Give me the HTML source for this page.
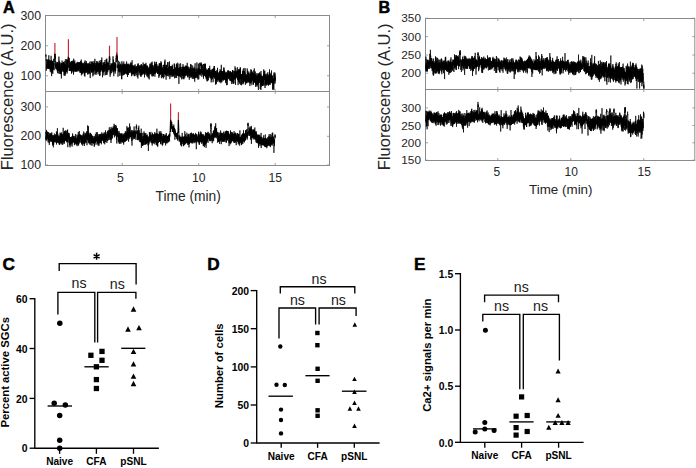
<!DOCTYPE html>
<html><head><meta charset="utf-8"><style>
html,body{margin:0;padding:0;background:#fff;}
body{width:696px;height:468px;overflow:hidden;}
svg{display:block;font-family:"Liberation Sans", sans-serif;}
</style></head><body>
<svg width="696" height="468" viewBox="0 0 696 468">
<rect width="696" height="468" fill="#fff"/>
<rect x="45.5" y="15.5" width="284.0" height="150.0" fill="none" stroke="#8a8a8a" stroke-width="1"/>
<line x1="45.5" y1="91.5" x2="329.5" y2="91.5" stroke="#8a8a8a" stroke-width="1"/>
<line x1="122.2" y1="15.5" x2="122.2" y2="18.0" stroke="#8a8a8a" stroke-width="0.8"/>
<line x1="122.2" y1="91.5" x2="122.2" y2="94.0" stroke="#8a8a8a" stroke-width="0.8"/>
<line x1="122.2" y1="91.5" x2="122.2" y2="89.0" stroke="#8a8a8a" stroke-width="0.8"/>
<line x1="122.2" y1="165.5" x2="122.2" y2="163.0" stroke="#8a8a8a" stroke-width="0.8"/>
<line x1="198.7" y1="15.5" x2="198.7" y2="18.0" stroke="#8a8a8a" stroke-width="0.8"/>
<line x1="198.7" y1="91.5" x2="198.7" y2="94.0" stroke="#8a8a8a" stroke-width="0.8"/>
<line x1="198.7" y1="91.5" x2="198.7" y2="89.0" stroke="#8a8a8a" stroke-width="0.8"/>
<line x1="198.7" y1="165.5" x2="198.7" y2="163.0" stroke="#8a8a8a" stroke-width="0.8"/>
<line x1="275.2" y1="15.5" x2="275.2" y2="18.0" stroke="#8a8a8a" stroke-width="0.8"/>
<line x1="275.2" y1="91.5" x2="275.2" y2="94.0" stroke="#8a8a8a" stroke-width="0.8"/>
<line x1="275.2" y1="91.5" x2="275.2" y2="89.0" stroke="#8a8a8a" stroke-width="0.8"/>
<line x1="275.2" y1="165.5" x2="275.2" y2="163.0" stroke="#8a8a8a" stroke-width="0.8"/>
<line x1="45.5" y1="15.5" x2="48.0" y2="15.5" stroke="#8a8a8a" stroke-width="0.8"/>
<line x1="329.5" y1="15.5" x2="327.0" y2="15.5" stroke="#8a8a8a" stroke-width="0.8"/>
<text x="41.0" y="19.6" font-size="12.3" text-anchor="end" font-weight="normal" fill="#262626" >300</text>
<line x1="45.5" y1="45.8" x2="48.0" y2="45.8" stroke="#8a8a8a" stroke-width="0.8"/>
<line x1="329.5" y1="45.8" x2="327.0" y2="45.8" stroke="#8a8a8a" stroke-width="0.8"/>
<text x="41.0" y="49.9" font-size="12.3" text-anchor="end" font-weight="normal" fill="#262626" >200</text>
<line x1="45.5" y1="75.8" x2="48.0" y2="75.8" stroke="#8a8a8a" stroke-width="0.8"/>
<line x1="329.5" y1="75.8" x2="327.0" y2="75.8" stroke="#8a8a8a" stroke-width="0.8"/>
<text x="41.0" y="79.89999999999999" font-size="12.3" text-anchor="end" font-weight="normal" fill="#262626" >100</text>
<line x1="45.5" y1="106.9" x2="48.0" y2="106.9" stroke="#8a8a8a" stroke-width="0.8"/>
<line x1="329.5" y1="106.9" x2="327.0" y2="106.9" stroke="#8a8a8a" stroke-width="0.8"/>
<text x="41.0" y="111.0" font-size="12.3" text-anchor="end" font-weight="normal" fill="#262626" >300</text>
<line x1="45.5" y1="136.3" x2="48.0" y2="136.3" stroke="#8a8a8a" stroke-width="0.8"/>
<line x1="329.5" y1="136.3" x2="327.0" y2="136.3" stroke="#8a8a8a" stroke-width="0.8"/>
<text x="41.0" y="140.4" font-size="12.3" text-anchor="end" font-weight="normal" fill="#262626" >200</text>
<line x1="45.5" y1="165.0" x2="48.0" y2="165.0" stroke="#8a8a8a" stroke-width="0.8"/>
<line x1="329.5" y1="165.0" x2="327.0" y2="165.0" stroke="#8a8a8a" stroke-width="0.8"/>
<text x="41.0" y="169.1" font-size="12.3" text-anchor="end" font-weight="normal" fill="#262626" >100</text>
<text x="120.3" y="182.1" font-size="12.2" text-anchor="middle" font-weight="normal" fill="#262626" >5</text>
<text x="198.7" y="182.1" font-size="12.2" text-anchor="middle" font-weight="normal" fill="#262626" >10</text>
<text x="275.2" y="182.1" font-size="12.2" text-anchor="middle" font-weight="normal" fill="#262626" >15</text>
<text x="188.2" y="200.7" font-size="13.8" text-anchor="middle" font-weight="normal" fill="#262626" >Time (min)</text>
<text x="0" y="0" font-size="16.5" text-anchor="start" font-weight="normal" fill="#262626" transform="translate(12.8,170.2) rotate(-90)">Fluorescence (A.U.)</text>
<text x="2.9" y="12.8" font-size="16.2" text-anchor="start" font-weight="bold" fill="#000" stroke="#000" stroke-width="0.5">A</text>
<rect x="425.5" y="18.5" width="269.29999999999995" height="142.0" fill="none" stroke="#8a8a8a" stroke-width="1"/>
<line x1="425.5" y1="89.5" x2="694.8" y2="89.5" stroke="#8a8a8a" stroke-width="1"/>
<line x1="497.8" y1="18.5" x2="497.8" y2="21.0" stroke="#8a8a8a" stroke-width="0.8"/>
<line x1="497.8" y1="89.5" x2="497.8" y2="92.0" stroke="#8a8a8a" stroke-width="0.8"/>
<line x1="497.8" y1="89.5" x2="497.8" y2="87.0" stroke="#8a8a8a" stroke-width="0.8"/>
<line x1="497.8" y1="160.5" x2="497.8" y2="158.0" stroke="#8a8a8a" stroke-width="0.8"/>
<line x1="570.8" y1="18.5" x2="570.8" y2="21.0" stroke="#8a8a8a" stroke-width="0.8"/>
<line x1="570.8" y1="89.5" x2="570.8" y2="92.0" stroke="#8a8a8a" stroke-width="0.8"/>
<line x1="570.8" y1="89.5" x2="570.8" y2="87.0" stroke="#8a8a8a" stroke-width="0.8"/>
<line x1="570.8" y1="160.5" x2="570.8" y2="158.0" stroke="#8a8a8a" stroke-width="0.8"/>
<line x1="643.8" y1="18.5" x2="643.8" y2="21.0" stroke="#8a8a8a" stroke-width="0.8"/>
<line x1="643.8" y1="89.5" x2="643.8" y2="92.0" stroke="#8a8a8a" stroke-width="0.8"/>
<line x1="643.8" y1="89.5" x2="643.8" y2="87.0" stroke="#8a8a8a" stroke-width="0.8"/>
<line x1="643.8" y1="160.5" x2="643.8" y2="158.0" stroke="#8a8a8a" stroke-width="0.8"/>
<line x1="425.5" y1="18.2" x2="428.0" y2="18.2" stroke="#8a8a8a" stroke-width="0.8"/>
<line x1="694.8" y1="18.2" x2="692.3" y2="18.2" stroke="#8a8a8a" stroke-width="0.8"/>
<text x="421.0" y="22.4" font-size="11.8" text-anchor="end" font-weight="normal" fill="#262626" >350</text>
<line x1="425.5" y1="36.6" x2="428.0" y2="36.6" stroke="#8a8a8a" stroke-width="0.8"/>
<line x1="694.8" y1="36.6" x2="692.3" y2="36.6" stroke="#8a8a8a" stroke-width="0.8"/>
<text x="421.0" y="40.800000000000004" font-size="11.8" text-anchor="end" font-weight="normal" fill="#262626" >300</text>
<line x1="425.5" y1="55.0" x2="428.0" y2="55.0" stroke="#8a8a8a" stroke-width="0.8"/>
<line x1="694.8" y1="55.0" x2="692.3" y2="55.0" stroke="#8a8a8a" stroke-width="0.8"/>
<text x="421.0" y="59.2" font-size="11.8" text-anchor="end" font-weight="normal" fill="#262626" >250</text>
<line x1="425.5" y1="73.2" x2="428.0" y2="73.2" stroke="#8a8a8a" stroke-width="0.8"/>
<line x1="694.8" y1="73.2" x2="692.3" y2="73.2" stroke="#8a8a8a" stroke-width="0.8"/>
<text x="421.0" y="77.4" font-size="11.8" text-anchor="end" font-weight="normal" fill="#262626" >200</text>
<line x1="425.5" y1="107.9" x2="428.0" y2="107.9" stroke="#8a8a8a" stroke-width="0.8"/>
<line x1="694.8" y1="107.9" x2="692.3" y2="107.9" stroke="#8a8a8a" stroke-width="0.8"/>
<text x="421.0" y="112.10000000000001" font-size="11.8" text-anchor="end" font-weight="normal" fill="#262626" >300</text>
<line x1="425.5" y1="125.4" x2="428.0" y2="125.4" stroke="#8a8a8a" stroke-width="0.8"/>
<line x1="694.8" y1="125.4" x2="692.3" y2="125.4" stroke="#8a8a8a" stroke-width="0.8"/>
<text x="421.0" y="129.6" font-size="11.8" text-anchor="end" font-weight="normal" fill="#262626" >250</text>
<line x1="425.5" y1="142.8" x2="428.0" y2="142.8" stroke="#8a8a8a" stroke-width="0.8"/>
<line x1="694.8" y1="142.8" x2="692.3" y2="142.8" stroke="#8a8a8a" stroke-width="0.8"/>
<text x="421.0" y="147.0" font-size="11.8" text-anchor="end" font-weight="normal" fill="#262626" >200</text>
<line x1="425.5" y1="160.2" x2="428.0" y2="160.2" stroke="#8a8a8a" stroke-width="0.8"/>
<line x1="694.8" y1="160.2" x2="692.3" y2="160.2" stroke="#8a8a8a" stroke-width="0.8"/>
<text x="421.0" y="164.39999999999998" font-size="11.8" text-anchor="end" font-weight="normal" fill="#262626" >150</text>
<text x="496.8" y="176.4" font-size="12.0" text-anchor="middle" font-weight="normal" fill="#262626" >5</text>
<text x="571.3" y="176.4" font-size="12.0" text-anchor="middle" font-weight="normal" fill="#262626" >10</text>
<text x="644.3" y="176.4" font-size="12.0" text-anchor="middle" font-weight="normal" fill="#262626" >15</text>
<text x="560.8" y="193.5" font-size="13.4" text-anchor="middle" font-weight="normal" fill="#262626" >Time (min)</text>
<text x="0" y="0" font-size="16.5" text-anchor="start" font-weight="normal" fill="#262626" transform="translate(390.3,170.2) rotate(-90)">Fluorescence (A.U.)</text>
<text x="378.4" y="12.8" font-size="16.2" text-anchor="start" font-weight="bold" fill="#000" stroke="#000" stroke-width="0.5">B</text>
<polyline points="45.8,54.6 45.9,56.5 45.9,55.7 46.0,54.6 46.0,57.2 46.1,57.3 46.2,58.3 46.2,58.9 46.3,60.7 46.3,59.3 46.4,70.6 46.5,65.1 46.5,67.7 46.6,65.0 46.6,64.2 46.7,67.0 46.8,68.2 46.8,64.8 46.9,65.0 46.9,67.8 47.0,62.7 47.1,60.5 47.1,66.8 47.2,63.3 47.2,59.2 47.3,62.9 47.4,64.0 47.4,61.6 47.5,60.6 47.5,65.7 47.6,68.5 47.7,64.7 47.7,63.1 47.8,66.8 47.8,67.9 47.9,64.5 48.0,67.3 48.0,68.9 48.1,64.8 48.1,62.7 48.2,66.6 48.3,66.2 48.3,69.0 48.4,61.2 48.4,63.2 48.5,62.6 48.6,59.7 48.6,65.8 48.7,67.1 48.7,62.9 48.8,55.3 48.9,68.1 48.9,67.5 49.0,66.7 49.0,68.6 49.1,61.0 49.2,67.5 49.2,67.5 49.3,59.7 49.3,66.7 49.4,64.7 49.5,68.1 49.5,64.1 49.6,65.5 49.6,66.8 49.7,62.8 49.8,67.7 49.8,65.4 49.9,67.4 49.9,64.1 50.0,69.4 50.1,67.9 50.1,65.3 50.2,68.0 50.2,70.1 50.3,71.8 50.4,60.7 50.4,68.9 50.5,67.5 50.5,65.7 50.6,62.7 50.7,70.1 50.7,61.8 50.8,67.9 50.8,70.3 50.9,60.7 51.0,65.0 51.0,61.7 51.1,55.8 51.1,71.0 51.2,72.7 51.3,60.1 51.3,64.1 51.4,68.3 51.4,71.1 51.5,67.3 51.6,63.4 51.6,76.1 51.7,65.8 51.7,65.2 51.8,63.4 51.9,67.1 51.9,66.8 52.0,65.4 52.0,65.0 52.1,61.5 52.2,64.1 52.2,69.7 52.3,65.1 52.3,60.9 52.4,70.1 52.5,67.4 52.5,72.6 52.6,65.9 52.6,64.1 52.7,60.9 52.8,70.0 52.8,73.9 52.9,63.0 52.9,63.6 53.0,67.7 53.1,63.0 53.1,64.8 53.2,64.6 53.2,66.4 53.3,69.4 53.4,65.8 53.4,68.8 53.5,64.4 53.5,66.9 53.6,58.8 53.7,61.0 53.7,68.5 53.8,63.9 53.8,67.8 53.9,67.7 54.0,70.3 54.0,68.6 54.1,69.3 54.1,65.6 54.2,63.6 54.3,63.5 54.3,64.4 54.4,62.2 54.4,59.2 54.5,59.8 54.6,59.6 54.6,58.6 54.7,57.9 54.7,55.6 54.8,53.6 54.9,55.4 54.9,56.9 55.0,57.4 55.0,53.9 55.1,56.5 55.2,59.0 55.2,56.5 55.3,57.0 55.3,57.9 55.4,67.7 55.5,67.9 55.5,68.3 55.6,68.2 55.6,67.1 55.7,67.0 55.8,61.5 55.8,66.0 55.9,64.1 55.9,66.9 56.0,65.0 56.1,68.6 56.1,69.3 56.2,67.6 56.2,67.7 56.3,66.9 56.4,65.2 56.4,66.1 56.5,65.0 56.5,68.0 56.6,66.8 56.7,68.7 56.7,62.4 56.8,69.7 56.8,64.3 56.9,64.4 57.0,66.2 57.0,65.0 57.1,67.9 57.1,65.1 57.2,63.5 57.3,64.3 57.3,71.4 57.4,67.3 57.4,63.3 57.5,67.2 57.6,62.1 57.6,73.2 57.7,62.3 57.7,69.0 57.8,69.2 57.9,62.7 57.9,68.5 58.0,70.8 58.0,69.1 58.1,68.5 58.2,70.8 58.2,68.2 58.3,68.9 58.3,67.4 58.4,69.9 58.5,64.8 58.5,70.5 58.6,66.3 58.6,64.4 58.7,69.2 58.8,73.6 58.8,71.3 58.9,66.4 58.9,56.6 59.0,66.7 59.1,67.8 59.1,68.5 59.2,60.6 59.2,68.9 59.3,64.9 59.4,66.0 59.4,63.5 59.5,63.4 59.5,65.3 59.6,71.1 59.7,73.9 59.7,68.3 59.8,72.0 59.8,67.6 59.9,62.1 60.0,68.9 60.0,69.9 60.1,67.0 60.1,69.4 60.2,70.3 60.3,65.5 60.3,63.4 60.4,67.6 60.4,67.6 60.5,67.0 60.6,71.4 60.6,73.8 60.7,66.7 60.7,70.3 60.8,71.1 60.9,70.3 60.9,71.3 61.0,66.5 61.0,70.2 61.1,74.3 61.2,70.2 61.2,65.5 61.3,69.5 61.3,71.6 61.4,78.4 61.5,65.4 61.5,72.3 61.6,63.0 61.6,68.8 61.7,67.0 61.8,63.1 61.8,71.0 61.9,68.1 61.9,63.0 62.0,68.9 62.1,65.4 62.1,60.6 62.2,64.5 62.2,67.7 62.3,68.9 62.4,67.3 62.4,67.0 62.5,68.4 62.5,66.1 62.6,70.7 62.7,67.4 62.7,67.9 62.8,68.7 62.8,63.4 62.9,64.6 63.0,72.0 63.0,68.1 63.1,66.1 63.1,68.2 63.2,65.5 63.3,68.1 63.3,65.0 63.4,68.1 63.4,62.0 63.5,71.6 63.6,65.6 63.6,62.0 63.7,66.5 63.7,66.1 63.8,67.8 63.9,63.5 63.9,68.6 64.0,75.5 64.0,63.1 64.1,68.4 64.2,66.3 64.2,67.9 64.3,61.3 64.3,63.5 64.4,68.8 64.5,67.1 64.5,72.6 64.6,64.9 64.6,67.8 64.7,75.5 64.8,64.7 64.8,64.3 64.9,67.1 64.9,67.1 65.0,70.1 65.1,67.7 65.1,64.8 65.2,68.0 65.2,75.6 65.3,71.6 65.4,59.2 65.4,67.0 65.5,64.6 65.5,69.6 65.6,67.0 65.7,74.0 65.7,70.7 65.8,70.6 65.8,68.3 65.9,67.6 66.0,68.9 66.0,72.1 66.1,69.6 66.1,66.7 66.2,72.1 66.3,68.5 66.3,67.6 66.4,65.3 66.4,66.0 66.5,65.8 66.6,59.6 66.6,71.2 66.7,69.7 66.7,67.1 66.8,71.2 66.9,69.1 66.9,68.9 67.0,59.4 67.0,66.8 67.1,69.2 67.2,72.7 67.2,73.4 67.3,72.0 67.3,63.4 67.4,59.9 67.5,69.0 67.5,67.1 67.6,70.1 67.6,66.5 67.7,67.6 67.8,61.8 67.8,68.2 67.9,65.2 67.9,60.5 68.0,62.1 68.1,59.0 68.1,58.6 68.2,58.9 68.2,59.7 68.3,59.3 68.4,56.1 68.4,58.3 68.5,56.9 68.5,57.4 68.6,57.2 68.7,57.9 68.7,59.9 68.8,61.4 68.8,61.2 68.9,66.6 69.0,67.8 69.0,61.6 69.1,63.8 69.1,65.4 69.2,71.0 69.3,57.9 69.3,67.1 69.4,63.9 69.4,67.1 69.5,64.1 69.6,66.9 69.6,70.9 69.7,66.9 69.7,67.2 69.8,67.1 69.9,63.4 69.9,67.7 70.0,65.3 70.0,63.3 70.1,65.9 70.2,65.3 70.2,68.6 70.3,66.0 70.3,64.5 70.4,71.1 70.5,69.6 70.5,70.5 70.6,68.4 70.6,66.1 70.7,65.1 70.8,65.6 70.8,69.7 70.9,66.9 70.9,61.7 71.0,66.5 71.1,62.0 71.1,67.2 71.2,62.7 71.2,62.5 71.3,67.0 71.4,66.4 71.4,61.1 71.5,69.1 71.5,73.7 71.6,61.7 71.7,72.6 71.7,64.3 71.8,64.9 71.8,65.9 71.9,61.7 72.0,70.8 72.0,68.1 72.1,64.0 72.1,65.5 72.2,61.4 72.3,65.3 72.3,69.5 72.4,60.8 72.4,65.0 72.5,66.9 72.6,69.9 72.6,70.9 72.7,65.0 72.7,64.1 72.8,68.0 72.9,65.4 72.9,65.6 73.0,70.2 73.0,72.3 73.1,67.6 73.2,66.1 73.2,68.6 73.3,60.6 73.3,66.7 73.4,63.3 73.5,74.7 73.5,69.2 73.6,67.3 73.6,66.3 73.7,58.7 73.8,69.3 73.8,72.3 73.9,64.5 73.9,69.2 74.0,69.3 74.1,61.8 74.1,70.1 74.2,71.5 74.2,67.8 74.3,66.8 74.4,69.6 74.4,62.0 74.5,67.4 74.5,70.6 74.6,63.0 74.7,70.4 74.7,65.8 74.8,60.4 74.8,66.9 74.9,64.1 75.0,68.4 75.0,63.5 75.1,70.9 75.1,65.1 75.2,68.7 75.3,65.6 75.3,66.6 75.4,71.6 75.4,68.4 75.5,66.4 75.6,63.6 75.6,71.6 75.7,70.2 75.7,66.7 75.8,68.6 75.9,64.4 75.9,64.5 76.0,65.1 76.0,68.9 76.1,68.7 76.2,65.3 76.2,70.1 76.3,70.3 76.3,68.2 76.4,71.0 76.5,66.6 76.5,67.1 76.6,69.0 76.6,67.3 76.7,70.0 76.8,63.2 76.8,72.0 76.9,64.6 76.9,66.6 77.0,62.6 77.1,69.0 77.1,71.2 77.2,70.5 77.2,69.7 77.3,61.8 77.4,64.3 77.4,65.3 77.5,63.7 77.5,70.5 77.6,67.4 77.7,66.6 77.7,68.3 77.8,63.6 77.8,63.7 77.9,63.8 78.0,68.3 78.0,67.8 78.1,68.6 78.1,70.3 78.2,62.3 78.3,64.9 78.3,67.3 78.4,62.4 78.4,65.1 78.5,70.2 78.6,70.5 78.6,70.5 78.7,67.1 78.7,66.3 78.8,70.6 78.9,65.8 78.9,68.2 79.0,71.5 79.0,65.9 79.1,65.2 79.2,67.2 79.2,69.2 79.3,68.8 79.3,67.8 79.4,69.1 79.5,62.0 79.5,64.5 79.6,67.9 79.6,64.3 79.7,62.9 79.8,63.4 79.8,64.3 79.9,66.8 79.9,64.0 80.0,68.2 80.1,73.0 80.1,66.9 80.2,71.6 80.2,68.4 80.3,63.8 80.4,66.6 80.4,64.2 80.5,70.0 80.5,63.7 80.6,71.9 80.7,69.5 80.7,60.9 80.8,70.2 80.8,72.8 80.9,65.0 81.0,70.9 81.0,61.8 81.1,68.6 81.1,62.3 81.2,69.4 81.3,61.9 81.3,59.6 81.4,69.1 81.4,75.4 81.5,65.9 81.6,70.6 81.6,68.2 81.7,66.8 81.7,69.9 81.8,73.3 81.9,63.8 81.9,69.7 82.0,69.0 82.0,63.2 82.1,73.2 82.2,74.3 82.2,64.7 82.3,73.6 82.3,68.0 82.4,67.3 82.5,72.8 82.5,68.6 82.6,68.9 82.6,72.8 82.7,72.1 82.8,70.8 82.8,63.2 82.9,62.6 82.9,71.6 83.0,64.8 83.1,68.4 83.1,64.3 83.2,67.3 83.2,63.7 83.3,73.3 83.4,64.6 83.4,67.6 83.5,67.4 83.5,72.0 83.6,63.3 83.7,68.0 83.7,67.4 83.8,69.9 83.8,69.7 83.9,66.6 84.0,69.0 84.0,67.0 84.1,69.8 84.1,68.0 84.2,66.2 84.3,68.3 84.3,69.6 84.4,75.9 84.4,66.8 84.5,69.5 84.6,73.3 84.6,61.7 84.7,62.8 84.7,64.6 84.8,68.2 84.9,76.6 84.9,69.9 85.0,72.6 85.0,67.8 85.1,60.4 85.2,60.9 85.2,71.9 85.3,69.1 85.3,64.2 85.4,72.1 85.5,63.3 85.5,72.0 85.6,73.0 85.6,65.6 85.7,64.4 85.8,70.8 85.8,64.3 85.9,70.7 85.9,63.9 86.0,70.4 86.1,67.9 86.1,66.1 86.2,64.5 86.2,68.2 86.3,61.1 86.4,66.3 86.4,65.8 86.5,69.3 86.5,62.9 86.6,72.6 86.7,65.8 86.7,63.0 86.8,71.3 86.8,72.2 86.9,66.0 87.0,63.7 87.0,66.6 87.1,64.3 87.1,65.5 87.2,71.6 87.3,67.8 87.3,67.0 87.4,67.6 87.4,66.3 87.5,69.3 87.6,69.4 87.6,65.3 87.7,66.9 87.7,74.6 87.8,68.0 87.9,66.1 87.9,73.5 88.0,66.8 88.0,63.2 88.1,69.1 88.2,63.9 88.2,65.3 88.3,68.1 88.3,66.6 88.4,64.6 88.5,65.3 88.5,65.3 88.6,71.1 88.6,64.9 88.7,65.5 88.8,74.1 88.8,65.6 88.9,72.4 88.9,71.8 89.0,67.0 89.1,62.9 89.1,69.1 89.2,69.8 89.2,70.8 89.3,67.8 89.4,71.6 89.4,72.2 89.5,64.1 89.5,72.3 89.6,68.2 89.7,65.7 89.7,66.5 89.8,73.8 89.8,70.8 89.9,61.6 90.0,67.8 90.0,67.1 90.1,66.9 90.1,65.8 90.2,78.1 90.3,70.3 90.3,64.4 90.4,66.2 90.4,65.5 90.5,65.0 90.6,69.9 90.6,68.7 90.7,65.2 90.7,64.3 90.8,65.9 90.9,70.6 90.9,67.8 91.0,68.2 91.0,66.3 91.1,66.6 91.2,68.1 91.2,61.3 91.3,72.8 91.3,64.8 91.4,65.6 91.5,71.9 91.5,68.2 91.6,67.6 91.6,65.6 91.7,62.4 91.8,68.2 91.8,71.5 91.9,64.7 91.9,72.2 92.0,64.0 92.1,65.3 92.1,69.4 92.2,67.8 92.2,70.1 92.3,65.4 92.4,64.5 92.4,61.8 92.5,64.0 92.5,64.5 92.6,63.4 92.7,69.1 92.7,65.9 92.8,61.6 92.8,76.4 92.9,65.4 93.0,64.1 93.0,72.3 93.1,72.1 93.1,64.5 93.2,63.4 93.3,65.0 93.3,72.0 93.4,67.2 93.4,65.6 93.5,68.1 93.6,72.2 93.6,63.6 93.7,66.9 93.7,63.5 93.8,75.2 93.9,74.0 93.9,71.1 94.0,67.5 94.0,70.1 94.1,60.9 94.2,68.7 94.2,63.3 94.3,63.3 94.3,65.3 94.4,66.4 94.5,69.4 94.5,69.8 94.6,68.3 94.6,64.2 94.7,69.5 94.8,66.8 94.8,71.1 94.9,64.1 94.9,58.8 95.0,65.5 95.1,74.1 95.1,68.5 95.2,66.3 95.2,69.8 95.3,68.5 95.4,68.3 95.4,65.1 95.5,67.0 95.5,67.4 95.6,64.6 95.7,63.0 95.7,67.2 95.8,69.9 95.8,68.8 95.9,68.3 96.0,68.3 96.0,74.9 96.1,67.6 96.1,70.1 96.2,73.2 96.3,66.9 96.3,67.6 96.4,70.2 96.4,72.3 96.5,67.8 96.6,68.0 96.6,67.1 96.7,62.9 96.7,70.5 96.8,66.0 96.9,61.2 96.9,66.4 97.0,61.2 97.0,63.6 97.1,67.0 97.2,64.0 97.2,70.5 97.3,62.2 97.3,67.9 97.4,68.9 97.5,71.9 97.5,70.1 97.6,67.9 97.6,67.4 97.7,67.0 97.8,70.9 97.8,65.0 97.9,68.9 97.9,66.9 98.0,68.0 98.1,66.4 98.1,74.3 98.2,65.1 98.2,68.2 98.3,68.3 98.4,69.4 98.4,68.9 98.5,68.8 98.5,70.7 98.6,62.5 98.7,67.5 98.7,63.4 98.8,68.3 98.8,63.6 98.9,64.4 99.0,67.4 99.0,72.2 99.1,69.5 99.1,68.6 99.2,72.2 99.3,64.5 99.3,60.7 99.4,66.2 99.4,66.7 99.5,71.7 99.6,74.7 99.6,63.2 99.7,75.8 99.7,72.8 99.8,70.4 99.9,68.8 99.9,75.6 100.0,67.8 100.0,66.0 100.1,68.0 100.2,63.0 100.2,69.0 100.3,67.1 100.3,68.5 100.4,68.6 100.5,63.9 100.5,71.7 100.6,64.0 100.6,70.2 100.7,62.0 100.8,68.5 100.8,64.5 100.9,67.4 100.9,65.1 101.0,60.0 101.1,63.5 101.1,67.4 101.2,69.2 101.2,62.3 101.3,60.2 101.4,64.3 101.4,66.5 101.5,65.1 101.5,64.5 101.6,70.0 101.7,70.3 101.7,69.6 101.8,64.1 101.8,57.5 101.9,66.5 102.0,62.5 102.0,70.1 102.1,67.5 102.1,65.6 102.2,71.9 102.3,69.8 102.3,70.1 102.4,71.3 102.4,69.7 102.5,77.3 102.6,66.1 102.6,70.7 102.7,64.9 102.7,67.6 102.8,68.8 102.9,72.3 102.9,71.9 103.0,70.6 103.0,67.1 103.1,70.7 103.2,69.5 103.2,67.3 103.3,72.3 103.3,69.5 103.4,65.5 103.5,72.2 103.5,67.2 103.6,70.1 103.6,63.1 103.7,68.1 103.8,65.1 103.8,65.0 103.9,62.0 103.9,75.4 104.0,67.8 104.1,69.1 104.1,72.0 104.2,68.0 104.2,70.1 104.3,63.9 104.4,69.1 104.4,67.1 104.5,70.1 104.5,69.0 104.6,63.8 104.7,62.3 104.7,65.0 104.8,70.8 104.8,69.7 104.9,69.6 105.0,61.6 105.0,60.0 105.1,66.1 105.1,67.1 105.2,66.1 105.3,69.3 105.3,67.5 105.4,64.1 105.4,65.0 105.5,68.4 105.6,68.1 105.6,67.5 105.7,75.2 105.7,66.8 105.8,68.0 105.9,64.3 105.9,66.3 106.0,69.2 106.0,69.3 106.1,66.8 106.2,68.6 106.2,67.4 106.3,61.0 106.3,58.9 106.4,74.7 106.5,69.8 106.5,66.8 106.6,61.2 106.6,62.7 106.7,71.3 106.8,58.6 106.8,65.7 106.9,69.6 106.9,67.2 107.0,69.2 107.1,66.3 107.1,74.6 107.2,63.3 107.2,62.2 107.3,67.6 107.4,71.4 107.4,66.6 107.5,70.2 107.5,65.1 107.6,62.9 107.7,71.5 107.7,72.1 107.8,72.1 107.8,65.6 107.9,63.3 108.0,63.4 108.0,66.6 108.1,69.3 108.1,69.2 108.2,62.9 108.3,68.3 108.3,67.8 108.4,68.2 108.4,67.9 108.5,67.4 108.6,70.1 108.6,68.6 108.7,69.1 108.7,66.1 108.8,69.8 108.9,68.1 108.9,61.6 109.0,70.2 109.0,62.6 109.1,59.9 109.2,59.7 109.2,58.8 109.3,57.4 109.3,57.0 109.4,57.9 109.5,56.0 109.5,56.2 109.6,56.2 109.6,59.9 109.7,57.0 109.8,58.7 109.8,59.8 109.9,59.5 109.9,60.3 110.0,69.5 110.1,76.7 110.1,65.0 110.2,69.1 110.2,67.1 110.3,66.4 110.4,69.1 110.4,72.9 110.5,65.7 110.5,65.6 110.6,70.3 110.7,69.7 110.7,74.3 110.8,71.2 110.8,68.5 110.9,66.6 111.0,68.4 111.0,67.0 111.1,63.1 111.1,67.6 111.2,66.9 111.3,66.7 111.3,66.1 111.4,73.0 111.4,69.7 111.5,70.5 111.6,65.4 111.6,64.0 111.7,66.4 111.7,68.2 111.8,66.2 111.9,66.7 111.9,70.5 112.0,68.3 112.0,64.1 112.1,65.9 112.2,65.2 112.2,68.0 112.3,63.5 112.3,66.8 112.4,69.7 112.5,67.5 112.5,64.4 112.6,65.4 112.6,67.9 112.7,69.1 112.8,70.3 112.8,67.0 112.9,63.2 112.9,72.3 113.0,56.3 113.1,69.0 113.1,68.6 113.2,64.2 113.2,66.6 113.3,68.6 113.4,71.2 113.4,68.0 113.5,59.6 113.5,67.1 113.6,69.1 113.7,72.2 113.7,70.3 113.8,76.2 113.8,72.7 113.9,72.5 114.0,71.2 114.0,63.6 114.1,71.0 114.1,70.2 114.2,66.5 114.3,70.2 114.3,69.7 114.4,66.8 114.4,67.9 114.5,67.5 114.6,69.1 114.6,67.0 114.7,70.2 114.7,62.1 114.8,67.5 114.9,62.9 114.9,66.9 115.0,70.2 115.0,68.5 115.1,68.1 115.2,68.7 115.2,73.6 115.3,64.8 115.3,71.4 115.4,63.5 115.5,66.9 115.5,69.0 115.6,65.6 115.6,69.1 115.7,70.8 115.8,64.5 115.8,68.1 115.9,67.1 115.9,62.0 116.0,60.5 116.1,62.2 116.1,58.2 116.2,60.5 116.2,58.0 116.3,55.5 116.4,58.6 116.4,55.6 116.5,57.2 116.5,57.9 116.6,53.4 116.7,53.5 116.7,52.6 116.8,58.0 116.8,57.1 116.9,58.0 117.0,58.1 117.0,55.7 117.1,54.0 117.1,54.5 117.2,59.5 117.3,58.3 117.3,58.8 117.4,56.4 117.4,60.2 117.5,59.0 117.6,62.1 117.6,67.9 117.7,66.3 117.7,67.2 117.8,65.0 117.9,64.7 117.9,67.8 118.0,65.0 118.0,76.8 118.1,67.3 118.2,66.6 118.2,67.0 118.3,65.3 118.3,60.8 118.4,68.1 118.5,70.0 118.5,64.1 118.6,69.1 118.6,65.1 118.7,69.1 118.8,70.4 118.8,70.9 118.9,70.7 118.9,67.0 119.0,72.3 119.1,67.9 119.1,70.5 119.2,71.7 119.2,68.4 119.3,65.2 119.4,71.4 119.4,65.7 119.5,66.4 119.5,65.7 119.6,72.1 119.7,68.7 119.7,61.8 119.8,71.6 119.8,76.0 119.9,75.0 120.0,67.2 120.0,69.2 120.1,70.6 120.1,71.8 120.2,68.9 120.3,65.1 120.3,71.2 120.4,70.7 120.4,64.2 120.5,67.3 120.6,69.3 120.6,68.4 120.7,70.1 120.7,70.9 120.8,70.1 120.9,67.9 120.9,63.7 121.0,70.2 121.0,72.8 121.1,74.6 121.2,68.0 121.2,68.0 121.3,72.9 121.3,72.8 121.4,69.2 121.5,78.9 121.5,65.6 121.6,70.0 121.6,65.4 121.7,67.6 121.8,67.7 121.8,79.3 121.9,61.2 121.9,65.5 122.0,69.3 122.1,68.1 122.1,67.0 122.2,69.7 122.2,70.6 122.3,71.2 122.4,65.7 122.4,68.5 122.5,67.4 122.5,65.6 122.6,63.6 122.7,68.2 122.7,65.7 122.8,75.7 122.8,68.3 122.9,68.0 123.0,67.4 123.0,75.0 123.1,65.7 123.1,68.4 123.2,66.4 123.3,68.6 123.3,69.0 123.4,72.8 123.4,64.5 123.5,69.2 123.6,74.7 123.6,67.8 123.7,68.9 123.7,66.7 123.8,61.5 123.9,69.4 123.9,73.7 124.0,68.4 124.0,63.9 124.1,71.0 124.2,70.4 124.2,73.6 124.3,73.4 124.3,69.5 124.4,71.8 124.5,64.6 124.5,74.3 124.6,71.3 124.6,74.3 124.7,74.3 124.8,69.9 124.8,70.4 124.9,68.0 124.9,64.1 125.0,70.5 125.1,71.4 125.1,67.3 125.2,73.3 125.2,71.2 125.3,72.4 125.4,68.3 125.4,65.0 125.5,73.3 125.5,72.7 125.6,70.3 125.7,69.2 125.7,69.6 125.8,70.0 125.8,68.7 125.9,63.7 126.0,72.9 126.0,65.3 126.1,69.0 126.1,69.1 126.2,70.9 126.3,64.6 126.3,73.9 126.4,72.0 126.4,72.3 126.5,73.9 126.6,67.1 126.6,61.5 126.7,70.7 126.7,74.0 126.8,73.4 126.9,67.8 126.9,69.3 127.0,70.5 127.0,63.6 127.1,67.4 127.2,67.5 127.2,74.8 127.3,67.5 127.3,74.8 127.4,69.7 127.5,64.1 127.5,77.0 127.6,66.4 127.6,71.7 127.7,75.3 127.8,67.9 127.8,65.6 127.9,73.1 127.9,69.8 128.0,65.6 128.1,66.0 128.1,68.3 128.2,72.7 128.2,68.5 128.3,71.6 128.4,74.9 128.4,73.6 128.5,74.1 128.5,73.3 128.6,63.9 128.7,73.2 128.7,70.2 128.8,68.7 128.8,65.4 128.9,63.7 129.0,65.3 129.0,68.8 129.1,65.0 129.1,66.1 129.2,66.7 129.3,70.9 129.3,67.7 129.4,68.2 129.4,73.0 129.5,67.6 129.6,70.6 129.6,65.1 129.7,69.7 129.7,69.0 129.8,69.2 129.9,67.0 129.9,65.2 130.0,67.6 130.0,67.0 130.1,72.0 130.2,71.6 130.2,64.6 130.3,70.7 130.3,67.0 130.4,70.1 130.5,67.0 130.5,63.7 130.6,71.9 130.6,70.1 130.7,64.5 130.8,62.3 130.8,66.8 130.9,64.7 130.9,67.3 131.0,70.6 131.1,73.4 131.1,67.3 131.2,73.0 131.2,72.3 131.3,67.0 131.4,63.0 131.4,71.3 131.5,70.5 131.5,76.2 131.6,73.2 131.7,71.0 131.7,74.0 131.8,65.0 131.8,69.1 131.9,67.6 132.0,74.2 132.0,70.4 132.1,60.3 132.1,73.1 132.2,65.6 132.3,71.2 132.3,67.1 132.4,69.5 132.4,70.9 132.5,69.5 132.6,65.7 132.6,73.5 132.7,70.3 132.7,69.0 132.8,71.4 132.9,67.4 132.9,75.4 133.0,70.0 133.0,70.6 133.1,70.6 133.2,66.5 133.2,65.7 133.3,70.3 133.3,70.8 133.4,74.2 133.5,71.3 133.5,66.2 133.6,71.6 133.6,72.7 133.7,73.3 133.8,71.1 133.8,66.1 133.9,74.0 133.9,67.8 134.0,72.1 134.1,65.1 134.1,72.8 134.2,67.7 134.2,73.9 134.3,76.2 134.4,74.3 134.4,66.6 134.5,67.3 134.5,67.6 134.6,72.7 134.7,71.6 134.7,71.0 134.8,71.5 134.8,72.4 134.9,72.6 135.0,76.1 135.0,70.3 135.1,71.1 135.1,64.3 135.2,66.0 135.3,68.1 135.3,66.4 135.4,71.0 135.4,73.6 135.5,68.7 135.6,68.5 135.6,68.3 135.7,70.4 135.7,68.1 135.8,71.2 135.9,70.7 135.9,70.8 136.0,72.1 136.0,69.6 136.1,69.9 136.2,75.1 136.2,69.1 136.3,71.8 136.3,69.3 136.4,67.5 136.5,67.5 136.5,66.2 136.6,68.9 136.6,66.8 136.7,67.3 136.8,72.7 136.8,68.2 136.9,72.4 136.9,69.5 137.0,71.4 137.1,66.5 137.1,69.0 137.2,76.8 137.2,71.3 137.3,71.9 137.4,69.3 137.4,71.4 137.5,64.7 137.5,65.8 137.6,70.0 137.7,71.4 137.7,67.3 137.8,68.1 137.8,67.6 137.9,78.5 138.0,64.9 138.0,64.1 138.1,68.6 138.1,63.2 138.2,65.8 138.3,66.9 138.3,65.6 138.4,69.9 138.4,67.7 138.5,69.0 138.6,66.0 138.6,66.9 138.7,71.1 138.7,70.7 138.8,68.1 138.9,70.9 138.9,70.4 139.0,70.4 139.0,75.2 139.1,68.7 139.2,71.5 139.2,71.6 139.3,69.5 139.3,66.5 139.4,72.7 139.5,71.4 139.5,70.8 139.6,70.7 139.6,70.8 139.7,67.9 139.8,71.9 139.8,65.0 139.9,70.9 139.9,66.1 140.0,69.9 140.1,73.5 140.1,70.3 140.2,69.6 140.2,72.9 140.3,70.3 140.4,69.8 140.4,69.8 140.5,76.1 140.5,73.3 140.6,72.6 140.7,67.0 140.7,73.0 140.8,66.6 140.8,72.3 140.9,67.0 141.0,77.0 141.0,64.9 141.1,74.4 141.1,73.0 141.2,64.4 141.3,69.3 141.3,74.8 141.4,73.7 141.4,64.4 141.5,68.0 141.6,65.8 141.6,66.2 141.7,67.4 141.7,75.5 141.8,69.8 141.9,68.5 141.9,68.1 142.0,71.4 142.0,71.4 142.1,66.1 142.2,73.9 142.2,65.4 142.3,68.1 142.3,70.5 142.4,74.6 142.5,67.8 142.5,69.9 142.6,73.2 142.6,71.0 142.7,72.7 142.8,72.4 142.8,69.8 142.9,71.1 142.9,72.0 143.0,68.9 143.1,74.3 143.1,62.5 143.2,66.0 143.2,73.9 143.3,70.5 143.4,67.0 143.4,70.4 143.5,72.7 143.5,67.3 143.6,71.7 143.7,68.8 143.7,68.8 143.8,68.9 143.8,72.8 143.9,65.5 144.0,67.9 144.0,71.3 144.1,65.1 144.1,63.9 144.2,71.0 144.3,69.1 144.3,68.6 144.4,69.5 144.4,65.8 144.5,77.4 144.6,65.7 144.6,67.5 144.7,64.2 144.7,67.5 144.8,73.9 144.9,69.0 144.9,70.8 145.0,67.3 145.0,74.9 145.1,69.4 145.2,64.8 145.2,71.5 145.3,67.7 145.3,71.0 145.4,69.5 145.5,69.9 145.5,69.5 145.6,66.2 145.6,64.2 145.7,72.5 145.8,68.9 145.8,70.3 145.9,67.9 145.9,62.8 146.0,65.4 146.1,74.3 146.1,67.2 146.2,68.6 146.2,65.0 146.3,68.2 146.4,68.8 146.4,69.4 146.5,69.9 146.5,68.2 146.6,68.4 146.7,70.3 146.7,71.5 146.8,70.0 146.8,76.3 146.9,71.3 147.0,71.2 147.0,68.5 147.1,74.1 147.1,67.4 147.2,65.5 147.3,67.6 147.3,72.9 147.4,67.1 147.4,75.2 147.5,70.9 147.6,66.0 147.6,70.3 147.7,76.9 147.7,68.2 147.8,66.8 147.9,72.8 147.9,75.4 148.0,74.5 148.0,70.0 148.1,71.8 148.2,72.2 148.2,75.0 148.3,78.2 148.3,70.8 148.4,75.4 148.5,70.0 148.5,73.1 148.6,68.1 148.6,68.6 148.7,72.5 148.8,68.2 148.8,74.0 148.9,69.3 148.9,71.3 149.0,70.8 149.1,69.9 149.1,71.4 149.2,74.5 149.2,79.4 149.3,67.0 149.4,71.8 149.4,70.2 149.5,67.8 149.5,71.7 149.6,67.8 149.7,70.3 149.7,74.6 149.8,63.8 149.8,71.2 149.9,71.8 150.0,67.1 150.0,71.9 150.1,71.3 150.1,68.9 150.2,74.0 150.3,65.6 150.3,71.9 150.4,68.9 150.4,66.2 150.5,69.0 150.6,68.3 150.6,72.1 150.7,64.4 150.7,68.6 150.8,67.7 150.9,74.3 150.9,65.4 151.0,72.5 151.0,63.2 151.1,70.1 151.2,68.5 151.2,70.1 151.3,66.6 151.3,62.4 151.4,63.8 151.5,73.2 151.5,69.6 151.6,66.1 151.6,71.9 151.7,66.5 151.8,66.6 151.8,65.1 151.9,73.0 151.9,75.7 152.0,66.1 152.1,70.3 152.1,72.6 152.2,76.5 152.2,61.7 152.3,70.1 152.4,71.9 152.4,65.0 152.5,71.3 152.5,70.7 152.6,72.5 152.7,68.2 152.7,71.6 152.8,68.3 152.8,72.4 152.9,71.0 153.0,69.3 153.0,65.9 153.1,76.0 153.1,74.3 153.2,73.5 153.3,68.5 153.3,69.5 153.4,76.2 153.4,73.1 153.5,67.8 153.6,70.8 153.6,71.1 153.7,69.9 153.7,67.4 153.8,74.6 153.9,72.4 153.9,69.7 154.0,65.1 154.0,68.3 154.1,70.2 154.2,73.0 154.2,68.8 154.3,73.6 154.3,70.3 154.4,67.3 154.5,61.7 154.5,65.7 154.6,64.6 154.6,68.9 154.7,70.4 154.8,73.8 154.8,69.1 154.9,65.2 154.9,76.7 155.0,69.9 155.1,68.0 155.1,67.9 155.2,64.2 155.2,70.7 155.3,69.8 155.4,73.7 155.4,72.1 155.5,71.2 155.5,72.5 155.6,67.3 155.7,66.8 155.7,68.0 155.8,64.1 155.8,67.7 155.9,67.0 156.0,70.3 156.0,68.1 156.1,61.8 156.1,68.2 156.2,72.8 156.3,62.1 156.3,65.7 156.4,68.3 156.4,63.9 156.5,66.5 156.6,68.5 156.6,64.0 156.7,69.4 156.7,69.8 156.8,64.3 156.9,68.7 156.9,72.2 157.0,68.1 157.0,70.2 157.1,71.0 157.2,68.1 157.2,72.2 157.3,70.3 157.3,65.8 157.4,70.9 157.5,72.1 157.5,71.9 157.6,67.2 157.6,70.9 157.7,73.9 157.8,70.2 157.8,73.4 157.9,73.8 157.9,69.4 158.0,71.8 158.1,68.7 158.1,73.2 158.2,69.3 158.2,67.8 158.3,69.6 158.4,69.4 158.4,70.9 158.5,71.2 158.5,65.8 158.6,67.5 158.7,70.8 158.7,71.2 158.8,69.9 158.8,77.9 158.9,73.2 159.0,69.2 159.0,71.9 159.1,73.9 159.1,70.6 159.2,63.6 159.3,69.7 159.3,69.5 159.4,76.3 159.4,63.2 159.5,74.3 159.6,68.7 159.6,72.2 159.7,68.2 159.7,69.7 159.8,72.9 159.9,69.4 159.9,72.6 160.0,68.8 160.0,67.8 160.1,68.4 160.2,67.5 160.2,68.7 160.3,73.6 160.3,65.3 160.4,63.7 160.5,69.2 160.5,74.8 160.6,72.8 160.6,73.7 160.7,73.5 160.8,67.0 160.8,69.9 160.9,61.3 160.9,67.6 161.0,71.7 161.1,64.6 161.1,63.0 161.2,65.6 161.2,70.7 161.3,73.9 161.4,78.2 161.4,74.9 161.5,65.2 161.5,62.6 161.6,70.8 161.7,73.9 161.7,65.1 161.8,68.8 161.8,69.0 161.9,70.7 162.0,70.0 162.0,72.4 162.1,74.2 162.1,71.0 162.2,73.2 162.3,77.3 162.3,67.4 162.4,67.3 162.4,72.5 162.5,76.9 162.6,71.4 162.6,74.4 162.7,69.8 162.7,73.8 162.8,68.7 162.9,73.0 162.9,72.0 163.0,72.0 163.0,75.2 163.1,74.2 163.2,68.7 163.2,73.6 163.3,65.0 163.3,73.9 163.4,78.5 163.5,72.3 163.5,72.2 163.6,70.7 163.6,73.3 163.7,69.0 163.8,72.7 163.8,69.6 163.9,69.0 163.9,70.8 164.0,70.2 164.1,64.7 164.1,77.2 164.2,70.8 164.2,64.7 164.3,73.9 164.4,70.2 164.4,71.0 164.5,72.6 164.5,67.3 164.6,61.6 164.7,69.9 164.7,71.0 164.8,73.5 164.8,67.7 164.9,69.2 165.0,71.4 165.0,59.6 165.1,69.3 165.1,70.9 165.2,66.8 165.3,75.3 165.3,67.0 165.4,70.1 165.4,68.9 165.5,67.7 165.6,71.8 165.6,73.3 165.7,74.8 165.7,71.9 165.8,68.5 165.9,72.9 165.9,65.3 166.0,70.2 166.0,71.8 166.1,79.7 166.2,66.3 166.2,65.2 166.3,75.7 166.3,68.5 166.4,64.8 166.5,66.2 166.5,70.3 166.6,74.2 166.6,70.4 166.7,74.3 166.8,71.2 166.8,72.0 166.9,73.7 166.9,69.3 167.0,71.5 167.1,69.3 167.1,68.5 167.2,72.8 167.2,67.9 167.3,70.9 167.4,68.0 167.4,70.4 167.5,68.9 167.5,74.3 167.6,70.9 167.7,70.9 167.7,76.1 167.8,62.2 167.8,67.0 167.9,62.2 168.0,70.6 168.0,72.1 168.1,72.8 168.1,71.5 168.2,67.8 168.3,76.4 168.3,71.6 168.4,69.8 168.4,66.9 168.5,72.0 168.6,69.0 168.6,69.1 168.7,71.3 168.7,71.3 168.8,67.9 168.9,74.8 168.9,67.3 169.0,67.0 169.0,71.7 169.1,71.1 169.2,70.9 169.2,69.3 169.3,70.8 169.3,68.9 169.4,65.3 169.5,73.2 169.5,61.4 169.6,70.1 169.6,73.3 169.7,71.0 169.8,79.1 169.8,66.3 169.9,68.5 169.9,71.3 170.0,75.5 170.1,70.2 170.1,66.4 170.2,74.9 170.2,68.1 170.3,70.5 170.4,74.1 170.4,69.0 170.5,69.8 170.5,72.9 170.6,70.6 170.7,72.3 170.7,68.2 170.8,71.0 170.8,67.8 170.9,66.2 171.0,77.2 171.0,72.9 171.1,74.4 171.1,68.2 171.2,71.3 171.3,70.7 171.3,66.7 171.4,73.1 171.4,68.9 171.5,70.6 171.6,66.3 171.6,74.6 171.7,73.8 171.7,72.6 171.8,68.3 171.9,69.5 171.9,75.3 172.0,70.4 172.0,72.2 172.1,71.7 172.2,67.6 172.2,76.3 172.3,64.7 172.3,72.0 172.4,71.0 172.5,66.0 172.5,72.4 172.6,73.0 172.6,71.5 172.7,68.6 172.8,72.8 172.8,75.0 172.9,72.1 172.9,77.0 173.0,74.1 173.1,73.8 173.1,75.9 173.2,69.1 173.2,69.5 173.3,72.9 173.4,72.9 173.4,76.1 173.5,74.9 173.5,71.7 173.6,71.8 173.7,70.1 173.7,69.8 173.8,69.4 173.8,73.9 173.9,69.3 174.0,69.6 174.0,71.3 174.1,69.0 174.1,69.9 174.2,63.4 174.3,71.8 174.3,69.5 174.4,71.1 174.4,71.6 174.5,64.3 174.6,78.3 174.6,70.8 174.7,70.9 174.7,64.4 174.8,72.3 174.9,71.6 174.9,69.1 175.0,71.1 175.0,74.5 175.1,69.2 175.2,67.3 175.2,74.6 175.3,71.1 175.3,69.6 175.4,77.8 175.5,70.7 175.5,69.6 175.6,71.0 175.6,68.8 175.7,70.8 175.8,70.6 175.8,67.9 175.9,69.2 175.9,71.1 176.0,71.3 176.1,72.0 176.1,72.6 176.2,70.9 176.2,71.8 176.3,68.8 176.4,69.2 176.4,73.5 176.5,63.6 176.5,71.3 176.6,78.0 176.7,64.1 176.7,75.2 176.8,64.4 176.8,71.5 176.9,75.7 177.0,75.2 177.0,67.4 177.1,66.1 177.1,65.7 177.2,72.9 177.3,69.3 177.3,70.7 177.4,71.6 177.4,72.1 177.5,72.6 177.6,71.3 177.6,65.7 177.7,75.8 177.7,62.7 177.8,75.2 177.9,69.2 177.9,70.6 178.0,69.6 178.0,70.2 178.1,71.3 178.2,70.5 178.2,67.9 178.3,74.3 178.3,69.6 178.4,76.0 178.5,71.1 178.5,69.3 178.6,73.1 178.6,74.6 178.7,68.6 178.8,70.8 178.8,76.4 178.9,68.4 178.9,83.9 179.0,72.3 179.1,67.8 179.1,63.7 179.2,66.3 179.2,73.0 179.3,74.0 179.4,73.8 179.4,73.1 179.5,67.8 179.5,74.1 179.6,75.6 179.7,69.5 179.7,75.0 179.8,70.6 179.8,72.5 179.9,73.1 180.0,67.0 180.0,76.7 180.1,69.0 180.1,71.5 180.2,70.2 180.3,73.3 180.3,73.2 180.4,71.9 180.4,76.4 180.5,72.7 180.6,70.4 180.6,63.3 180.7,70.8 180.7,70.7 180.8,68.8 180.9,68.8 180.9,73.5 181.0,75.0 181.0,77.8 181.1,75.3 181.2,69.2 181.2,72.3 181.3,66.9 181.3,73.8 181.4,72.6 181.5,69.4 181.5,71.0 181.6,70.5 181.6,69.2 181.7,75.7 181.8,79.4 181.8,74.0 181.9,74.8 181.9,71.8 182.0,70.2 182.1,78.6 182.1,70.1 182.2,72.6 182.2,71.0 182.3,73.3 182.4,71.2 182.4,73.3 182.5,67.2 182.5,71.0 182.6,75.9 182.7,68.0 182.7,69.2 182.8,75.9 182.8,72.8 182.9,75.0 183.0,64.1 183.0,71.9 183.1,67.2 183.1,66.9 183.2,72.8 183.3,75.4 183.3,66.5 183.4,67.8 183.4,69.6 183.5,71.1 183.6,67.1 183.6,79.0 183.7,73.5 183.7,70.4 183.8,69.8 183.9,79.3 183.9,79.0 184.0,70.0 184.0,72.8 184.1,75.8 184.2,67.7 184.2,69.7 184.3,76.2 184.3,69.4 184.4,70.3 184.5,67.3 184.5,69.2 184.6,74.0 184.6,69.1 184.7,67.5 184.8,69.7 184.8,77.7 184.9,72.4 184.9,70.0 185.0,72.3 185.1,73.3 185.1,72.2 185.2,65.8 185.2,72.8 185.3,71.0 185.4,74.5 185.4,67.2 185.5,75.1 185.5,70.0 185.6,65.9 185.7,75.9 185.7,69.8 185.8,72.7 185.8,70.8 185.9,75.0 186.0,74.9 186.0,74.9 186.1,73.5 186.1,65.7 186.2,65.5 186.3,71.7 186.3,67.8 186.4,72.5 186.4,71.4 186.5,66.1 186.6,67.3 186.6,67.0 186.7,67.8 186.7,70.0 186.8,72.9 186.9,75.1 186.9,67.4 187.0,68.7 187.0,75.8 187.1,73.6 187.2,71.4 187.2,62.8 187.3,67.3 187.3,71.1 187.4,68.7 187.5,77.3 187.5,71.0 187.6,71.6 187.6,67.1 187.7,67.3 187.8,68.5 187.8,68.7 187.9,70.0 187.9,72.1 188.0,71.7 188.1,74.2 188.1,66.4 188.2,71.6 188.2,71.8 188.3,76.3 188.4,70.3 188.4,72.1 188.5,68.4 188.5,72.5 188.6,72.4 188.7,69.1 188.7,69.7 188.8,71.1 188.8,73.2 188.9,67.4 189.0,74.2 189.0,70.2 189.1,77.7 189.1,76.3 189.2,70.1 189.3,69.4 189.3,79.7 189.4,73.7 189.4,73.5 189.5,70.2 189.6,71.3 189.6,74.4 189.7,73.9 189.7,69.1 189.8,76.0 189.9,73.0 189.9,68.8 190.0,75.4 190.0,71.5 190.1,74.8 190.2,70.4 190.2,73.5 190.3,66.9 190.3,73.6 190.4,67.3 190.5,73.0 190.5,64.2 190.6,72.3 190.6,74.9 190.7,74.2 190.8,76.6 190.8,69.0 190.9,77.8 190.9,78.0 191.0,68.6 191.1,70.0 191.1,70.8 191.2,72.6 191.2,73.3 191.3,64.5 191.4,74.7 191.4,71.9 191.5,69.3 191.5,75.9 191.6,71.6 191.7,76.6 191.7,74.6 191.8,71.7 191.8,76.7 191.9,75.5 192.0,71.2 192.0,67.6 192.1,71.1 192.1,75.0 192.2,72.2 192.3,78.9 192.3,74.0 192.4,73.8 192.4,74.5 192.5,70.3 192.6,72.9 192.6,71.1 192.7,65.5 192.7,67.5 192.8,75.9 192.9,72.0 192.9,73.1 193.0,68.6 193.0,71.6 193.1,76.2 193.2,73.9 193.2,71.9 193.3,78.7 193.3,73.4 193.4,72.5 193.5,77.4 193.5,67.8 193.6,75.4 193.6,69.9 193.7,71.0 193.8,71.3 193.8,74.0 193.9,73.9 193.9,74.6 194.0,74.2 194.1,78.2 194.1,79.1 194.2,75.9 194.2,76.0 194.3,72.2 194.4,69.8 194.4,75.4 194.5,73.6 194.5,76.3 194.6,67.4 194.7,81.7 194.7,69.3 194.8,73.6 194.8,76.8 194.9,68.9 195.0,71.7 195.0,66.8 195.1,63.3 195.1,67.1 195.2,73.9 195.3,74.5 195.3,72.4 195.4,77.7 195.4,78.1 195.5,73.5 195.6,72.7 195.6,72.5 195.7,71.9 195.7,77.8 195.8,74.2 195.9,72.3 195.9,72.6 196.0,75.2 196.0,72.0 196.1,74.4 196.2,73.2 196.2,77.8 196.3,77.1 196.3,68.5 196.4,72.6 196.5,75.5 196.5,71.6 196.6,75.7 196.6,74.1 196.7,74.9 196.8,72.7 196.8,73.9 196.9,62.4 196.9,67.9 197.0,69.7 197.1,69.3 197.1,78.2 197.2,73.6 197.2,73.8 197.3,73.0 197.4,70.7 197.4,69.9 197.5,75.1 197.5,71.0 197.6,77.5 197.7,72.8 197.7,72.5 197.8,71.4 197.8,71.8 197.9,72.1 198.0,77.0 198.0,79.7 198.1,68.1 198.1,72.7 198.2,74.2 198.3,68.8 198.3,69.7 198.4,70.2 198.4,63.7 198.5,73.8 198.6,71.5 198.6,71.3 198.7,71.8 198.7,72.4 198.8,79.2 198.9,72.1 198.9,74.2 199.0,69.7 199.0,72.6 199.1,70.3 199.2,70.9 199.2,68.3 199.3,68.6 199.3,72.8 199.4,73.7 199.5,72.7 199.5,69.0 199.6,72.2 199.6,62.8 199.7,74.2 199.8,70.9 199.8,71.9 199.9,74.8 199.9,69.5 200.0,74.1 200.1,69.4 200.1,72.6 200.2,69.4 200.2,71.7 200.3,75.5 200.4,68.5 200.4,67.9 200.5,66.3 200.5,65.9 200.6,65.3 200.7,66.1 200.7,63.6 200.8,63.2 200.8,65.0 200.9,63.7 201.0,64.4 201.0,64.9 201.1,62.3 201.1,63.8 201.2,65.5 201.3,64.6 201.3,65.5 201.4,63.8 201.4,66.2 201.5,66.2 201.6,67.1 201.6,72.9 201.7,64.9 201.7,70.2 201.8,76.7 201.9,70.3 201.9,71.4 202.0,70.7 202.0,66.9 202.1,74.0 202.2,71.8 202.2,71.6 202.3,73.5 202.3,73.8 202.4,65.0 202.5,73.0 202.5,69.5 202.6,72.0 202.6,69.2 202.7,68.8 202.8,74.9 202.8,71.7 202.9,70.9 202.9,70.9 203.0,72.2 203.1,71.9 203.1,64.2 203.2,69.2 203.2,71.4 203.3,74.7 203.4,76.7 203.4,69.2 203.5,78.7 203.5,67.8 203.6,65.6 203.7,65.4 203.7,64.3 203.8,64.1 203.8,64.5 203.9,64.4 204.0,63.9 204.0,64.9 204.1,64.0 204.1,66.0 204.2,64.9 204.3,65.0 204.3,66.9 204.4,67.6 204.4,67.4 204.5,75.1 204.6,76.1 204.6,71.2 204.7,75.1 204.7,70.0 204.8,63.7 204.9,67.7 204.9,73.0 205.0,74.9 205.0,64.9 205.1,66.4 205.2,72.3 205.2,63.8 205.3,74.3 205.3,75.9 205.4,63.9 205.5,75.1 205.5,72.0 205.6,77.3 205.6,73.6 205.7,71.9 205.8,73.2 205.8,75.9 205.9,73.5 205.9,73.1 206.0,68.2 206.1,74.6 206.1,73.2 206.2,79.2 206.2,73.1 206.3,72.9 206.4,71.2 206.4,75.7 206.5,72.7 206.5,71.0 206.6,78.7 206.7,79.3 206.7,72.0 206.8,70.1 206.8,77.2 206.9,70.7 207.0,81.3 207.0,73.0 207.1,76.7 207.1,69.2 207.2,73.3 207.3,77.1 207.3,74.9 207.4,71.6 207.4,81.1 207.5,75.8 207.6,72.5 207.6,71.2 207.7,72.3 207.7,77.6 207.8,70.5 207.9,73.1 207.9,70.2 208.0,77.1 208.0,72.3 208.1,75.7 208.2,74.6 208.2,70.8 208.3,75.0 208.3,75.7 208.4,68.8 208.5,74.9 208.5,80.3 208.6,71.5 208.6,74.6 208.7,68.0 208.8,73.9 208.8,70.4 208.9,74.9 208.9,72.2 209.0,68.5 209.1,76.0 209.1,71.6 209.2,69.0 209.2,72.6 209.3,69.2 209.4,73.7 209.4,72.2 209.5,71.2 209.5,74.6 209.6,68.2 209.7,75.7 209.7,65.8 209.8,77.9 209.8,73.2 209.9,71.7 210.0,70.2 210.0,74.5 210.1,72.2 210.1,72.1 210.2,76.2 210.3,71.4 210.3,72.1 210.4,74.3 210.4,76.5 210.5,72.5 210.6,73.6 210.6,73.3 210.7,75.6 210.7,78.2 210.8,70.2 210.9,72.9 210.9,73.3 211.0,75.4 211.0,78.5 211.1,73.6 211.2,82.4 211.2,77.5 211.3,69.6 211.3,71.3 211.4,72.4 211.5,74.0 211.5,74.8 211.6,72.4 211.6,80.0 211.7,71.8 211.8,73.6 211.8,77.9 211.9,76.9 211.9,74.3 212.0,75.7 212.1,77.2 212.1,74.4 212.2,76.7 212.2,71.5 212.3,74.8 212.4,69.1 212.4,71.6 212.5,70.8 212.5,78.8 212.6,73.0 212.7,75.5 212.7,71.4 212.8,73.8 212.8,73.6 212.9,71.6 213.0,77.3 213.0,68.9 213.1,76.5 213.1,82.2 213.2,71.6 213.3,74.4 213.3,69.1 213.4,74.2 213.4,68.4 213.5,76.3 213.6,72.5 213.6,68.0 213.7,69.8 213.7,68.8 213.8,73.2 213.9,77.0 213.9,72.8 214.0,70.2 214.0,71.4 214.1,74.6 214.2,66.0 214.2,76.2 214.3,75.6 214.3,66.0 214.4,78.3 214.5,68.9 214.5,73.7 214.6,78.4 214.6,69.0 214.7,68.4 214.8,70.9 214.8,71.0 214.9,74.3 214.9,73.1 215.0,73.2 215.1,73.3 215.1,74.4 215.2,72.2 215.2,76.2 215.3,75.2 215.4,71.8 215.4,81.5 215.5,71.1 215.5,77.9 215.6,73.0 215.7,84.8 215.7,77.3 215.8,78.5 215.8,80.4 215.9,72.9 216.0,83.8 216.0,77.1 216.1,73.1 216.1,71.2 216.2,83.7 216.3,81.4 216.3,75.8 216.4,78.5 216.4,80.4 216.5,76.3 216.6,74.5 216.6,75.9 216.7,78.8 216.7,76.1 216.8,71.9 216.9,78.6 216.9,70.2 217.0,73.6 217.0,80.3 217.1,76.9 217.2,76.9 217.2,76.5 217.3,79.7 217.3,76.0 217.4,69.6 217.5,77.1 217.5,67.8 217.6,69.4 217.6,81.7 217.7,79.8 217.8,74.8 217.8,76.1 217.9,76.7 217.9,79.8 218.0,73.8 218.1,73.4 218.1,74.3 218.2,76.9 218.2,77.3 218.3,75.1 218.4,79.0 218.4,72.9 218.5,76.1 218.5,74.0 218.6,72.9 218.7,80.5 218.7,75.2 218.8,72.9 218.8,76.4 218.9,72.8 219.0,78.2 219.0,79.0 219.1,79.6 219.1,72.5 219.2,75.6 219.3,82.3 219.3,75.3 219.4,80.3 219.4,81.1 219.5,71.3 219.6,80.0 219.6,78.5 219.7,78.9 219.7,81.6 219.8,77.5 219.9,76.2 219.9,78.0 220.0,74.8 220.0,77.6 220.1,69.2 220.2,81.8 220.2,74.2 220.3,77.8 220.3,77.0 220.4,76.4 220.5,76.4 220.5,76.3 220.6,70.5 220.6,74.2 220.7,80.1 220.8,72.7 220.8,72.6 220.9,83.3 220.9,80.3 221.0,81.5 221.1,76.2 221.1,77.1 221.2,78.8 221.2,78.1 221.3,64.8 221.4,71.3 221.4,73.8 221.5,71.1 221.5,81.6 221.6,74.9 221.7,75.6 221.7,77.2 221.8,76.3 221.8,78.0 221.9,74.1 222.0,71.0 222.0,82.1 222.1,73.7 222.1,74.4 222.2,73.3 222.3,74.1 222.3,76.0 222.4,78.5 222.4,72.3 222.5,76.8 222.6,73.5 222.6,79.9 222.7,71.6 222.7,76.1 222.8,78.1 222.9,71.0 222.9,76.0 223.0,76.1 223.0,72.9 223.1,74.8 223.2,78.9 223.2,76.3 223.3,74.0 223.3,74.7 223.4,76.9 223.5,79.7 223.5,78.1 223.6,77.9 223.6,80.7 223.7,70.1 223.8,70.5 223.8,67.7 223.9,78.2 223.9,67.6 224.0,75.2 224.1,77.9 224.1,70.7 224.2,73.2 224.2,74.6 224.3,77.9 224.4,70.3 224.4,76.6 224.5,77.9 224.5,76.1 224.6,76.2 224.7,79.9 224.7,76.5 224.8,75.7 224.8,74.7 224.9,78.1 225.0,74.9 225.0,78.2 225.1,76.3 225.1,79.9 225.2,73.4 225.3,76.4 225.3,77.4 225.4,77.6 225.4,80.1 225.5,77.7 225.6,79.4 225.6,83.1 225.7,79.3 225.7,72.9 225.8,71.7 225.9,78.8 225.9,75.3 226.0,77.6 226.0,76.1 226.1,81.1 226.2,80.8 226.2,72.9 226.3,77.7 226.3,75.7 226.4,72.3 226.5,79.0 226.5,76.3 226.6,78.3 226.6,85.2 226.7,81.4 226.8,80.6 226.8,75.5 226.9,72.8 226.9,81.1 227.0,75.8 227.1,77.0 227.1,75.5 227.2,77.1 227.2,85.0 227.3,75.7 227.4,75.8 227.4,77.4 227.5,77.7 227.5,72.6 227.6,70.6 227.7,74.6 227.7,75.8 227.8,73.8 227.8,73.1 227.9,73.2 228.0,75.0 228.0,75.9 228.1,70.7 228.1,74.4 228.2,77.4 228.3,75.7 228.3,71.5 228.4,74.9 228.4,76.0 228.5,78.7 228.6,70.4 228.6,78.3 228.7,74.4 228.7,76.6 228.8,78.2 228.9,72.9 228.9,73.1 229.0,75.5 229.0,78.4 229.1,74.0 229.2,71.0 229.2,73.5 229.3,77.2 229.3,79.8 229.4,74.1 229.5,74.7 229.5,75.2 229.6,75.4 229.6,72.6 229.7,74.3 229.8,76.6 229.8,76.2 229.9,75.9 229.9,72.3 230.0,73.9 230.1,73.3 230.1,79.3 230.2,80.7 230.2,76.9 230.3,81.1 230.4,74.7 230.4,74.6 230.5,71.2 230.5,76.4 230.6,74.0 230.7,75.9 230.7,77.2 230.8,74.7 230.8,71.7 230.9,75.4 231.0,75.3 231.0,75.6 231.1,77.8 231.1,74.8 231.2,74.6 231.3,81.5 231.3,79.2 231.4,75.3 231.4,72.4 231.5,74.1 231.6,77.0 231.6,78.6 231.7,84.0 231.7,75.0 231.8,76.4 231.9,74.7 231.9,76.3 232.0,74.7 232.0,72.4 232.1,79.7 232.2,76.7 232.2,80.7 232.3,74.6 232.3,77.3 232.4,78.7 232.5,70.0 232.5,72.0 232.6,79.2 232.6,77.0 232.7,70.4 232.8,74.2 232.8,73.1 232.9,75.1 232.9,82.1 233.0,74.8 233.1,83.8 233.1,75.9 233.2,74.3 233.2,82.2 233.3,80.1 233.4,81.5 233.4,83.5 233.5,80.4 233.5,81.0 233.6,70.8 233.7,73.9 233.7,78.2 233.8,77.4 233.8,79.1 233.9,75.0 234.0,80.4 234.0,83.5 234.1,78.5 234.1,79.4 234.2,78.2 234.3,79.6 234.3,77.1 234.4,74.6 234.4,77.0 234.5,76.7 234.6,71.0 234.6,77.1 234.7,76.3 234.7,77.0 234.8,74.3 234.9,77.9 234.9,78.4 235.0,73.8 235.0,66.3 235.1,78.9 235.2,78.8 235.2,73.0 235.3,72.7 235.3,76.3 235.4,72.6 235.5,84.9 235.5,73.4 235.6,73.5 235.6,78.5 235.7,74.6 235.8,68.1 235.8,75.7 235.9,72.8 235.9,74.4 236.0,70.6 236.1,73.1 236.1,75.6 236.2,75.9 236.2,72.3 236.3,73.6 236.4,73.1 236.4,76.5 236.5,75.5 236.5,71.6 236.6,78.1 236.7,73.4 236.7,77.1 236.8,72.5 236.8,76.7 236.9,75.2 237.0,75.7 237.0,77.2 237.1,76.9 237.1,75.9 237.2,75.8 237.3,70.8 237.3,74.9 237.4,67.5 237.4,67.2 237.5,73.9 237.6,74.1 237.6,80.1 237.7,77.1 237.7,78.6 237.8,73.7 237.9,76.2 237.9,78.7 238.0,76.5 238.0,75.9 238.1,85.1 238.2,71.4 238.2,71.5 238.3,69.6 238.3,76.0 238.4,73.6 238.5,72.2 238.5,75.8 238.6,72.6 238.6,78.3 238.7,81.4 238.8,76.3 238.8,72.3 238.9,69.5 238.9,81.9 239.0,76.4 239.1,70.8 239.1,78.7 239.2,69.1 239.2,73.5 239.3,74.3 239.4,73.9 239.4,71.2 239.5,83.7 239.5,74.0 239.6,76.8 239.7,75.6 239.7,69.9 239.8,73.7 239.8,76.5 239.9,79.1 240.0,74.7 240.0,77.2 240.1,74.8 240.1,78.2 240.2,67.4 240.3,78.4 240.3,74.1 240.4,74.4 240.4,67.6 240.5,72.8 240.6,78.8 240.6,84.9 240.7,74.3 240.7,74.5 240.8,78.6 240.9,78.0 240.9,74.9 241.0,76.5 241.0,75.8 241.1,79.4 241.2,80.1 241.2,83.6 241.3,80.6 241.3,79.8 241.4,78.0 241.5,80.8 241.5,74.0 241.6,85.3 241.6,78.6 241.7,82.7 241.8,74.8 241.8,81.3 241.9,79.1 241.9,77.0 242.0,75.3 242.1,74.5 242.1,84.1 242.2,82.0 242.2,78.1 242.3,78.3 242.4,75.0 242.4,71.0 242.5,71.2 242.5,75.4 242.6,77.0 242.7,73.3 242.7,80.3 242.8,79.3 242.8,78.0 242.9,71.1 243.0,76.6 243.0,77.2 243.1,72.8 243.1,69.4 243.2,84.2 243.3,79.5 243.3,75.8 243.4,83.0 243.4,81.2 243.5,78.8 243.6,78.0 243.6,80.0 243.7,82.4 243.7,77.4 243.8,76.3 243.9,79.2 243.9,68.1 244.0,77.5 244.0,75.7 244.1,77.1 244.2,76.5 244.2,78.4 244.3,77.5 244.3,77.4 244.4,76.7 244.5,78.8 244.5,75.4 244.6,80.8 244.6,71.1 244.7,78.0 244.8,78.9 244.8,72.6 244.9,75.7 244.9,82.1 245.0,76.8 245.1,74.1 245.1,68.2 245.2,78.6 245.2,77.7 245.3,79.6 245.4,84.8 245.4,77.4 245.5,77.9 245.5,74.9 245.6,77.2 245.7,77.3 245.7,80.2 245.8,79.5 245.8,74.7 245.9,75.7 246.0,82.5 246.0,74.0 246.1,80.2 246.1,83.4 246.2,79.8 246.3,78.4 246.3,82.4 246.4,78.7 246.4,77.4 246.5,76.7 246.6,81.6 246.6,80.0 246.7,83.1 246.7,76.2 246.8,76.3 246.9,75.9 246.9,78.5 247.0,74.9 247.0,80.9 247.1,78.7 247.2,73.9 247.2,68.4 247.3,70.9 247.3,82.8 247.4,77.4 247.5,78.2 247.5,76.1 247.6,79.1 247.6,70.6 247.7,70.4 247.8,71.7 247.8,78.0 247.9,80.4 247.9,79.6 248.0,77.4 248.1,73.2 248.1,80.8 248.2,76.9 248.2,77.9 248.3,77.7 248.4,76.3 248.4,75.4 248.5,75.9 248.5,73.4 248.6,79.1 248.7,77.6 248.7,82.0 248.8,71.6 248.8,82.6 248.9,78.1 249.0,77.8 249.0,75.4 249.1,75.4 249.1,72.9 249.2,81.8 249.3,77.7 249.3,81.1 249.4,81.6 249.4,76.7 249.5,77.7 249.6,77.3 249.6,82.3 249.7,79.0 249.7,79.2 249.8,81.2 249.9,78.2 249.9,86.1 250.0,75.0 250.0,83.1 250.1,83.6 250.2,74.1 250.2,81.5 250.3,79.3 250.3,81.4 250.4,73.7 250.5,79.0 250.5,74.4 250.6,76.8 250.6,83.2 250.7,77.3 250.8,69.4 250.8,72.5 250.9,73.4 250.9,81.3 251.0,74.9 251.1,71.7 251.1,81.5 251.2,78.3 251.2,78.6 251.3,74.3 251.4,82.5 251.4,76.7 251.5,69.8 251.5,72.9 251.6,73.9 251.7,76.4 251.7,79.9 251.8,74.3 251.8,74.8 251.9,85.2 252.0,77.3 252.0,75.0 252.1,77.1 252.1,72.3 252.2,79.0 252.3,80.6 252.3,74.8 252.4,80.7 252.4,75.9 252.5,78.1 252.6,74.3 252.6,74.1 252.7,71.5 252.7,77.9 252.8,76.0 252.9,76.2 252.9,72.9 253.0,72.8 253.0,74.8 253.1,78.9 253.2,78.3 253.2,74.7 253.3,78.3 253.3,83.8 253.4,77.7 253.5,84.8 253.5,78.9 253.6,82.3 253.6,75.4 253.7,81.8 253.8,73.0 253.8,78.4 253.9,76.3 253.9,70.1 254.0,72.5 254.1,81.8 254.1,79.5 254.2,82.5 254.2,78.4 254.3,68.4 254.4,78.7 254.4,75.7 254.5,76.0 254.5,76.2 254.6,75.1 254.7,74.4 254.7,82.7 254.8,79.8 254.8,75.7 254.9,76.7 255.0,81.9 255.0,79.8 255.1,79.2 255.1,73.9 255.2,76.9 255.3,74.4 255.3,71.5 255.4,82.1 255.4,77.6 255.5,77.4 255.6,75.4 255.6,81.9 255.7,87.0 255.7,81.4 255.8,82.8 255.9,74.7 255.9,80.1 256.0,80.4 256.0,85.2 256.1,79.7 256.2,76.2 256.2,79.6 256.3,78.3 256.3,85.4 256.4,82.5 256.5,81.4 256.5,80.8 256.6,83.4 256.6,78.4 256.7,76.8 256.8,73.2 256.8,84.8 256.9,82.2 256.9,82.8 257.0,80.5 257.1,86.6 257.1,76.7 257.2,84.9 257.2,77.1 257.3,78.6 257.4,75.7 257.4,80.6 257.5,79.1 257.5,81.8 257.6,77.9 257.7,74.8 257.7,82.1 257.8,84.7 257.8,82.6 257.9,79.6 258.0,81.2 258.0,73.3 258.1,78.3 258.1,83.9 258.2,81.2 258.3,76.2 258.3,82.6 258.4,90.0 258.4,82.0 258.5,73.9 258.6,77.2 258.6,80.4 258.7,80.3 258.7,81.2 258.8,79.1 258.9,78.4 258.9,80.9 259.0,82.4 259.0,73.4 259.1,77.9 259.2,78.4 259.2,79.7 259.3,83.0 259.3,74.2 259.4,81.2 259.5,72.7 259.5,76.4 259.6,77.3 259.6,78.3 259.7,77.0 259.8,77.4 259.8,78.1 259.9,78.3 259.9,72.4 260.0,74.1 260.1,77.8 260.1,81.4 260.2,83.2 260.2,89.0 260.3,79.9 260.4,76.5 260.4,80.1 260.5,82.0 260.5,80.0 260.6,75.5 260.7,79.1 260.7,79.3 260.8,74.1 260.8,74.9 260.9,90.0 261.0,71.0 261.0,80.0 261.1,78.4 261.1,84.6 261.2,81.6 261.3,76.0 261.3,84.0 261.4,77.1 261.4,86.7 261.5,85.4 261.6,78.8 261.6,82.0 261.7,79.8 261.7,75.6 261.8,83.0 261.9,80.6 261.9,82.2 262.0,83.0 262.0,84.2 262.1,82.8 262.2,78.5 262.2,79.2 262.3,80.4 262.3,78.4 262.4,77.9 262.5,85.8 262.5,80.6 262.6,85.9 262.6,75.9 262.7,78.6 262.8,77.1 262.8,77.3 262.9,77.7 262.9,78.3 263.0,77.2 263.1,85.6 263.1,81.4 263.2,76.0 263.2,76.8 263.3,81.7 263.4,80.9 263.4,76.6 263.5,82.4 263.5,73.5 263.6,77.1 263.7,85.4 263.7,69.4 263.8,78.1 263.8,82.7 263.9,78.4 264.0,76.0 264.0,75.6 264.1,71.1 264.1,73.9 264.2,79.2 264.3,76.8 264.3,78.9 264.4,78.4 264.4,80.0 264.5,72.7 264.6,77.8 264.6,77.7 264.7,77.8 264.7,75.6 264.8,70.7 264.9,81.4 264.9,82.1 265.0,88.0 265.0,81.8 265.1,85.3 265.2,81.3 265.2,77.6 265.3,81.0 265.3,74.7 265.4,80.0 265.5,78.7 265.5,75.1 265.6,83.8 265.6,83.4 265.7,80.9 265.8,82.3 265.8,85.4 265.9,78.7 265.9,74.1 266.0,75.6 266.1,81.9 266.1,80.1 266.2,73.6 266.2,84.2 266.3,80.1 266.4,85.4 266.4,83.5 266.5,77.6 266.5,79.6 266.6,76.5 266.7,76.1 266.7,78.2 266.8,81.2 266.8,84.5 266.9,76.0 267.0,82.0 267.0,79.5 267.1,78.6 267.1,83.7 267.2,78.1 267.3,84.7 267.3,78.3 267.4,76.0 267.4,82.5 267.5,74.1 267.6,75.1 267.6,79.0 267.7,79.7 267.7,78.7 267.8,72.2 267.9,74.7 267.9,81.8 268.0,81.9 268.0,76.0 268.1,80.9 268.2,80.7 268.2,83.8 268.3,77.1 268.3,85.5 268.4,78.8 268.5,85.4 268.5,83.4 268.6,76.0 268.6,78.7 268.7,80.9 268.8,83.7 268.8,74.5 268.9,77.8 268.9,82.1 269.0,81.5 269.1,75.6 269.1,76.1 269.2,81.1 269.2,75.5 269.3,80.3 269.4,82.8 269.4,79.3 269.5,69.4 269.5,83.6 269.6,83.5 269.7,84.5 269.7,82.3 269.8,72.4 269.8,84.3 269.9,80.1 270.0,82.4 270.0,78.1 270.1,77.7 270.1,77.7 270.2,84.7 270.3,79.6 270.3,77.8 270.4,73.6 270.4,80.3 270.5,78.6 270.6,79.1 270.6,82.3 270.7,81.3 270.7,78.5 270.8,79.4 270.9,78.9 270.9,81.3 271.0,81.3 271.0,79.2 271.1,75.4 271.2,82.0 271.2,82.2 271.3,74.7 271.3,80.3 271.4,77.4 271.5,70.5 271.5,78.8 271.6,82.7 271.6,76.3 271.7,76.4 271.8,83.2 271.8,75.0 271.9,75.7 271.9,78.2 272.0,81.9 272.1,81.9 272.1,77.5 272.2,78.4 272.2,80.1 272.3,78.3 272.4,76.5 272.4,75.7 272.5,82.7 272.5,79.2 272.6,89.7 272.7,82.5 272.7,77.3 272.8,80.2 272.8,81.6 272.9,81.9 273.0,82.1 273.0,82.2 273.1,79.9 273.1,83.0 273.2,89.0 273.3,78.8 273.3,79.1 273.4,83.3 273.4,85.4 273.5,83.7 273.6,85.3 273.6,80.4 273.7,79.7 273.7,83.1 273.8,90.0 273.9,87.0 273.9,86.5 274.0,73.4 274.0,83.4 274.1,77.8 274.2,72.2 274.2,81.8 274.3,79.6 274.3,78.9 274.4,75.2 274.5,76.2 274.5,79.3 274.6,74.3 274.6,79.6 274.7,80.4 274.8,79.4 274.8,81.1 274.9,79.7 274.9,75.4 275.0,75.9 275.1,80.4 275.1,83.6 275.2,80.5 275.2,77.9 275.3,80.5 275.4,72.8" fill="none" stroke="#000" stroke-width="0.7" stroke-linejoin="bevel"/>
<line x1="54.9" y1="42.9" x2="54.9" y2="54" stroke="#c42433" stroke-width="1.15"/>
<line x1="54.9" y1="54" x2="54.9" y2="62" stroke="#000" stroke-width="1.2"/>
<line x1="68.4" y1="39.3" x2="68.4" y2="57" stroke="#c42433" stroke-width="1.15"/>
<line x1="68.4" y1="57" x2="68.4" y2="62" stroke="#000" stroke-width="1.2"/>
<line x1="109.5" y1="45.7" x2="109.5" y2="56" stroke="#c42433" stroke-width="1.15"/>
<line x1="109.5" y1="56" x2="109.5" y2="62" stroke="#000" stroke-width="1.2"/>
<line x1="117.0" y1="37.1" x2="117.0" y2="55.5" stroke="#c42433" stroke-width="1.15"/>
<line x1="117.0" y1="55.5" x2="117.0" y2="62" stroke="#000" stroke-width="1.2"/>
<polyline points="45.8,135.6 45.9,138.6 45.9,137.7 46.0,137.6 46.0,140.2 46.1,132.0 46.2,133.7 46.2,131.7 46.3,135.2 46.3,138.4 46.4,135.4 46.5,136.9 46.5,129.9 46.6,135.9 46.6,132.9 46.7,140.7 46.8,138.1 46.8,138.3 46.9,135.4 46.9,137.4 47.0,137.6 47.1,134.7 47.1,134.3 47.2,135.5 47.2,134.1 47.3,134.2 47.4,135.2 47.4,133.9 47.5,138.3 47.5,131.6 47.6,138.7 47.7,134.5 47.7,134.9 47.8,132.6 47.8,136.2 47.9,136.0 48.0,137.3 48.0,135.3 48.1,137.2 48.1,142.3 48.2,138.3 48.3,135.6 48.3,140.1 48.4,137.0 48.4,139.2 48.5,139.4 48.6,136.5 48.6,132.1 48.7,136.8 48.7,139.5 48.8,136.8 48.9,139.3 48.9,140.9 49.0,136.5 49.0,141.7 49.1,142.9 49.2,141.4 49.2,141.7 49.3,141.5 49.3,144.9 49.4,138.9 49.5,138.4 49.5,140.1 49.6,135.8 49.6,133.9 49.7,135.8 49.8,139.5 49.8,139.8 49.9,133.9 49.9,132.9 50.0,137.4 50.1,137.8 50.1,138.1 50.2,140.2 50.2,141.8 50.3,138.9 50.4,140.0 50.4,135.0 50.5,134.7 50.5,138.8 50.6,140.0 50.7,140.2 50.7,139.8 50.8,140.4 50.8,140.4 50.9,133.0 51.0,136.0 51.0,139.4 51.1,139.9 51.1,133.8 51.2,141.6 51.3,136.9 51.3,137.6 51.4,139.1 51.4,140.5 51.5,134.2 51.6,141.3 51.6,138.7 51.7,136.3 51.7,137.8 51.8,132.3 51.9,136.8 51.9,139.3 52.0,136.8 52.0,138.0 52.1,138.6 52.2,139.2 52.2,142.1 52.3,139.1 52.3,138.5 52.4,140.9 52.5,145.4 52.5,138.5 52.6,141.0 52.6,135.0 52.7,143.5 52.8,141.6 52.8,143.6 52.9,139.6 52.9,136.8 53.0,142.4 53.1,142.1 53.1,137.4 53.2,135.7 53.2,141.3 53.3,139.5 53.4,147.3 53.4,138.3 53.5,138.5 53.5,139.7 53.6,135.2 53.7,137.5 53.7,144.8 53.8,139.6 53.8,138.2 53.9,136.3 54.0,141.6 54.0,141.8 54.1,140.6 54.1,138.7 54.2,140.7 54.3,140.9 54.3,137.7 54.4,141.5 54.4,133.5 54.5,135.8 54.6,138.6 54.6,139.1 54.7,136.0 54.7,140.2 54.8,142.3 54.9,140.4 54.9,139.7 55.0,141.4 55.0,140.1 55.1,135.5 55.2,138.2 55.2,142.5 55.3,135.4 55.3,138.8 55.4,137.4 55.5,135.9 55.5,135.5 55.6,138.7 55.6,139.3 55.7,139.3 55.8,134.1 55.8,137.5 55.9,139.3 55.9,141.0 56.0,140.2 56.1,140.7 56.1,141.5 56.2,140.7 56.2,135.9 56.3,138.5 56.4,136.3 56.4,131.5 56.5,133.5 56.5,144.5 56.6,135.2 56.7,131.9 56.7,136.8 56.8,142.9 56.8,138.4 56.9,139.7 57.0,137.8 57.0,138.3 57.1,142.2 57.1,140.9 57.2,138.3 57.3,141.2 57.3,141.7 57.4,137.9 57.4,128.2 57.5,139.3 57.6,136.6 57.6,141.9 57.7,138.1 57.7,136.8 57.8,133.7 57.9,134.9 57.9,143.0 58.0,135.2 58.0,139.8 58.1,137.5 58.2,140.0 58.2,140.3 58.3,136.3 58.3,137.7 58.4,138.9 58.5,139.0 58.5,138.6 58.6,137.8 58.6,140.6 58.7,142.6 58.8,140.4 58.8,136.7 58.9,140.1 58.9,139.1 59.0,140.4 59.1,144.4 59.1,138.5 59.2,139.1 59.2,136.6 59.3,138.4 59.4,137.6 59.4,144.0 59.5,140.2 59.5,137.7 59.6,145.0 59.7,135.6 59.7,142.0 59.8,142.4 59.8,141.1 59.9,138.7 60.0,139.1 60.0,138.4 60.1,141.7 60.1,132.6 60.2,137.8 60.3,139.7 60.3,137.5 60.4,133.9 60.4,138.4 60.5,136.8 60.6,141.3 60.6,142.9 60.7,139.0 60.7,133.1 60.8,138.1 60.9,135.9 60.9,140.5 61.0,143.3 61.0,139.3 61.1,144.2 61.2,142.6 61.2,140.1 61.3,135.5 61.3,138.6 61.4,134.0 61.5,141.2 61.5,138.5 61.6,142.1 61.6,138.9 61.7,132.4 61.8,139.9 61.8,140.7 61.9,142.8 61.9,135.2 62.0,135.3 62.1,138.2 62.1,134.9 62.2,134.0 62.2,134.8 62.3,144.9 62.4,136.2 62.4,135.1 62.5,136.8 62.5,138.1 62.6,141.9 62.7,140.9 62.7,140.5 62.8,138.4 62.8,138.7 62.9,136.5 63.0,134.0 63.0,144.3 63.1,137.1 63.1,141.4 63.2,127.8 63.3,138.2 63.3,138.0 63.4,134.5 63.4,138.3 63.5,139.6 63.6,140.9 63.6,139.9 63.7,141.4 63.7,139.2 63.8,138.3 63.9,132.6 63.9,136.7 64.0,142.7 64.0,138.5 64.1,140.4 64.2,137.4 64.2,136.0 64.3,143.8 64.3,138.9 64.4,142.1 64.5,139.2 64.5,136.8 64.6,131.1 64.6,137.8 64.7,133.0 64.8,131.0 64.8,141.0 64.9,139.5 64.9,139.3 65.0,137.5 65.1,137.3 65.1,138.6 65.2,137.9 65.2,137.6 65.3,139.6 65.4,130.3 65.4,140.1 65.5,135.7 65.5,140.0 65.6,141.0 65.7,135.2 65.7,140.0 65.8,140.0 65.8,135.7 65.9,136.2 66.0,138.1 66.0,131.3 66.1,136.5 66.1,138.4 66.2,136.6 66.3,133.2 66.3,136.8 66.4,142.3 66.4,141.8 66.5,137.6 66.6,135.6 66.6,137.8 66.7,137.9 66.7,135.9 66.8,136.8 66.9,139.6 66.9,140.4 67.0,130.6 67.0,140.4 67.1,137.9 67.2,140.8 67.2,137.3 67.3,138.6 67.3,142.0 67.4,129.9 67.5,141.7 67.5,137.6 67.6,131.7 67.6,129.6 67.7,137.8 67.8,133.8 67.8,147.2 67.9,137.4 67.9,136.3 68.0,139.6 68.1,137.3 68.1,138.9 68.2,139.1 68.2,137.7 68.3,139.1 68.4,139.2 68.4,133.0 68.5,136.2 68.5,136.8 68.6,136.1 68.7,132.8 68.7,135.8 68.8,138.6 68.8,138.3 68.9,142.4 69.0,136.3 69.0,137.0 69.1,136.8 69.1,137.7 69.2,137.0 69.3,133.5 69.3,140.1 69.4,142.2 69.4,142.7 69.5,136.5 69.6,139.2 69.6,145.3 69.7,139.8 69.7,141.2 69.8,139.9 69.9,143.3 69.9,143.3 70.0,147.4 70.0,142.1 70.1,142.0 70.2,137.3 70.2,139.7 70.3,138.8 70.3,139.9 70.4,137.1 70.5,144.4 70.5,137.8 70.6,141.7 70.6,137.2 70.7,141.8 70.8,145.6 70.8,138.4 70.9,141.8 70.9,140.5 71.0,141.4 71.1,141.8 71.1,138.7 71.2,139.9 71.2,138.7 71.3,138.0 71.4,136.7 71.4,143.1 71.5,138.1 71.5,142.1 71.6,141.7 71.7,137.2 71.7,143.1 71.8,137.5 71.8,141.8 71.9,144.2 72.0,137.9 72.0,137.2 72.1,137.2 72.1,146.6 72.2,138.8 72.3,136.2 72.3,142.2 72.4,139.3 72.4,139.8 72.5,137.0 72.6,133.4 72.6,137.7 72.7,136.8 72.7,135.2 72.8,136.7 72.9,137.1 72.9,142.2 73.0,141.9 73.0,141.4 73.1,138.3 73.2,136.2 73.2,140.7 73.3,141.2 73.3,142.8 73.4,139.8 73.5,139.5 73.5,140.7 73.6,137.1 73.6,137.5 73.7,141.7 73.8,136.1 73.8,139.5 73.9,142.0 73.9,140.4 74.0,141.0 74.1,136.5 74.1,139.3 74.2,138.9 74.2,141.4 74.3,140.9 74.4,139.8 74.4,145.2 74.5,141.2 74.5,138.8 74.6,137.8 74.7,139.5 74.7,137.9 74.8,144.3 74.8,141.2 74.9,138.7 75.0,137.6 75.0,136.4 75.1,138.7 75.1,143.3 75.2,141.9 75.3,139.3 75.3,139.9 75.4,134.1 75.4,141.7 75.5,138.8 75.6,143.4 75.6,138.9 75.7,138.1 75.7,140.1 75.8,137.6 75.9,143.4 75.9,140.3 76.0,140.6 76.0,140.5 76.1,138.6 76.2,141.0 76.2,140.2 76.3,144.8 76.3,139.9 76.4,140.9 76.5,138.5 76.5,138.8 76.6,139.0 76.6,143.7 76.7,140.2 76.8,142.9 76.8,139.3 76.9,139.1 76.9,134.6 77.0,142.6 77.1,146.2 77.1,139.6 77.2,144.4 77.2,142.7 77.3,138.2 77.4,142.4 77.4,137.6 77.5,139.3 77.5,143.7 77.6,140.5 77.7,136.6 77.7,144.1 77.8,136.7 77.8,139.3 77.9,138.7 78.0,139.2 78.0,137.1 78.1,134.7 78.1,144.7 78.2,136.5 78.3,136.6 78.3,132.0 78.4,139.2 78.4,142.6 78.5,142.8 78.6,145.6 78.6,142.9 78.7,139.7 78.7,138.5 78.8,142.5 78.9,138.1 78.9,138.8 79.0,135.3 79.0,138.4 79.1,143.7 79.2,137.8 79.2,139.1 79.3,131.0 79.3,141.8 79.4,139.0 79.5,142.0 79.5,138.6 79.6,135.4 79.6,134.0 79.7,139.4 79.8,137.9 79.8,135.2 79.9,137.8 79.9,136.2 80.0,140.2 80.1,137.0 80.1,134.7 80.2,138.0 80.2,136.7 80.3,142.7 80.4,137.2 80.4,134.8 80.5,138.5 80.5,138.0 80.6,139.6 80.7,139.6 80.7,136.0 80.8,139.0 80.8,138.9 80.9,135.8 81.0,137.7 81.0,140.0 81.1,134.9 81.1,136.5 81.2,138.3 81.3,139.5 81.3,141.3 81.4,135.9 81.4,140.7 81.5,141.7 81.6,144.4 81.6,138.8 81.7,137.4 81.7,135.6 81.8,141.7 81.9,143.8 81.9,138.1 82.0,141.4 82.0,142.6 82.1,142.8 82.2,138.9 82.2,141.9 82.3,139.9 82.3,137.3 82.4,140.8 82.5,141.0 82.5,137.1 82.6,141.2 82.6,145.6 82.7,135.4 82.8,141.7 82.8,142.3 82.9,139.7 82.9,140.4 83.0,138.7 83.1,143.3 83.1,136.6 83.2,138.8 83.2,133.5 83.3,140.0 83.4,140.1 83.4,134.1 83.5,136.3 83.5,140.2 83.6,137.3 83.7,135.2 83.7,131.5 83.8,139.6 83.8,144.2 83.9,137.3 84.0,139.8 84.0,139.8 84.1,138.3 84.1,138.8 84.2,138.9 84.3,136.0 84.3,145.8 84.4,146.0 84.4,139.5 84.5,143.7 84.6,136.2 84.6,137.9 84.7,141.8 84.7,135.2 84.8,134.8 84.9,139.5 84.9,132.8 85.0,143.5 85.0,140.7 85.1,139.2 85.2,140.4 85.2,135.8 85.3,135.7 85.3,140.8 85.4,141.1 85.5,138.8 85.5,138.2 85.6,136.7 85.6,142.2 85.7,133.8 85.8,135.6 85.8,136.5 85.9,133.5 85.9,134.0 86.0,134.8 86.1,140.7 86.1,142.9 86.2,138.6 86.2,132.8 86.3,135.6 86.4,136.9 86.4,136.5 86.5,136.1 86.5,138.6 86.6,131.3 86.7,135.2 86.7,137.4 86.8,138.8 86.8,137.5 86.9,136.6 87.0,145.2 87.0,134.5 87.1,136.6 87.1,135.7 87.2,134.2 87.3,139.7 87.3,139.6 87.4,135.0 87.4,137.8 87.5,139.5 87.6,125.4 87.6,136.3 87.7,137.4 87.7,131.1 87.8,131.8 87.9,137.4 87.9,136.7 88.0,139.9 88.0,134.5 88.1,139.2 88.2,139.1 88.2,141.8 88.3,133.8 88.3,135.1 88.4,137.0 88.5,126.3 88.5,133.4 88.6,134.7 88.6,132.7 88.7,143.2 88.8,136.4 88.8,136.6 88.9,134.9 88.9,136.8 89.0,139.1 89.1,135.9 89.1,136.9 89.2,143.3 89.2,139.7 89.3,137.8 89.4,136.0 89.4,137.2 89.5,135.1 89.5,138.1 89.6,135.4 89.7,135.3 89.7,136.2 89.8,134.3 89.8,138.0 89.9,144.6 90.0,135.7 90.0,132.7 90.1,140.3 90.1,137.3 90.2,143.4 90.3,138.8 90.3,140.4 90.4,135.5 90.4,133.2 90.5,137.4 90.6,139.9 90.6,135.5 90.7,133.5 90.7,136.4 90.8,136.9 90.9,137.3 90.9,138.2 91.0,145.3 91.0,138.6 91.1,137.1 91.2,135.5 91.2,141.0 91.3,134.2 91.3,143.1 91.4,139.0 91.5,134.7 91.5,139.7 91.6,138.9 91.6,142.9 91.7,135.1 91.8,140.1 91.8,139.6 91.9,142.3 91.9,136.5 92.0,137.6 92.1,145.6 92.1,141.6 92.2,135.7 92.2,141.0 92.3,137.8 92.4,138.2 92.4,136.7 92.5,143.1 92.5,138.8 92.6,140.9 92.7,140.6 92.7,136.0 92.8,138.3 92.8,142.7 92.9,136.0 93.0,141.2 93.0,140.2 93.1,142.4 93.1,142.5 93.2,143.0 93.3,140.8 93.3,141.3 93.4,138.6 93.4,139.0 93.5,143.2 93.6,138.9 93.6,143.6 93.7,143.5 93.7,138.3 93.8,142.2 93.9,138.3 93.9,141.6 94.0,138.3 94.0,141.5 94.1,141.1 94.2,137.5 94.2,146.5 94.3,143.3 94.3,135.9 94.4,141.5 94.5,139.3 94.5,146.4 94.6,140.3 94.6,141.6 94.7,139.9 94.8,142.2 94.8,138.8 94.9,137.8 94.9,138.9 95.0,139.1 95.1,142.0 95.1,140.4 95.2,138.8 95.2,138.8 95.3,137.3 95.4,140.2 95.4,133.9 95.5,139.0 95.5,143.0 95.6,138.5 95.7,137.5 95.7,139.5 95.8,136.6 95.8,137.0 95.9,141.1 96.0,137.3 96.0,144.7 96.1,140.5 96.1,138.6 96.2,137.1 96.3,138.1 96.3,132.2 96.4,139.4 96.4,141.2 96.5,140.3 96.6,137.4 96.6,140.3 96.7,140.4 96.7,138.1 96.8,139.5 96.9,141.5 96.9,139.8 97.0,137.3 97.0,138.5 97.1,138.9 97.2,133.8 97.2,138.8 97.3,138.0 97.3,132.1 97.4,133.4 97.5,143.6 97.5,138.7 97.6,142.3 97.6,137.3 97.7,142.8 97.8,140.1 97.8,136.4 97.9,139.2 97.9,143.0 98.0,145.4 98.1,140.0 98.1,137.2 98.2,136.0 98.2,140.6 98.3,141.8 98.4,139.0 98.4,138.3 98.5,141.1 98.5,140.1 98.6,139.9 98.7,134.3 98.7,137.8 98.8,144.3 98.8,138.8 98.9,145.9 99.0,140.0 99.0,138.0 99.1,139.7 99.1,140.6 99.2,136.8 99.3,139.6 99.3,137.6 99.4,143.0 99.4,137.5 99.5,139.1 99.6,134.4 99.6,134.8 99.7,138.4 99.7,136.0 99.8,137.8 99.9,139.3 99.9,140.2 100.0,134.4 100.0,137.9 100.1,140.3 100.2,136.4 100.2,134.5 100.3,136.3 100.3,142.9 100.4,138.2 100.5,142.7 100.5,137.2 100.6,141.5 100.6,133.9 100.7,137.3 100.8,138.3 100.8,143.1 100.9,139.4 100.9,141.2 101.0,136.8 101.1,136.8 101.1,141.7 101.2,142.1 101.2,141.6 101.3,141.5 101.4,136.5 101.4,144.3 101.5,138.5 101.5,141.7 101.6,140.2 101.7,132.9 101.7,132.4 101.8,133.3 101.8,137.8 101.9,141.2 102.0,137.2 102.0,140.4 102.1,134.3 102.1,136.1 102.2,135.3 102.3,138.0 102.3,134.5 102.4,137.5 102.4,139.5 102.5,136.4 102.6,135.2 102.6,136.4 102.7,134.2 102.7,134.7 102.8,140.1 102.9,138.7 102.9,133.5 103.0,136.9 103.0,139.1 103.1,140.1 103.2,139.6 103.2,140.7 103.3,137.7 103.3,137.8 103.4,137.2 103.5,141.1 103.5,140.5 103.6,143.2 103.6,141.3 103.7,135.7 103.8,133.8 103.8,134.1 103.9,135.6 103.9,140.0 104.0,134.2 104.1,132.4 104.1,137.7 104.2,140.6 104.2,140.6 104.3,143.1 104.4,138.2 104.4,136.7 104.5,137.4 104.5,134.4 104.6,136.3 104.7,141.9 104.7,144.3 104.8,141.8 104.8,139.0 104.9,137.4 105.0,138.7 105.0,132.5 105.1,139.6 105.1,140.2 105.2,137.4 105.3,137.8 105.3,132.8 105.4,140.0 105.4,139.9 105.5,130.4 105.6,135.8 105.6,138.5 105.7,142.2 105.7,134.8 105.8,137.1 105.9,141.5 105.9,138.5 106.0,136.4 106.0,135.7 106.1,137.0 106.2,134.5 106.2,139.7 106.3,134.1 106.3,138.2 106.4,139.2 106.5,140.0 106.5,136.7 106.6,136.4 106.6,137.2 106.7,136.5 106.8,139.3 106.8,135.7 106.9,141.6 106.9,142.9 107.0,133.9 107.1,136.9 107.1,132.2 107.2,137.7 107.2,136.6 107.3,134.7 107.4,132.2 107.4,135.2 107.5,140.9 107.5,139.7 107.6,136.1 107.7,133.1 107.7,134.7 107.8,132.4 107.8,130.8 107.9,131.9 108.0,136.4 108.0,135.5 108.1,135.1 108.1,131.4 108.2,130.5 108.3,137.5 108.3,133.5 108.4,138.1 108.4,132.4 108.5,137.5 108.6,135.3 108.6,133.4 108.7,133.4 108.7,140.3 108.8,137.4 108.9,133.9 108.9,135.2 109.0,130.2 109.0,139.7 109.1,138.8 109.2,133.5 109.2,136.0 109.3,127.3 109.3,137.5 109.4,136.0 109.5,135.3 109.5,136.9 109.6,135.3 109.6,131.6 109.7,132.3 109.8,133.7 109.8,136.8 109.9,134.2 109.9,132.1 110.0,135.0 110.1,130.3 110.1,139.9 110.2,134.7 110.2,130.8 110.3,134.1 110.4,136.7 110.4,135.1 110.5,139.4 110.5,129.2 110.6,137.9 110.7,133.1 110.7,135.7 110.8,138.1 110.8,129.5 110.9,128.9 111.0,131.8 111.0,143.0 111.1,126.9 111.1,133.0 111.2,136.1 111.3,131.3 111.3,134.1 111.4,139.8 111.4,133.5 111.5,131.6 111.6,132.0 111.6,133.7 111.7,131.5 111.7,134.3 111.8,132.9 111.9,134.9 111.9,132.6 112.0,131.9 112.0,129.4 112.1,128.0 112.2,131.2 112.2,130.8 112.3,132.7 112.3,131.7 112.4,130.7 112.5,138.4 112.5,132.7 112.6,135.2 112.6,128.6 112.7,134.5 112.8,134.9 112.8,132.8 112.9,128.8 112.9,135.0 113.0,129.2 113.1,126.7 113.1,126.5 113.2,131.4 113.2,129.7 113.3,133.5 113.4,133.1 113.4,135.1 113.5,132.1 113.5,131.4 113.6,131.0 113.7,128.7 113.7,128.5 113.8,128.8 113.8,131.6 113.9,128.4 114.0,130.6 114.0,133.9 114.1,123.8 114.1,128.2 114.2,127.8 114.3,130.7 114.3,126.3 114.4,128.7 114.4,137.3 114.5,126.6 114.6,130.3 114.6,131.2 114.7,129.7 114.7,127.1 114.8,133.5 114.9,125.0 114.9,127.8 115.0,129.9 115.0,128.8 115.1,134.0 115.2,129.7 115.2,136.2 115.3,130.6 115.3,135.2 115.4,131.9 115.5,130.0 115.5,129.9 115.6,133.8 115.6,129.3 115.7,130.8 115.8,128.6 115.8,125.0 115.9,132.6 115.9,133.0 116.0,127.6 116.1,132.7 116.1,130.7 116.2,126.0 116.2,128.9 116.3,133.7 116.4,134.9 116.4,133.2 116.5,139.6 116.5,133.3 116.6,130.2 116.7,128.2 116.7,137.0 116.8,143.5 116.8,131.8 116.9,130.6 117.0,130.7 117.0,132.1 117.1,134.6 117.1,135.0 117.2,134.6 117.3,136.4 117.3,132.3 117.4,130.9 117.4,133.8 117.5,128.1 117.6,136.7 117.6,135.8 117.7,136.0 117.7,131.4 117.8,133.2 117.9,134.8 117.9,131.9 118.0,131.8 118.0,134.5 118.1,135.6 118.2,133.4 118.2,138.5 118.3,142.1 118.3,137.4 118.4,135.3 118.5,135.0 118.5,140.8 118.6,137.1 118.6,138.2 118.7,137.2 118.8,135.0 118.8,141.2 118.9,136.2 118.9,137.5 119.0,130.9 119.1,143.6 119.1,139.6 119.2,137.2 119.2,135.3 119.3,135.9 119.4,132.8 119.4,139.2 119.5,135.4 119.5,139.2 119.6,139.4 119.7,143.7 119.7,138.8 119.8,139.1 119.8,139.7 119.9,136.5 120.0,137.6 120.0,139.3 120.1,141.6 120.1,140.4 120.2,137.3 120.3,141.6 120.3,136.8 120.4,133.4 120.4,142.4 120.5,137.8 120.6,136.3 120.6,134.1 120.7,136.2 120.7,142.3 120.8,137.2 120.9,143.8 120.9,137.3 121.0,140.5 121.0,137.3 121.1,135.8 121.2,135.9 121.2,136.3 121.3,133.6 121.3,133.5 121.4,138.1 121.5,140.7 121.5,137.6 121.6,137.3 121.6,134.5 121.7,140.5 121.8,140.3 121.8,133.9 121.9,137.6 121.9,136.5 122.0,133.2 122.1,142.3 122.1,141.1 122.2,138.7 122.2,141.9 122.3,136.4 122.4,138.8 122.4,142.0 122.5,137.3 122.5,139.1 122.6,135.5 122.7,140.3 122.7,141.8 122.8,135.6 122.8,136.2 122.9,138.4 123.0,142.7 123.0,137.2 123.1,136.3 123.1,138.4 123.2,142.0 123.3,134.3 123.3,138.3 123.4,142.6 123.4,138.7 123.5,137.9 123.6,141.2 123.6,135.2 123.7,144.6 123.7,140.0 123.8,137.5 123.9,138.8 123.9,138.3 124.0,137.6 124.0,134.8 124.1,137.6 124.2,133.2 124.2,142.1 124.3,134.8 124.3,135.8 124.4,135.6 124.5,139.9 124.5,137.1 124.6,141.8 124.6,136.2 124.7,137.9 124.8,137.2 124.8,136.3 124.9,140.5 124.9,140.7 125.0,140.9 125.1,133.0 125.1,138.0 125.2,133.6 125.2,133.5 125.3,131.5 125.4,134.0 125.4,138.4 125.5,140.6 125.5,141.6 125.6,133.9 125.7,134.6 125.7,137.1 125.8,136.8 125.8,136.9 125.9,131.2 126.0,135.7 126.0,137.9 126.1,136.9 126.1,135.7 126.2,133.9 126.3,135.7 126.3,140.6 126.4,137.4 126.4,138.9 126.5,140.6 126.6,132.6 126.6,137.7 126.7,137.0 126.7,139.5 126.8,134.9 126.9,126.2 126.9,133.6 127.0,136.0 127.0,134.6 127.1,134.9 127.2,136.3 127.2,134.2 127.3,132.5 127.3,134.0 127.4,133.6 127.5,136.3 127.5,138.7 127.6,134.0 127.6,127.9 127.7,136.6 127.8,134.7 127.8,132.1 127.9,134.1 127.9,140.2 128.0,130.4 128.1,131.4 128.1,134.5 128.2,127.5 128.2,133.3 128.3,137.4 128.4,136.1 128.4,135.6 128.5,133.5 128.5,133.9 128.6,141.7 128.7,135.0 128.7,138.2 128.8,130.6 128.8,134.9 128.9,135.2 129.0,134.5 129.0,127.7 129.1,132.7 129.1,138.2 129.2,135.5 129.3,131.6 129.3,136.3 129.4,128.3 129.4,135.4 129.5,134.7 129.6,123.5 129.6,130.7 129.7,128.8 129.7,133.0 129.8,138.6 129.9,136.1 129.9,134.8 130.0,136.3 130.0,131.9 130.1,135.2 130.2,126.6 130.2,132.3 130.3,132.3 130.3,133.6 130.4,133.3 130.5,135.6 130.5,132.1 130.6,136.6 130.6,133.3 130.7,136.6 130.8,134.5 130.8,136.7 130.9,135.6 130.9,132.6 131.0,134.9 131.1,130.7 131.1,134.7 131.2,135.7 131.2,133.9 131.3,134.3 131.4,137.6 131.4,138.4 131.5,139.0 131.5,133.3 131.6,133.8 131.7,137.4 131.7,137.7 131.8,129.9 131.8,141.0 131.9,138.6 132.0,145.6 132.0,138.7 132.1,134.1 132.1,135.0 132.2,132.5 132.3,133.0 132.3,134.2 132.4,135.6 132.4,132.1 132.5,135.1 132.6,133.2 132.6,133.6 132.7,132.6 132.7,133.3 132.8,139.6 132.9,130.3 132.9,131.1 133.0,134.6 133.0,133.3 133.1,131.6 133.2,135.7 133.2,131.1 133.3,134.4 133.3,137.1 133.4,135.9 133.5,133.3 133.5,134.1 133.6,134.5 133.6,135.7 133.7,131.1 133.8,137.5 133.8,135.9 133.9,139.1 133.9,136.1 134.0,136.6 134.1,126.5 134.1,132.3 134.2,139.0 134.2,134.7 134.3,132.2 134.4,135.6 134.4,133.8 134.5,134.8 134.5,131.6 134.6,135.2 134.7,138.1 134.7,134.5 134.8,135.1 134.8,131.8 134.9,135.3 135.0,132.8 135.0,130.1 135.1,132.9 135.1,133.5 135.2,135.9 135.3,137.1 135.3,133.9 135.4,133.5 135.4,136.4 135.5,132.0 135.6,133.8 135.6,134.1 135.7,134.4 135.7,133.2 135.8,139.7 135.9,137.8 135.9,134.6 136.0,130.9 136.0,133.7 136.1,129.0 136.2,128.2 136.2,126.3 136.3,128.5 136.3,126.0 136.4,124.5 136.5,124.8 136.5,124.8 136.6,127.7 136.6,126.4 136.7,128.1 136.8,128.4 136.8,128.1 136.9,129.9 136.9,134.1 137.0,133.2 137.1,130.5 137.1,134.0 137.2,137.1 137.2,140.0 137.3,138.6 137.4,139.1 137.4,134.2 137.5,134.3 137.5,131.1 137.6,133.6 137.7,132.2 137.7,134.8 137.8,137.4 137.8,135.1 137.9,134.5 138.0,137.4 138.0,139.8 138.1,138.5 138.1,130.4 138.2,140.4 138.3,134.0 138.3,131.1 138.4,134.2 138.4,138.2 138.5,128.1 138.6,139.0 138.6,135.9 138.7,136.8 138.7,131.2 138.8,125.7 138.9,131.8 138.9,138.5 139.0,132.8 139.0,136.2 139.1,133.1 139.2,130.2 139.2,137.6 139.3,138.5 139.3,139.4 139.4,133.4 139.5,135.2 139.5,137.1 139.6,136.1 139.6,135.8 139.7,142.0 139.8,134.0 139.8,137.9 139.9,133.9 139.9,139.7 140.0,134.9 140.1,132.9 140.1,138.1 140.2,136.2 140.2,135.1 140.3,135.7 140.4,134.7 140.4,138.2 140.5,137.8 140.5,141.9 140.6,135.3 140.7,141.6 140.7,139.3 140.8,133.7 140.8,142.4 140.9,133.1 141.0,139.9 141.0,133.2 141.1,139.7 141.1,138.0 141.2,128.7 141.3,133.9 141.3,137.4 141.4,147.8 141.4,141.8 141.5,140.0 141.6,139.9 141.6,138.6 141.7,144.8 141.7,140.6 141.8,144.0 141.9,136.6 141.9,136.4 142.0,145.0 142.0,138.5 142.1,140.5 142.2,142.4 142.2,143.7 142.3,142.8 142.3,142.5 142.4,145.6 142.5,141.5 142.5,143.4 142.6,140.8 142.6,141.0 142.7,146.0 142.8,139.6 142.8,132.8 142.9,140.3 142.9,140.5 143.0,145.2 143.1,138.6 143.1,136.2 143.2,139.8 143.2,144.7 143.3,138.1 143.4,142.7 143.4,140.4 143.5,140.7 143.5,136.2 143.6,138.8 143.7,136.1 143.7,138.4 143.8,136.2 143.8,141.4 143.9,136.6 144.0,137.4 144.0,131.4 144.1,135.0 144.1,145.0 144.2,136.7 144.3,133.1 144.3,137.7 144.4,137.1 144.4,136.3 144.5,136.9 144.6,136.4 144.6,140.5 144.7,134.3 144.7,138.4 144.8,140.3 144.9,135.2 144.9,144.5 145.0,138.1 145.0,137.6 145.1,136.3 145.2,140.3 145.2,133.3 145.3,139.8 145.3,144.6 145.4,139.1 145.5,140.6 145.5,135.6 145.6,140.6 145.6,136.1 145.7,137.1 145.8,138.5 145.8,144.1 145.9,136.9 145.9,133.0 146.0,139.1 146.1,141.1 146.1,140.8 146.2,139.6 146.2,143.0 146.3,141.7 146.4,141.6 146.4,138.0 146.5,135.1 146.5,144.2 146.6,137.0 146.7,143.4 146.7,143.1 146.8,136.4 146.8,138.0 146.9,141.2 147.0,142.9 147.0,137.3 147.1,139.4 147.1,137.3 147.2,136.8 147.3,140.7 147.3,139.1 147.4,134.6 147.4,141.8 147.5,139.5 147.6,139.5 147.6,136.8 147.7,142.8 147.7,141.6 147.8,141.6 147.9,140.6 147.9,141.8 148.0,145.4 148.0,141.3 148.1,141.5 148.2,139.4 148.2,142.7 148.3,140.0 148.3,138.6 148.4,151.0 148.5,140.1 148.5,138.0 148.6,138.4 148.6,138.9 148.7,137.2 148.8,144.5 148.8,142.0 148.9,136.2 148.9,143.5 149.0,138.9 149.1,140.7 149.1,138.8 149.2,141.0 149.2,140.8 149.3,141.9 149.4,142.0 149.4,132.1 149.5,137.9 149.5,139.1 149.6,138.5 149.7,134.8 149.7,137.8 149.8,138.3 149.8,132.8 149.9,136.1 150.0,140.7 150.0,136.3 150.1,137.9 150.1,138.4 150.2,139.8 150.3,140.5 150.3,141.4 150.4,138.7 150.4,138.9 150.5,138.0 150.6,139.0 150.6,138.1 150.7,140.6 150.7,140.5 150.8,134.5 150.9,131.9 150.9,139.8 151.0,137.0 151.0,134.1 151.1,141.4 151.2,143.0 151.2,135.4 151.3,136.0 151.3,136.8 151.4,136.4 151.5,138.4 151.5,135.5 151.6,138.8 151.6,137.7 151.7,141.9 151.8,138.6 151.8,141.5 151.9,143.3 151.9,140.5 152.0,140.8 152.1,137.5 152.1,139.0 152.2,145.6 152.2,142.9 152.3,139.0 152.4,137.7 152.4,138.4 152.5,142.0 152.5,132.8 152.6,139.5 152.7,134.9 152.7,142.8 152.8,134.5 152.8,141.3 152.9,137.7 153.0,138.6 153.0,143.3 153.1,138.4 153.1,140.4 153.2,139.5 153.3,134.9 153.3,138.2 153.4,141.1 153.4,139.3 153.5,138.8 153.6,136.1 153.6,142.7 153.7,136.5 153.7,143.4 153.8,138.7 153.9,140.2 153.9,134.0 154.0,138.4 154.0,135.3 154.1,138.3 154.2,141.6 154.2,139.2 154.3,138.9 154.3,141.0 154.4,134.7 154.5,138.5 154.5,136.4 154.6,141.5 154.6,136.2 154.7,143.0 154.8,144.3 154.8,132.1 154.9,137.9 154.9,133.7 155.0,142.0 155.1,135.8 155.1,140.2 155.2,139.3 155.2,135.7 155.3,134.0 155.4,141.7 155.4,136.7 155.5,139.2 155.5,142.6 155.6,138.4 155.7,137.6 155.7,135.5 155.8,139.9 155.8,136.2 155.9,133.6 156.0,136.9 156.0,136.8 156.1,133.9 156.1,138.0 156.2,141.2 156.3,140.5 156.3,144.9 156.4,142.3 156.4,139.8 156.5,133.2 156.6,139.9 156.6,142.9 156.7,138.6 156.7,143.7 156.8,136.8 156.9,128.7 156.9,142.1 157.0,144.8 157.0,139.7 157.1,145.7 157.2,138.9 157.2,134.7 157.3,139.7 157.3,144.1 157.4,139.0 157.5,144.9 157.5,139.4 157.6,145.7 157.6,133.5 157.7,146.8 157.8,133.9 157.8,139.7 157.9,136.3 157.9,140.7 158.0,139.1 158.1,138.8 158.1,141.5 158.2,142.4 158.2,138.4 158.3,143.0 158.4,134.0 158.4,135.9 158.5,134.9 158.5,140.4 158.6,141.6 158.7,137.5 158.7,136.7 158.8,135.0 158.8,140.5 158.9,141.8 159.0,136.6 159.0,137.7 159.1,136.9 159.1,138.0 159.2,139.4 159.3,131.3 159.3,136.3 159.4,140.3 159.4,135.1 159.5,141.5 159.6,141.9 159.6,134.9 159.7,135.3 159.7,141.6 159.8,132.7 159.9,134.5 159.9,132.8 160.0,137.7 160.0,138.7 160.1,139.1 160.2,138.5 160.2,133.5 160.3,141.2 160.3,137.5 160.4,136.6 160.5,142.9 160.5,138.2 160.6,138.9 160.6,140.4 160.7,144.0 160.8,138.0 160.8,140.1 160.9,131.1 160.9,135.2 161.0,144.4 161.1,144.3 161.1,137.9 161.2,135.7 161.2,134.4 161.3,134.9 161.4,136.9 161.4,133.4 161.5,138.4 161.5,138.2 161.6,135.1 161.7,134.9 161.7,135.3 161.8,137.4 161.8,138.2 161.9,140.6 162.0,133.7 162.0,137.9 162.1,139.0 162.1,139.9 162.2,141.4 162.3,137.6 162.3,142.5 162.4,145.7 162.4,140.1 162.5,143.4 162.6,141.6 162.6,140.0 162.7,138.0 162.7,139.3 162.8,144.7 162.9,138.7 162.9,136.1 163.0,136.9 163.0,140.7 163.1,136.4 163.2,141.0 163.2,140.4 163.3,138.9 163.3,143.1 163.4,134.3 163.5,136.5 163.5,137.6 163.6,139.3 163.6,134.1 163.7,136.4 163.8,142.0 163.8,137.0 163.9,141.0 163.9,137.5 164.0,136.0 164.1,139.9 164.1,142.3 164.2,138.3 164.2,134.6 164.3,136.3 164.4,137.4 164.4,138.0 164.5,136.1 164.5,141.1 164.6,135.9 164.7,142.1 164.7,136.2 164.8,136.5 164.8,142.9 164.9,141.7 165.0,138.7 165.0,138.0 165.1,139.2 165.1,140.1 165.2,140.8 165.3,143.2 165.3,137.7 165.4,140.2 165.4,140.5 165.5,136.2 165.6,143.8 165.6,145.4 165.7,140.4 165.7,135.2 165.8,138.0 165.9,143.2 165.9,134.3 166.0,134.4 166.0,138.8 166.1,141.6 166.2,142.7 166.2,143.2 166.3,133.1 166.3,138.3 166.4,137.1 166.5,137.0 166.5,142.2 166.6,141.0 166.6,137.5 166.7,140.3 166.8,140.2 166.8,143.2 166.9,137.7 166.9,141.2 167.0,137.1 167.1,140.4 167.1,138.9 167.2,139.7 167.2,138.9 167.3,143.2 167.4,136.7 167.4,135.9 167.5,137.0 167.5,139.9 167.6,140.6 167.7,138.3 167.7,136.4 167.8,137.1 167.8,136.2 167.9,139.6 168.0,138.1 168.0,138.8 168.1,138.2 168.1,138.2 168.2,141.2 168.3,136.6 168.3,139.1 168.4,139.2 168.4,135.9 168.5,142.3 168.6,138.5 168.6,134.9 168.7,140.4 168.7,139.3 168.8,139.7 168.9,137.4 168.9,137.0 169.0,138.3 169.0,134.6 169.1,138.4 169.2,138.2 169.2,140.2 169.3,137.5 169.3,139.5 169.4,134.7 169.5,136.3 169.5,139.9 169.6,141.5 169.6,139.6 169.7,133.2 169.8,133.4 169.8,133.4 169.9,136.5 169.9,131.5 170.0,132.4 170.1,131.9 170.1,128.9 170.2,127.1 170.2,126.4 170.3,124.9 170.4,123.8 170.4,122.8 170.5,121.9 170.5,121.3 170.6,119.7 170.7,120.1 170.7,119.9 170.8,120.3 170.8,120.6 170.9,121.7 171.0,121.4 171.0,121.5 171.1,122.4 171.1,125.3 171.2,121.9 171.3,123.2 171.3,124.3 171.4,122.6 171.4,122.3 171.5,121.7 171.6,123.7 171.6,128.5 171.7,122.1 171.7,127.7 171.8,124.1 171.9,124.3 171.9,128.2 172.0,127.9 172.0,128.3 172.1,127.1 172.2,129.1 172.2,126.1 172.3,128.4 172.3,129.9 172.4,127.9 172.5,126.3 172.5,131.9 172.6,127.9 172.6,126.5 172.7,130.1 172.8,131.6 172.8,130.2 172.9,126.5 172.9,129.3 173.0,130.0 173.1,130.7 173.1,126.3 173.2,126.7 173.2,129.9 173.3,129.5 173.4,130.5 173.4,132.0 173.5,126.6 173.5,127.1 173.6,128.3 173.7,132.9 173.7,129.2 173.8,131.8 173.8,124.6 173.9,130.3 174.0,131.8 174.0,133.0 174.1,128.5 174.1,134.4 174.2,128.4 174.3,133.5 174.3,134.1 174.4,130.4 174.4,127.8 174.5,135.6 174.6,131.8 174.6,128.5 174.7,132.3 174.7,129.1 174.8,131.9 174.9,129.3 174.9,139.7 175.0,133.5 175.0,130.7 175.1,132.0 175.2,132.7 175.2,132.2 175.3,131.2 175.3,133.6 175.4,134.3 175.5,133.6 175.5,132.5 175.6,133.5 175.6,136.8 175.7,136.3 175.8,133.3 175.8,135.3 175.9,135.4 175.9,135.6 176.0,134.6 176.1,135.7 176.1,134.0 176.2,136.4 176.2,136.1 176.3,136.6 176.4,136.7 176.4,136.6 176.5,133.8 176.5,133.0 176.6,136.0 176.7,134.9 176.7,137.5 176.8,134.6 176.8,135.1 176.9,133.2 177.0,136.0 177.0,135.4 177.1,138.8 177.1,136.4 177.2,139.3 177.3,134.6 177.3,132.8 177.4,138.5 177.4,137.2 177.5,139.5 177.6,134.7 177.6,132.3 177.7,139.5 177.7,136.7 177.8,134.8 177.9,140.7 177.9,133.4 178.0,133.1 178.0,131.3 178.1,129.6 178.2,128.0 178.2,125.7 178.3,123.7 178.3,122.2 178.4,120.7 178.5,121.5 178.5,122.5 178.6,123.5 178.6,124.5 178.7,125.9 178.8,127.0 178.8,127.9 178.9,129.1 178.9,130.6 179.0,132.6 179.1,136.3 179.1,135.2 179.2,139.0 179.2,136.0 179.3,141.8 179.4,137.6 179.4,138.2 179.5,138.6 179.5,138.0 179.6,138.3 179.7,139.9 179.7,138.4 179.8,139.7 179.8,137.0 179.9,137.1 180.0,135.8 180.0,140.5 180.1,137.2 180.1,140.0 180.2,139.4 180.3,139.5 180.3,138.8 180.4,140.7 180.4,140.7 180.5,143.5 180.6,139.2 180.6,139.0 180.7,137.1 180.7,145.4 180.8,138.6 180.9,142.4 180.9,142.4 181.0,137.6 181.0,139.1 181.1,142.6 181.2,140.7 181.2,137.4 181.3,141.0 181.3,144.6 181.4,141.5 181.5,142.1 181.5,144.0 181.6,146.4 181.6,140.7 181.7,138.9 181.8,140.3 181.8,139.2 181.9,136.7 181.9,140.0 182.0,137.7 182.1,144.0 182.1,140.1 182.2,132.9 182.2,137.4 182.3,141.3 182.4,138.6 182.4,137.9 182.5,138.6 182.5,137.7 182.6,141.8 182.7,138.8 182.7,137.5 182.8,142.5 182.8,136.7 182.9,140.7 183.0,137.2 183.0,138.9 183.1,138.7 183.1,136.9 183.2,138.5 183.3,144.4 183.3,137.0 183.4,145.9 183.4,142.6 183.5,144.8 183.6,138.9 183.6,143.4 183.7,140.9 183.7,146.2 183.8,139.1 183.9,143.9 183.9,138.7 184.0,144.4 184.0,139.3 184.1,137.1 184.2,136.4 184.2,138.6 184.3,144.7 184.3,136.4 184.4,138.0 184.5,139.8 184.5,140.2 184.6,140.7 184.6,144.6 184.7,139.3 184.8,135.7 184.8,131.2 184.9,138.6 184.9,139.1 185.0,140.1 185.1,144.2 185.1,143.2 185.2,139.7 185.2,138.5 185.3,140.8 185.4,137.3 185.4,134.3 185.5,137.5 185.5,142.2 185.6,137.3 185.7,137.8 185.7,143.5 185.8,143.5 185.8,143.5 185.9,137.0 186.0,140.6 186.0,143.1 186.1,142.1 186.1,138.0 186.2,138.5 186.3,136.9 186.3,137.5 186.4,140.1 186.4,140.1 186.5,136.5 186.6,141.0 186.6,139.7 186.7,142.8 186.7,137.6 186.8,139.8 186.9,132.7 186.9,141.5 187.0,141.0 187.0,141.9 187.1,139.5 187.2,139.6 187.2,139.4 187.3,143.2 187.3,137.0 187.4,139.6 187.5,141.7 187.5,139.0 187.6,137.4 187.6,139.3 187.7,141.2 187.8,144.9 187.8,139.0 187.9,134.3 187.9,143.5 188.0,140.7 188.1,142.5 188.1,140.5 188.2,140.8 188.2,135.4 188.3,142.6 188.4,137.9 188.4,142.9 188.5,135.6 188.5,144.5 188.6,140.6 188.7,134.4 188.7,141.4 188.8,141.3 188.8,141.3 188.9,137.8 189.0,147.4 189.0,139.5 189.1,143.7 189.1,133.7 189.2,142.5 189.3,142.1 189.3,140.5 189.4,144.0 189.4,138.6 189.5,141.6 189.6,140.0 189.6,140.8 189.7,137.1 189.7,141.7 189.8,141.3 189.9,140.4 189.9,140.3 190.0,138.2 190.0,137.5 190.1,138.4 190.2,140.0 190.2,135.4 190.3,138.4 190.3,143.1 190.4,140.6 190.5,135.7 190.5,141.9 190.6,133.4 190.6,137.6 190.7,141.3 190.8,140.0 190.8,139.0 190.9,135.0 190.9,133.2 191.0,139.4 191.1,138.7 191.1,142.7 191.2,136.2 191.2,134.7 191.3,136.3 191.4,132.6 191.4,136.8 191.5,137.7 191.5,137.4 191.6,143.1 191.7,143.3 191.7,137.1 191.8,136.5 191.8,141.8 191.9,141.3 192.0,134.7 192.0,136.3 192.1,136.2 192.1,134.8 192.2,136.9 192.3,135.0 192.3,140.8 192.4,140.0 192.4,133.8 192.5,136.9 192.6,137.0 192.6,142.8 192.7,136.9 192.7,141.3 192.8,143.5 192.9,136.3 192.9,140.4 193.0,139.1 193.0,141.4 193.1,134.9 193.2,137.7 193.2,134.0 193.3,140.9 193.3,133.1 193.4,138.9 193.5,134.1 193.5,136.5 193.6,136.2 193.6,138.8 193.7,140.1 193.8,141.8 193.8,142.5 193.9,138.6 193.9,135.2 194.0,142.0 194.1,134.8 194.1,138.4 194.2,136.3 194.2,136.5 194.3,138.8 194.4,135.0 194.4,137.9 194.5,137.9 194.5,141.2 194.6,141.5 194.7,140.4 194.7,138.3 194.8,143.2 194.8,141.0 194.9,134.5 195.0,139.1 195.0,139.5 195.1,135.8 195.1,138.9 195.2,137.3 195.3,135.6 195.3,138.4 195.4,136.4 195.4,134.7 195.5,138.3 195.6,132.9 195.6,141.6 195.7,137.3 195.7,138.6 195.8,141.1 195.9,141.1 195.9,137.5 196.0,139.3 196.0,141.2 196.1,142.5 196.2,136.1 196.2,139.2 196.3,135.2 196.3,149.2 196.4,138.1 196.5,137.7 196.5,135.1 196.6,135.7 196.6,138.0 196.7,134.0 196.8,138.7 196.8,134.7 196.9,142.2 196.9,138.6 197.0,140.3 197.1,137.0 197.1,141.3 197.2,139.5 197.2,140.2 197.3,138.3 197.4,139.8 197.4,137.7 197.5,139.8 197.5,137.1 197.6,137.1 197.7,138.5 197.7,138.4 197.8,137.9 197.8,135.8 197.9,137.3 198.0,140.9 198.0,138.6 198.1,139.2 198.1,136.8 198.2,142.4 198.3,137.8 198.3,140.0 198.4,138.4 198.4,142.0 198.5,134.0 198.6,132.7 198.6,137.7 198.7,131.6 198.7,136.5 198.8,136.7 198.9,138.1 198.9,140.9 199.0,135.1 199.0,140.6 199.1,142.8 199.2,143.9 199.2,136.0 199.3,138.3 199.3,145.0 199.4,136.5 199.5,142.8 199.5,140.6 199.6,141.1 199.6,134.6 199.7,135.3 199.8,136.9 199.8,141.2 199.9,141.7 199.9,137.0 200.0,140.2 200.1,139.7 200.1,136.4 200.2,135.9 200.2,133.4 200.3,135.6 200.4,136.5 200.4,142.3 200.5,141.1 200.5,138.0 200.6,139.4 200.7,135.9 200.7,131.5 200.8,139.0 200.8,139.8 200.9,135.8 201.0,141.5 201.0,141.0 201.1,140.3 201.1,132.3 201.2,137.9 201.3,139.6 201.3,135.2 201.4,136.2 201.4,140.2 201.5,143.7 201.6,140.1 201.6,138.4 201.7,136.2 201.7,134.5 201.8,135.2 201.9,138.8 201.9,136.3 202.0,141.7 202.0,133.9 202.1,134.5 202.2,137.7 202.2,138.6 202.3,138.3 202.3,134.9 202.4,135.9 202.5,140.9 202.5,137.1 202.6,136.9 202.6,140.2 202.7,139.6 202.8,138.5 202.8,143.4 202.9,134.6 202.9,139.7 203.0,136.9 203.1,141.6 203.1,136.0 203.2,140.7 203.2,137.7 203.3,146.1 203.4,139.7 203.4,145.5 203.5,137.1 203.5,137.4 203.6,140.2 203.7,134.3 203.7,136.6 203.8,143.7 203.8,142.6 203.9,138.8 204.0,142.8 204.0,140.9 204.1,141.0 204.1,136.9 204.2,142.5 204.3,138.1 204.3,144.1 204.4,136.9 204.4,147.1 204.5,138.0 204.6,136.0 204.6,136.7 204.7,141.1 204.7,140.9 204.8,138.0 204.9,142.3 204.9,145.7 205.0,140.4 205.0,142.3 205.1,142.6 205.2,142.4 205.2,134.9 205.3,144.2 205.3,139.7 205.4,140.2 205.5,143.2 205.5,132.2 205.6,141.9 205.6,140.3 205.7,144.2 205.8,140.4 205.8,143.1 205.9,142.2 205.9,135.5 206.0,138.7 206.1,147.9 206.1,138.4 206.2,136.0 206.2,134.0 206.3,137.9 206.4,137.2 206.4,139.4 206.5,142.8 206.5,136.8 206.6,137.1 206.7,141.2 206.7,140.4 206.8,132.9 206.8,137.3 206.9,132.9 207.0,134.7 207.0,135.6 207.1,136.6 207.1,136.1 207.2,137.5 207.3,137.8 207.3,141.4 207.4,139.1 207.4,133.7 207.5,140.7 207.6,137.7 207.6,133.4 207.7,133.9 207.7,136.9 207.8,137.0 207.9,137.8 207.9,132.4 208.0,135.8 208.0,142.9 208.1,131.8 208.2,133.0 208.2,137.0 208.3,137.8 208.3,135.3 208.4,137.4 208.5,136.7 208.5,134.6 208.6,136.9 208.6,136.1 208.7,138.1 208.8,139.1 208.8,134.5 208.9,136.8 208.9,134.1 209.0,136.1 209.1,137.5 209.1,139.2 209.2,134.8 209.2,138.9 209.3,136.8 209.4,136.3 209.4,136.4 209.5,135.3 209.5,138.0 209.6,133.3 209.7,138.2 209.7,135.3 209.8,141.0 209.8,135.3 209.9,137.6 210.0,138.8 210.0,138.9 210.1,141.1 210.1,141.3 210.2,136.1 210.3,135.2 210.3,140.6 210.4,137.7 210.4,136.1 210.5,130.0 210.6,130.5 210.6,127.0 210.7,127.2 210.7,124.9 210.8,123.4 210.9,127.1 210.9,125.7 211.0,125.2 211.0,125.7 211.1,123.7 211.2,124.7 211.2,124.3 211.3,126.7 211.3,128.6 211.4,127.8 211.5,130.5 211.5,140.1 211.6,135.8 211.6,138.6 211.7,134.7 211.8,134.9 211.8,137.5 211.9,137.7 211.9,141.0 212.0,136.8 212.1,138.3 212.1,138.5 212.2,143.2 212.2,137.9 212.3,134.2 212.4,133.2 212.4,136.2 212.5,137.4 212.5,133.8 212.6,133.7 212.7,134.2 212.7,136.8 212.8,138.5 212.8,134.6 212.9,134.2 213.0,140.1 213.0,141.4 213.1,137.8 213.1,134.5 213.2,134.4 213.3,137.9 213.3,130.8 213.4,131.1 213.4,138.2 213.5,131.2 213.6,133.0 213.6,141.0 213.7,133.6 213.7,138.7 213.8,133.9 213.9,131.5 213.9,135.7 214.0,134.1 214.0,136.6 214.1,129.9 214.2,135.5 214.2,134.6 214.3,136.1 214.3,134.5 214.4,130.8 214.5,137.3 214.5,136.0 214.6,136.0 214.6,135.0 214.7,134.2 214.8,131.4 214.8,127.8 214.9,128.3 214.9,132.3 215.0,126.2 215.1,130.7 215.1,134.9 215.2,129.7 215.2,137.8 215.3,127.5 215.4,134.2 215.4,126.7 215.5,133.2 215.5,137.0 215.6,131.4 215.7,123.3 215.7,129.0 215.8,134.2 215.8,134.9 215.9,133.6 216.0,131.1 216.0,129.5 216.1,130.3 216.1,129.8 216.2,128.3 216.3,136.0 216.3,136.8 216.4,137.0 216.4,138.3 216.5,131.6 216.6,128.3 216.6,134.4 216.7,133.1 216.7,130.8 216.8,135.5 216.9,133.1 216.9,136.4 217.0,135.8 217.0,132.4 217.1,135.0 217.2,133.6 217.2,136.2 217.3,135.2 217.3,132.8 217.4,136.9 217.5,135.2 217.5,135.5 217.6,136.5 217.6,142.7 217.7,137.5 217.8,136.0 217.8,134.9 217.9,132.0 217.9,136.9 218.0,137.1 218.1,135.6 218.1,139.4 218.2,138.6 218.2,139.4 218.3,136.9 218.4,142.0 218.4,139.4 218.5,136.0 218.5,137.9 218.6,140.8 218.7,136.2 218.7,141.7 218.8,136.8 218.8,132.8 218.9,140.1 219.0,136.6 219.0,138.2 219.1,137.6 219.1,141.1 219.2,138.0 219.3,140.5 219.3,135.5 219.4,138.1 219.4,136.2 219.5,137.8 219.6,144.0 219.6,135.5 219.7,138.8 219.7,136.7 219.8,138.8 219.9,135.2 219.9,136.0 220.0,132.6 220.0,141.0 220.1,137.5 220.2,138.0 220.2,133.5 220.3,141.4 220.3,140.2 220.4,136.0 220.5,137.8 220.5,136.1 220.6,139.5 220.6,130.5 220.7,137.2 220.8,137.4 220.8,139.0 220.9,133.6 220.9,134.3 221.0,133.3 221.1,139.0 221.1,137.4 221.2,139.2 221.2,138.5 221.3,144.2 221.4,132.8 221.4,135.4 221.5,139.8 221.5,136.9 221.6,133.2 221.7,133.5 221.7,134.6 221.8,135.2 221.8,136.2 221.9,135.9 222.0,137.1 222.0,138.8 222.1,137.6 222.1,132.9 222.2,141.7 222.3,135.3 222.3,134.0 222.4,139.1 222.4,140.0 222.5,137.5 222.6,139.9 222.6,135.8 222.7,135.9 222.7,133.3 222.8,139.4 222.9,137.2 222.9,141.4 223.0,135.9 223.0,140.1 223.1,137.3 223.2,141.9 223.2,137.2 223.3,141.3 223.3,134.5 223.4,136.2 223.5,136.0 223.5,140.5 223.6,131.7 223.6,134.3 223.7,138.3 223.8,137.5 223.8,137.6 223.9,138.9 223.9,137.0 224.0,139.5 224.1,141.3 224.1,135.0 224.2,141.2 224.2,135.4 224.3,133.8 224.4,137.2 224.4,137.0 224.5,138.0 224.5,133.9 224.6,136.8 224.7,135.3 224.7,140.0 224.8,137.0 224.8,135.0 224.9,133.7 225.0,136.5 225.0,142.0 225.1,131.5 225.1,134.4 225.2,139.7 225.3,139.0 225.3,135.5 225.4,135.7 225.4,134.7 225.5,133.4 225.6,135.0 225.6,137.3 225.7,136.8 225.7,131.5 225.8,135.1 225.9,133.8 225.9,139.1 226.0,131.8 226.0,132.4 226.1,131.8 226.2,142.9 226.2,140.6 226.3,135.0 226.3,138.4 226.4,130.7 226.5,134.9 226.5,142.2 226.6,135.1 226.6,131.8 226.7,133.8 226.8,133.9 226.8,135.1 226.9,135.1 226.9,134.1 227.0,131.2 227.1,135.3 227.1,135.4 227.2,130.9 227.2,137.0 227.3,134.9 227.4,140.3 227.4,136.7 227.5,133.5 227.5,132.8 227.6,140.4 227.7,138.7 227.7,136.9 227.8,137.8 227.8,131.5 227.9,138.7 228.0,135.0 228.0,135.3 228.1,138.4 228.1,137.0 228.2,131.1 228.3,137.4 228.3,135.0 228.4,138.9 228.4,136.2 228.5,137.5 228.6,133.0 228.6,133.5 228.7,132.7 228.7,137.0 228.8,133.5 228.9,135.3 228.9,142.5 229.0,139.1 229.0,143.2 229.1,146.1 229.2,134.5 229.2,135.9 229.3,139.1 229.3,135.0 229.4,143.2 229.5,134.9 229.5,141.5 229.6,134.7 229.6,135.2 229.7,138.7 229.8,137.6 229.8,136.7 229.9,136.3 229.9,138.5 230.0,136.0 230.1,143.1 230.1,140.0 230.2,139.2 230.2,134.9 230.3,144.3 230.4,138.7 230.4,135.8 230.5,135.1 230.5,130.4 230.6,135.8 230.7,131.7 230.7,133.2 230.8,141.3 230.8,136.4 230.9,134.9 231.0,142.2 231.0,135.4 231.1,143.2 231.1,136.4 231.2,138.4 231.3,136.2 231.3,135.6 231.4,137.9 231.4,141.3 231.5,137.6 231.6,134.4 231.6,132.3 231.7,140.8 231.7,135.3 231.8,134.3 231.9,138.7 231.9,138.8 232.0,139.2 232.0,135.7 232.1,132.0 232.2,139.1 232.2,137.4 232.3,137.4 232.3,134.9 232.4,139.1 232.5,137.8 232.5,138.4 232.6,141.2 232.6,136.9 232.7,136.6 232.8,136.7 232.8,132.9 232.9,136.5 232.9,140.4 233.0,139.8 233.1,135.9 233.1,134.0 233.2,138.8 233.2,137.6 233.3,137.9 233.4,141.8 233.4,136.8 233.5,140.7 233.5,138.4 233.6,140.0 233.7,135.5 233.7,137.3 233.8,138.4 233.8,137.1 233.9,137.8 234.0,136.8 234.0,142.9 234.1,131.2 234.1,140.1 234.2,138.1 234.3,134.5 234.3,136.0 234.4,133.6 234.4,139.7 234.5,140.2 234.6,139.3 234.6,142.9 234.7,133.3 234.7,134.6 234.8,137.1 234.9,140.5 234.9,139.8 235.0,135.4 235.0,138.6 235.1,140.9 235.2,134.4 235.2,140.3 235.3,141.4 235.3,141.9 235.4,141.9 235.5,137.9 235.5,132.7 235.6,134.8 235.6,136.2 235.7,138.1 235.8,141.0 235.8,138.9 235.9,139.7 235.9,142.9 236.0,134.2 236.1,139.5 236.1,140.7 236.2,142.6 236.2,145.2 236.3,141.8 236.4,135.7 236.4,140.5 236.5,136.2 236.5,139.9 236.6,136.9 236.7,137.1 236.7,139.4 236.8,136.8 236.8,138.8 236.9,138.4 237.0,140.1 237.0,136.8 237.1,135.1 237.1,133.3 237.2,139.8 237.3,140.2 237.3,135.3 237.4,133.0 237.4,140.4 237.5,138.5 237.6,140.7 237.6,138.5 237.7,142.1 237.7,139.6 237.8,138.2 237.9,141.3 237.9,135.2 238.0,138.4 238.0,138.9 238.1,137.7 238.2,139.6 238.2,137.5 238.3,133.9 238.3,144.4 238.4,138.7 238.5,138.0 238.5,134.7 238.6,139.0 238.6,138.4 238.7,134.9 238.8,142.4 238.8,141.8 238.9,133.8 238.9,141.4 239.0,137.0 239.1,141.4 239.1,140.7 239.2,142.2 239.2,140.9 239.3,143.6 239.4,138.4 239.4,138.4 239.5,138.5 239.5,138.1 239.6,145.7 239.7,139.9 239.7,143.1 239.8,140.2 239.8,139.2 239.9,130.3 240.0,137.7 240.0,141.5 240.1,143.2 240.1,139.7 240.2,139.9 240.3,138.2 240.3,141.3 240.4,142.0 240.4,142.4 240.5,138.1 240.6,139.3 240.6,136.8 240.7,140.3 240.7,141.2 240.8,139.6 240.9,139.0 240.9,140.4 241.0,140.0 241.0,140.6 241.1,137.2 241.2,136.9 241.2,137.9 241.3,136.7 241.3,140.2 241.4,145.1 241.5,139.6 241.5,134.7 241.6,137.1 241.6,136.6 241.7,140.8 241.8,140.0 241.8,144.4 241.9,139.7 241.9,138.9 242.0,142.9 242.1,136.6 242.1,139.2 242.2,142.5 242.2,139.9 242.3,140.4 242.4,136.5 242.4,134.6 242.5,138.1 242.5,141.7 242.6,137.2 242.7,135.6 242.7,134.2 242.8,144.0 242.8,134.0 242.9,136.6 243.0,134.9 243.0,140.1 243.1,133.2 243.1,134.0 243.2,138.5 243.3,133.2 243.3,139.3 243.4,141.1 243.4,138.0 243.5,130.3 243.6,135.6 243.6,136.7 243.7,141.3 243.7,141.8 243.8,140.2 243.9,137.5 243.9,136.6 244.0,137.0 244.0,135.4 244.1,135.9 244.2,135.5 244.2,137.1 244.3,140.8 244.3,133.2 244.4,142.4 244.5,138.8 244.5,139.6 244.6,136.9 244.6,136.8 244.7,140.4 244.8,135.7 244.8,134.1 244.9,136.6 244.9,135.0 245.0,140.5 245.1,137.0 245.1,138.0 245.2,136.5 245.2,136.3 245.3,139.5 245.4,137.0 245.4,140.3 245.5,130.6 245.5,137.0 245.6,138.2 245.7,135.3 245.7,130.1 245.8,135.1 245.8,134.2 245.9,138.6 246.0,138.1 246.0,137.7 246.1,135.2 246.1,135.4 246.2,135.0 246.3,137.3 246.3,134.3 246.4,135.9 246.4,136.5 246.5,133.7 246.6,134.4 246.6,131.8 246.7,130.5 246.7,131.8 246.8,131.4 246.9,129.0 246.9,133.8 247.0,135.7 247.0,135.9 247.1,137.6 247.2,132.6 247.2,139.7 247.3,132.2 247.3,133.9 247.4,137.1 247.5,128.6 247.5,128.1 247.6,128.3 247.6,126.4 247.7,125.9 247.8,123.5 247.8,123.9 247.9,124.8 247.9,123.7 248.0,124.5 248.1,126.1 248.1,122.8 248.2,124.4 248.2,124.5 248.3,125.0 248.4,126.3 248.4,126.9 248.5,127.2 248.5,129.5 248.6,132.5 248.7,132.3 248.7,132.9 248.8,131.3 248.8,132.3 248.9,135.7 249.0,131.6 249.0,135.5 249.1,135.2 249.1,135.1 249.2,127.7 249.3,135.1 249.3,133.1 249.4,133.9 249.4,131.8 249.5,131.7 249.6,129.3 249.6,128.9 249.7,133.2 249.7,129.7 249.8,130.9 249.9,134.9 249.9,136.0 250.0,131.8 250.0,126.5 250.1,133.2 250.2,134.9 250.2,132.5 250.3,131.2 250.3,129.1 250.4,132.9 250.5,139.6 250.5,134.3 250.6,131.6 250.6,129.9 250.7,133.9 250.8,128.7 250.8,131.2 250.9,132.1 250.9,132.1 251.0,134.1 251.1,132.9 251.1,129.6 251.2,127.1 251.2,133.5 251.3,125.9 251.4,129.2 251.4,143.9 251.5,131.3 251.5,137.6 251.6,131.7 251.7,134.6 251.7,135.7 251.8,137.1 251.8,133.0 251.9,130.5 252.0,133.8 252.0,129.5 252.1,129.6 252.1,136.9 252.2,131.5 252.3,137.5 252.3,137.4 252.4,131.7 252.4,132.8 252.5,133.3 252.6,137.0 252.6,134.1 252.7,137.5 252.7,133.9 252.8,137.3 252.9,133.5 252.9,137.8 253.0,136.4 253.0,137.9 253.1,136.9 253.2,129.2 253.2,139.5 253.3,134.5 253.3,130.0 253.4,132.4 253.5,131.4 253.5,136.0 253.6,133.1 253.6,134.2 253.7,137.0 253.8,129.8 253.8,130.0 253.9,134.8 253.9,129.8 254.0,136.7 254.1,130.9 254.1,131.5 254.2,136.6 254.2,138.9 254.3,134.3 254.4,133.1 254.4,130.4 254.5,133.5 254.5,133.2 254.6,131.4 254.7,133.2 254.7,137.2 254.8,135.1 254.8,127.5 254.9,139.6 255.0,138.1 255.0,131.3 255.1,138.6 255.1,131.6 255.2,136.8 255.3,135.7 255.3,132.6 255.4,136.4 255.4,135.9 255.5,136.2 255.6,132.0 255.6,138.0 255.7,135.2 255.7,139.9 255.8,138.6 255.9,138.2 255.9,133.2 256.0,142.2 256.0,137.6 256.1,136.7 256.2,135.2 256.2,136.9 256.3,140.3 256.3,131.4 256.4,138.7 256.5,133.9 256.5,135.0 256.6,139.1 256.6,139.4 256.7,137.3 256.8,139.2 256.8,142.7 256.9,138.8 256.9,135.5 257.0,137.8 257.1,137.8 257.1,143.1 257.2,138.0 257.2,134.4 257.3,135.5 257.4,142.9 257.4,141.0 257.5,136.4 257.5,135.6 257.6,142.0 257.7,136.2 257.7,139.3 257.8,142.3 257.8,141.9 257.9,137.4 258.0,141.7 258.0,135.6 258.1,140.9 258.1,138.6 258.2,134.8 258.3,144.0 258.3,139.7 258.4,141.6 258.4,139.1 258.5,147.8 258.6,145.0 258.6,139.9 258.7,146.3 258.7,143.3 258.8,145.3 258.9,134.7 258.9,141.5 259.0,137.5 259.0,140.2 259.1,139.6 259.2,141.5 259.2,134.8 259.3,139.6 259.3,136.5 259.4,143.7 259.5,141.5 259.5,142.5 259.6,143.7 259.6,143.0 259.7,138.9 259.8,141.0 259.8,135.3 259.9,139.4 259.9,139.7 260.0,140.1 260.1,141.7 260.1,140.7 260.2,145.7 260.2,143.4 260.3,140.8 260.4,139.8 260.4,139.0 260.5,144.0 260.5,138.3 260.6,143.1 260.7,137.2 260.7,140.1 260.8,136.6 260.8,141.6 260.9,140.9 261.0,138.8 261.0,135.6 261.1,132.9 261.1,138.5 261.2,148.1 261.3,137.3 261.3,140.7 261.4,137.3 261.4,141.9 261.5,137.4 261.6,143.8 261.6,137.5 261.7,139.3 261.7,145.2 261.8,141.1 261.9,140.7 261.9,140.1 262.0,141.7 262.0,137.7 262.1,137.4 262.2,145.1 262.2,140.9 262.3,141.6 262.3,141.0 262.4,141.5 262.5,144.6 262.5,141.9 262.6,141.0 262.6,139.6 262.7,142.0 262.8,144.9 262.8,140.1 262.9,140.5 262.9,145.3 263.0,142.5 263.1,145.1 263.1,138.9 263.2,139.8 263.2,139.0 263.3,143.2 263.4,137.7 263.4,143.6 263.5,142.0 263.5,143.5 263.6,144.5 263.7,144.9 263.7,135.3 263.8,143.9 263.8,145.3 263.9,140.9 264.0,144.0 264.0,143.9 264.1,144.2 264.1,138.9 264.2,145.8 264.3,138.2 264.3,143.6 264.4,144.0 264.4,143.8 264.5,143.4 264.6,146.6 264.6,144.3 264.7,143.4 264.7,145.7 264.8,138.2 264.9,141.0 264.9,138.8 265.0,138.5 265.0,145.1 265.1,142.7 265.2,146.6 265.2,144.2 265.3,134.5 265.3,141.1 265.4,140.7 265.5,140.1 265.5,147.0 265.6,140.5 265.6,145.2 265.7,141.8 265.8,141.8 265.8,140.4 265.9,147.2 265.9,142.1 266.0,139.3 266.1,142.7 266.1,138.1 266.2,146.2 266.2,138.8 266.3,140.4 266.4,143.0 266.4,139.4 266.5,146.7 266.5,142.3 266.6,142.8 266.7,142.7 266.7,142.4 266.8,142.8 266.8,148.2 266.9,141.9 267.0,139.6 267.0,146.2 267.1,145.4 267.1,141.3 267.2,141.3 267.3,146.3 267.3,143.0 267.4,142.4 267.4,142.1 267.5,140.6 267.6,144.3 267.6,138.5 267.7,139.1 267.7,137.2 267.8,140.6 267.9,139.1 267.9,143.2 268.0,140.2 268.0,141.8 268.1,144.1 268.2,142.4 268.2,140.2 268.3,140.5 268.3,139.8 268.4,142.1 268.5,142.2 268.5,145.8 268.6,144.1 268.6,143.0 268.7,140.1 268.8,142.8 268.8,138.8 268.9,136.2 268.9,143.1 269.0,144.1 269.1,134.3 269.1,144.4 269.2,136.6 269.2,138.4 269.3,142.7 269.4,140.7 269.4,141.1 269.5,138.1 269.5,144.9 269.6,140.9 269.7,140.7 269.7,146.1 269.8,141.4 269.8,143.1 269.9,143.7 270.0,141.4 270.0,137.5 270.1,143.1 270.1,139.4 270.2,145.2 270.3,144.6 270.3,134.0 270.4,147.1 270.4,137.4 270.5,141.8 270.6,142.2 270.6,140.7 270.7,141.9 270.7,144.7 270.8,141.6 270.9,140.1 270.9,140.8 271.0,140.3 271.0,139.9 271.1,140.1 271.2,139.7 271.2,142.8 271.3,138.1 271.3,136.8 271.4,143.7 271.5,139.1 271.5,143.6 271.6,140.1 271.6,137.1 271.7,140.8 271.8,145.1 271.8,137.2 271.9,138.5 271.9,134.9 272.0,140.2 272.1,139.0 272.1,145.7 272.2,132.9 272.2,140.9 272.3,139.7 272.4,141.2 272.4,138.8 272.5,140.2 272.5,138.0 272.6,138.5 272.7,142.2 272.7,132.6 272.8,143.2 272.8,138.0 272.9,140.0 273.0,143.8 273.0,143.9 273.1,141.2 273.1,140.6 273.2,136.5 273.3,141.0 273.3,140.2 273.4,139.6 273.4,138.1 273.5,141.2 273.6,143.0 273.6,139.8 273.7,137.0 273.7,143.3 273.8,138.9 273.9,140.1 273.9,152.9 274.0,140.8 274.0,139.2 274.1,140.1 274.2,142.3 274.2,141.1 274.3,143.1 274.3,145.1 274.4,146.2 274.5,140.0 274.5,141.2 274.6,142.2 274.6,137.3 274.7,136.7 274.8,137.2 274.8,136.7 274.9,135.2 274.9,134.3 275.0,134.4 275.1,136.6 275.1,135.9 275.2,136.8 275.2,135.3 275.3,136.6 275.4,138.3" fill="none" stroke="#000" stroke-width="0.7" stroke-linejoin="bevel"/>
<line x1="170.6" y1="103.6" x2="170.6" y2="119.7" stroke="#c42433" stroke-width="1.15"/>
<line x1="170.6" y1="119.7" x2="170.6" y2="132" stroke="#000" stroke-width="1.3"/>
<line x1="178.4" y1="112.2" x2="178.4" y2="119.7" stroke="#c42433" stroke-width="1.15"/>
<line x1="178.4" y1="119.7" x2="178.4" y2="133" stroke="#000" stroke-width="1.3"/>
<polyline points="425.8,71.2 425.9,56.6 425.9,68.4 426.0,65.4 426.0,69.7 426.1,66.5 426.2,71.4 426.2,65.3 426.3,63.4 426.3,67.2 426.4,66.7 426.5,64.0 426.5,64.4 426.6,67.7 426.6,67.6 426.7,63.6 426.8,64.0 426.8,59.1 426.9,71.0 426.9,64.5 427.0,69.8 427.1,66.7 427.1,71.9 427.2,70.5 427.2,66.3 427.3,70.3 427.4,62.0 427.4,69.5 427.5,60.2 427.5,66.4 427.6,68.8 427.7,65.9 427.7,63.9 427.8,62.4 427.8,63.9 427.9,68.6 428.0,68.0 428.0,64.0 428.1,60.6 428.1,67.1 428.2,59.8 428.3,62.9 428.3,62.1 428.4,67.0 428.4,65.2 428.5,65.9 428.6,65.2 428.6,61.9 428.7,65.9 428.7,68.8 428.8,63.8 428.9,66.0 428.9,63.3 429.0,67.2 429.0,65.8 429.1,66.5 429.2,64.6 429.2,68.9 429.3,62.0 429.3,62.0 429.4,61.0 429.5,65.0 429.5,60.7 429.6,60.6 429.6,65.2 429.7,66.6 429.8,64.5 429.8,53.9 429.9,59.1 429.9,58.6 430.0,58.1 430.1,60.8 430.1,68.3 430.2,61.1 430.2,59.6 430.3,64.5 430.4,49.8 430.4,62.5 430.5,59.7 430.5,62.0 430.6,63.5 430.7,55.6 430.7,56.6 430.8,65.8 430.8,65.0 430.9,60.4 431.0,58.7 431.0,61.6 431.1,58.2 431.1,61.2 431.2,68.0 431.3,62.9 431.3,66.5 431.4,61.9 431.4,64.0 431.5,67.5 431.6,58.4 431.6,61.9 431.7,62.7 431.7,64.3 431.8,68.7 431.9,65.9 431.9,58.6 432.0,63.0 432.0,61.0 432.1,61.1 432.2,71.2 432.2,60.9 432.3,65.4 432.3,62.4 432.4,67.9 432.5,66.3 432.5,65.6 432.6,65.1 432.6,69.3 432.7,62.4 432.8,63.2 432.8,61.9 432.9,70.4 432.9,64.9 433.0,62.4 433.1,64.6 433.1,74.6 433.2,65.7 433.2,69.0 433.3,67.7 433.4,75.7 433.4,63.8 433.5,65.0 433.5,64.9 433.6,58.6 433.7,74.6 433.7,69.2 433.8,66.5 433.8,65.3 433.9,63.3 434.0,69.2 434.0,65.3 434.1,67.5 434.1,61.1 434.2,67.1 434.3,72.5 434.3,64.7 434.4,68.4 434.4,65.7 434.5,69.3 434.6,69.1 434.6,65.7 434.7,63.5 434.7,66.3 434.8,65.4 434.9,63.2 434.9,66.8 435.0,66.6 435.0,62.1 435.1,64.7 435.2,73.5 435.2,67.8 435.3,65.3 435.3,73.4 435.4,63.3 435.5,56.4 435.5,58.3 435.6,59.6 435.6,65.6 435.7,68.0 435.8,57.3 435.8,68.4 435.9,60.4 435.9,65.5 436.0,66.2 436.1,66.1 436.1,64.6 436.2,65.2 436.2,60.8 436.3,65.6 436.4,68.0 436.4,67.9 436.5,73.3 436.5,68.5 436.6,67.4 436.7,70.6 436.7,65.9 436.8,60.8 436.8,57.6 436.9,69.7 437.0,67.4 437.0,68.4 437.1,64.5 437.1,66.9 437.2,72.3 437.3,67.1 437.3,62.3 437.4,64.7 437.4,71.0 437.5,62.7 437.6,58.1 437.6,58.9 437.7,62.2 437.7,69.6 437.8,67.3 437.9,64.5 437.9,62.8 438.0,66.8 438.0,66.8 438.1,65.4 438.2,66.6 438.2,64.9 438.3,73.7 438.3,59.5 438.4,68.0 438.5,64.2 438.5,70.0 438.6,66.8 438.6,68.9 438.7,69.4 438.8,68.3 438.8,71.0 438.9,62.8 438.9,70.8 439.0,66.8 439.1,68.8 439.1,72.7 439.2,71.2 439.2,74.1 439.3,59.7 439.4,64.0 439.4,70.5 439.5,63.3 439.5,66.5 439.6,72.9 439.7,70.0 439.7,63.8 439.8,68.6 439.8,69.2 439.9,67.2 440.0,66.6 440.0,67.4 440.1,61.8 440.1,67.3 440.2,63.6 440.3,68.2 440.3,68.3 440.4,63.8 440.4,68.9 440.5,68.1 440.6,66.7 440.6,69.4 440.7,65.8 440.7,65.9 440.8,67.2 440.9,66.7 440.9,70.8 441.0,58.9 441.0,65.9 441.1,60.1 441.2,65.2 441.2,67.8 441.3,66.9 441.3,70.2 441.4,68.0 441.5,58.5 441.5,63.1 441.6,72.1 441.6,72.1 441.7,67.2 441.8,61.5 441.8,74.2 441.9,59.6 441.9,67.8 442.0,66.6 442.1,67.6 442.1,62.7 442.2,65.4 442.2,70.4 442.3,65.0 442.4,62.0 442.4,66.6 442.5,67.0 442.5,66.3 442.6,64.0 442.7,68.6 442.7,66.3 442.8,62.8 442.8,67.6 442.9,66.7 443.0,67.4 443.0,61.1 443.1,64.3 443.1,68.5 443.2,70.2 443.3,68.2 443.3,67.6 443.4,69.6 443.4,70.5 443.5,73.2 443.6,68.8 443.6,65.3 443.7,68.9 443.7,60.6 443.8,67.5 443.9,65.7 443.9,67.2 444.0,68.9 444.0,67.4 444.1,62.3 444.2,65.9 444.2,64.4 444.3,67.0 444.3,68.2 444.4,63.7 444.5,69.4 444.5,71.3 444.6,79.1 444.6,69.2 444.7,61.6 444.8,64.7 444.8,69.7 444.9,60.3 444.9,64.5 445.0,63.1 445.1,70.0 445.1,69.9 445.2,63.8 445.2,66.2 445.3,57.3 445.4,68.5 445.4,66.8 445.5,70.0 445.5,57.3 445.6,66.6 445.7,64.1 445.7,56.8 445.8,62.9 445.8,64.9 445.9,67.9 446.0,65.8 446.0,63.3 446.1,66.6 446.1,64.7 446.2,62.8 446.3,61.6 446.3,65.5 446.4,65.5 446.4,71.3 446.5,63.5 446.6,70.5 446.6,66.3 446.7,69.1 446.7,62.1 446.8,62.2 446.9,64.2 446.9,68.3 447.0,65.9 447.0,67.9 447.1,66.5 447.2,69.0 447.2,66.2 447.3,63.8 447.3,67.4 447.4,66.1 447.5,71.8 447.5,65.4 447.6,66.3 447.6,65.0 447.7,70.0 447.8,69.2 447.8,68.5 447.9,62.1 447.9,61.2 448.0,67.3 448.1,68.9 448.1,71.5 448.2,60.4 448.2,66.0 448.3,60.8 448.4,63.3 448.4,65.8 448.5,69.9 448.5,64.8 448.6,64.1 448.7,65.5 448.7,70.8 448.8,74.7 448.8,61.2 448.9,65.5 449.0,64.9 449.0,70.3 449.1,67.7 449.1,71.4 449.2,62.7 449.3,66.1 449.3,64.5 449.4,62.3 449.4,65.4 449.5,61.8 449.6,73.2 449.6,67.2 449.7,62.3 449.7,63.6 449.8,71.6 449.9,64.0 449.9,68.0 450.0,67.6 450.0,69.3 450.1,67.7 450.2,64.8 450.2,63.5 450.3,59.5 450.3,65.3 450.4,66.0 450.5,64.3 450.5,65.0 450.6,61.4 450.6,72.9 450.7,63.8 450.8,62.0 450.8,63.5 450.9,65.0 450.9,68.1 451.0,57.3 451.1,67.3 451.1,63.5 451.2,65.0 451.2,69.0 451.3,68.2 451.4,63.2 451.4,65.2 451.5,71.9 451.5,70.1 451.6,68.5 451.7,65.5 451.7,68.7 451.8,66.8 451.8,63.5 451.9,62.0 452.0,67.1 452.0,66.6 452.1,69.4 452.1,63.6 452.2,69.9 452.3,63.9 452.3,69.3 452.4,66.9 452.4,63.0 452.5,61.7 452.6,64.5 452.6,63.9 452.7,68.0 452.7,62.4 452.8,59.6 452.9,64.5 452.9,71.1 453.0,70.0 453.0,62.3 453.1,63.4 453.2,65.4 453.2,62.0 453.3,63.4 453.3,63.2 453.4,60.5 453.5,61.9 453.5,62.3 453.6,64.7 453.6,59.8 453.7,64.2 453.8,60.4 453.8,60.9 453.9,59.8 453.9,72.0 454.0,67.8 454.1,68.0 454.1,66.1 454.2,62.5 454.2,63.5 454.3,64.1 454.4,64.6 454.4,65.0 454.5,68.1 454.5,54.4 454.6,60.9 454.7,65.0 454.7,61.4 454.8,62.0 454.8,67.5 454.9,63.0 455.0,68.4 455.0,62.1 455.1,63.0 455.1,58.4 455.2,55.2 455.3,60.5 455.3,62.1 455.4,60.6 455.4,57.1 455.5,63.9 455.6,61.8 455.6,61.6 455.7,58.8 455.7,67.0 455.8,66.4 455.9,62.4 455.9,60.9 456.0,62.2 456.0,67.0 456.1,69.8 456.2,61.3 456.2,59.8 456.3,55.1 456.3,69.8 456.4,57.5 456.5,64.3 456.5,63.0 456.6,65.9 456.6,58.4 456.7,55.9 456.8,61.9 456.8,62.9 456.9,65.4 456.9,55.8 457.0,60.0 457.1,60.7 457.1,57.0 457.2,61.1 457.2,64.4 457.3,61.6 457.4,56.9 457.4,63.0 457.5,64.7 457.5,63.6 457.6,64.5 457.7,56.2 457.7,63.4 457.8,63.9 457.8,60.5 457.9,61.6 458.0,59.2 458.0,66.0 458.1,60.7 458.1,58.5 458.2,62.3 458.3,62.1 458.3,63.9 458.4,58.8 458.4,59.3 458.5,62.9 458.6,69.2 458.6,63.2 458.7,56.9 458.7,62.1 458.8,58.9 458.9,55.2 458.9,59.2 459.0,59.6 459.0,62.9 459.1,66.0 459.2,65.4 459.2,64.3 459.3,60.1 459.3,62.1 459.4,61.5 459.5,66.4 459.5,57.7 459.6,55.9 459.6,53.4 459.7,55.0 459.8,51.5 459.8,54.6 459.9,53.6 459.9,52.0 460.0,51.3 460.1,50.4 460.1,54.1 460.2,50.6 460.2,51.0 460.3,54.9 460.4,53.5 460.4,57.1 460.5,57.2 460.5,62.0 460.6,60.0 460.7,64.0 460.7,69.9 460.8,69.3 460.8,67.3 460.9,65.9 461.0,62.5 461.0,59.1 461.1,63.4 461.1,61.9 461.2,66.3 461.3,64.0 461.3,61.5 461.4,65.1 461.4,72.0 461.5,60.5 461.6,67.4 461.6,65.6 461.7,63.2 461.7,61.0 461.8,63.6 461.9,64.3 461.9,66.1 462.0,65.9 462.0,64.6 462.1,61.1 462.2,64.5 462.2,61.8 462.3,59.8 462.3,66.4 462.4,61.1 462.5,59.2 462.5,63.5 462.6,56.7 462.6,63.0 462.7,64.7 462.8,61.7 462.8,63.9 462.9,70.4 462.9,67.9 463.0,66.1 463.1,65.0 463.1,61.1 463.2,62.4 463.2,61.8 463.3,62.8 463.4,63.1 463.4,59.9 463.5,68.1 463.5,59.0 463.6,63.7 463.7,66.0 463.7,62.3 463.8,60.1 463.8,62.4 463.9,68.9 464.0,64.4 464.0,61.2 464.1,64.1 464.1,61.5 464.2,55.7 464.3,62.9 464.3,65.6 464.4,66.0 464.4,61.9 464.5,57.3 464.6,66.2 464.6,74.9 464.7,64.7 464.7,66.0 464.8,63.4 464.9,62.1 464.9,60.2 465.0,60.9 465.0,62.5 465.1,60.9 465.2,63.8 465.2,56.0 465.3,59.3 465.3,62.7 465.4,60.5 465.5,61.1 465.5,59.1 465.6,65.4 465.6,68.7 465.7,59.8 465.8,67.2 465.8,58.4 465.9,63.9 465.9,56.7 466.0,65.2 466.1,63.7 466.1,64.1 466.2,67.9 466.2,65.8 466.3,63.7 466.4,61.0 466.4,64.0 466.5,61.5 466.5,62.5 466.6,69.0 466.7,66.9 466.7,65.0 466.8,66.1 466.8,59.1 466.9,64.4 467.0,58.3 467.0,61.8 467.1,65.3 467.1,65.3 467.2,66.5 467.3,64.6 467.3,64.2 467.4,64.1 467.4,68.9 467.5,68.5 467.6,59.1 467.6,64.5 467.7,68.5 467.7,63.2 467.8,64.8 467.9,62.0 467.9,60.0 468.0,64.5 468.0,62.7 468.1,63.5 468.2,59.1 468.2,60.0 468.3,63.5 468.3,62.4 468.4,65.8 468.5,60.3 468.5,66.2 468.6,65.7 468.6,64.1 468.7,65.9 468.8,63.4 468.8,62.9 468.9,63.5 468.9,59.2 469.0,63.3 469.1,66.1 469.1,57.9 469.2,65.6 469.2,61.1 469.3,62.0 469.4,63.4 469.4,63.9 469.5,67.7 469.5,62.5 469.6,68.8 469.7,63.1 469.7,64.6 469.8,65.2 469.8,60.6 469.9,59.1 470.0,63.2 470.0,65.2 470.1,65.7 470.1,61.6 470.2,68.8 470.3,62.4 470.3,60.5 470.4,66.8 470.4,67.0 470.5,59.7 470.6,65.8 470.6,58.7 470.7,63.2 470.7,70.8 470.8,67.6 470.9,65.7 470.9,65.5 471.0,60.6 471.0,64.6 471.1,65.0 471.2,60.1 471.2,64.3 471.3,65.5 471.3,64.5 471.4,65.3 471.5,63.1 471.5,60.1 471.6,64.1 471.6,57.5 471.7,61.6 471.8,67.8 471.8,70.2 471.9,65.5 471.9,56.0 472.0,68.7 472.1,66.1 472.1,63.6 472.2,66.8 472.2,66.1 472.3,60.2 472.4,59.9 472.4,67.8 472.5,56.5 472.5,76.0 472.6,65.4 472.7,67.6 472.7,70.2 472.8,68.8 472.8,69.6 472.9,67.1 473.0,66.0 473.0,67.9 473.1,64.2 473.1,61.1 473.2,63.9 473.3,58.8 473.3,62.3 473.4,71.2 473.4,65.9 473.5,63.5 473.6,62.1 473.6,58.1 473.7,62.3 473.7,61.5 473.8,64.1 473.9,64.4 473.9,63.9 474.0,57.6 474.0,69.0 474.1,65.6 474.2,64.1 474.2,63.0 474.3,65.6 474.3,68.4 474.4,66.2 474.5,60.2 474.5,59.9 474.6,56.2 474.6,64.7 474.7,66.7 474.8,68.4 474.8,64.7 474.9,67.0 474.9,61.2 475.0,66.1 475.1,63.9 475.1,62.0 475.2,58.6 475.2,52.8 475.3,56.7 475.4,66.4 475.4,61.6 475.5,66.4 475.5,62.4 475.6,66.8 475.7,63.5 475.7,60.7 475.8,62.4 475.8,58.7 475.9,65.1 476.0,67.6 476.0,74.6 476.1,64.4 476.1,68.4 476.2,60.0 476.3,65.8 476.3,64.0 476.4,62.3 476.4,65.7 476.5,59.9 476.6,63.4 476.6,64.9 476.7,59.8 476.7,62.9 476.8,65.5 476.9,66.9 476.9,60.5 477.0,66.7 477.0,62.7 477.1,64.0 477.2,61.8 477.2,66.3 477.3,61.2 477.3,64.5 477.4,64.8 477.5,66.1 477.5,56.7 477.6,57.2 477.6,57.2 477.7,55.5 477.8,55.5 477.8,53.4 477.9,55.1 477.9,53.3 478.0,53.5 478.1,52.2 478.1,54.4 478.2,54.5 478.2,55.3 478.3,54.2 478.4,56.1 478.4,56.5 478.5,56.8 478.5,62.9 478.6,71.2 478.7,67.0 478.7,63.2 478.8,57.6 478.8,61.9 478.9,61.4 479.0,64.3 479.0,69.6 479.1,62.2 479.1,55.7 479.2,62.0 479.3,56.7 479.3,65.3 479.4,66.2 479.4,63.6 479.5,57.5 479.6,62.0 479.6,66.7 479.7,59.2 479.7,60.7 479.8,63.6 479.9,64.5 479.9,63.2 480.0,64.1 480.0,63.7 480.1,61.1 480.2,62.9 480.2,64.2 480.3,59.6 480.3,64.0 480.4,63.8 480.5,65.1 480.5,64.7 480.6,60.0 480.6,59.4 480.7,64.6 480.8,63.3 480.8,64.2 480.9,61.9 480.9,59.6 481.0,64.9 481.1,63.5 481.1,66.1 481.2,67.8 481.2,67.8 481.3,67.5 481.4,60.9 481.4,57.0 481.5,62.1 481.5,60.1 481.6,59.8 481.7,66.5 481.7,58.8 481.8,67.4 481.8,68.0 481.9,72.9 482.0,67.9 482.0,71.5 482.1,62.2 482.1,62.1 482.2,67.7 482.3,60.0 482.3,68.3 482.4,63.5 482.4,57.8 482.5,70.8 482.6,60.7 482.6,73.0 482.7,59.5 482.7,61.6 482.8,65.2 482.9,64.5 482.9,59.1 483.0,64.8 483.0,65.0 483.1,65.9 483.2,58.9 483.2,62.3 483.3,63.9 483.3,67.0 483.4,64.8 483.5,63.0 483.5,62.7 483.6,69.0 483.6,61.3 483.7,65.0 483.8,56.6 483.8,69.7 483.9,65.4 483.9,57.8 484.0,65.8 484.1,68.4 484.1,66.4 484.2,63.8 484.2,66.4 484.3,60.9 484.4,62.6 484.4,62.2 484.5,63.6 484.5,59.8 484.6,68.0 484.7,62.9 484.7,59.6 484.8,62.5 484.8,64.5 484.9,63.4 485.0,67.0 485.0,62.0 485.1,60.6 485.1,65.0 485.2,67.6 485.3,60.0 485.3,57.9 485.4,61.1 485.4,63.1 485.5,59.9 485.6,63.9 485.6,60.5 485.7,66.5 485.7,59.4 485.8,60.3 485.9,63.7 485.9,65.8 486.0,66.6 486.0,61.2 486.1,63.6 486.2,65.4 486.2,68.4 486.3,60.5 486.3,59.3 486.4,65.2 486.5,62.7 486.5,68.1 486.6,63.6 486.6,64.6 486.7,60.8 486.8,64.4 486.8,67.6 486.9,62.6 486.9,59.3 487.0,66.4 487.1,62.3 487.1,63.5 487.2,60.8 487.2,66.4 487.3,60.7 487.4,61.5 487.4,63.1 487.5,62.4 487.5,55.4 487.6,64.6 487.7,59.0 487.7,63.8 487.8,61.6 487.8,62.5 487.9,60.4 488.0,59.3 488.0,63.4 488.1,63.6 488.1,66.3 488.2,64.7 488.3,60.5 488.3,66.8 488.4,70.4 488.4,65.4 488.5,62.3 488.6,59.7 488.6,63.3 488.7,58.2 488.7,65.8 488.8,61.9 488.9,61.3 488.9,64.2 489.0,59.1 489.0,57.5 489.1,62.0 489.2,67.6 489.2,60.7 489.3,66.6 489.3,57.4 489.4,63.5 489.5,65.5 489.5,69.9 489.6,57.9 489.6,63.7 489.7,60.9 489.8,65.0 489.8,62.2 489.9,64.4 489.9,61.5 490.0,62.2 490.1,65.5 490.1,69.2 490.2,64.9 490.2,64.6 490.3,62.7 490.4,69.6 490.4,57.7 490.5,57.5 490.5,61.7 490.6,65.8 490.7,67.5 490.7,66.2 490.8,66.9 490.8,64.9 490.9,62.8 491.0,60.8 491.0,65.9 491.1,61.1 491.1,65.8 491.2,66.9 491.3,62.3 491.3,62.8 491.4,62.5 491.4,66.7 491.5,64.9 491.6,62.1 491.6,65.2 491.7,69.4 491.7,65.3 491.8,64.7 491.9,62.9 491.9,61.1 492.0,64.3 492.0,64.4 492.1,63.2 492.2,68.2 492.2,63.4 492.3,63.6 492.3,64.8 492.4,65.9 492.5,58.0 492.5,64.9 492.6,68.2 492.6,60.2 492.7,65.3 492.8,62.2 492.8,60.5 492.9,64.7 492.9,63.5 493.0,56.8 493.1,61.8 493.1,66.5 493.2,61.8 493.2,61.2 493.3,62.5 493.4,62.2 493.4,66.2 493.5,60.9 493.5,59.8 493.6,65.2 493.7,67.1 493.7,66.1 493.8,66.6 493.8,61.6 493.9,58.9 494.0,61.5 494.0,63.9 494.1,58.3 494.1,63.0 494.2,66.1 494.3,61.8 494.3,70.9 494.4,66.8 494.4,60.2 494.5,60.6 494.6,62.1 494.6,66.9 494.7,66.1 494.7,62.7 494.8,65.2 494.9,67.4 494.9,66.5 495.0,59.3 495.0,61.1 495.1,61.7 495.2,59.0 495.2,67.7 495.3,62.6 495.3,62.6 495.4,62.0 495.5,65.8 495.5,66.7 495.6,67.0 495.6,68.9 495.7,61.6 495.8,70.2 495.8,73.0 495.9,62.9 495.9,63.4 496.0,66.6 496.1,68.8 496.1,63.7 496.2,61.8 496.2,71.5 496.3,62.8 496.4,56.0 496.4,66.3 496.5,67.8 496.5,70.2 496.6,70.4 496.7,73.0 496.7,62.6 496.8,61.1 496.8,59.5 496.9,70.3 497.0,63.0 497.0,58.8 497.1,57.6 497.1,65.0 497.2,63.1 497.3,65.7 497.3,61.7 497.4,62.2 497.4,66.3 497.5,64.0 497.6,66.7 497.6,64.3 497.7,63.8 497.7,66.0 497.8,63.7 497.9,65.5 497.9,66.4 498.0,63.2 498.0,64.5 498.1,65.3 498.2,67.2 498.2,65.8 498.3,65.8 498.3,66.6 498.4,64.0 498.5,66.2 498.5,62.5 498.6,58.9 498.6,66.4 498.7,58.4 498.8,64.5 498.8,70.3 498.9,67.5 498.9,61.6 499.0,67.6 499.1,65.9 499.1,62.2 499.2,64.7 499.2,63.3 499.3,64.0 499.4,66.2 499.4,59.8 499.5,67.9 499.5,71.9 499.6,64.5 499.7,61.8 499.7,63.7 499.8,69.2 499.8,63.3 499.9,66.6 500.0,72.7 500.0,62.5 500.1,65.2 500.1,62.9 500.2,63.5 500.3,65.1 500.3,62.1 500.4,66.1 500.4,65.1 500.5,68.4 500.6,66.7 500.6,65.6 500.7,69.3 500.7,63.5 500.8,66.3 500.9,61.9 500.9,68.8 501.0,61.5 501.0,67.2 501.1,61.4 501.2,64.6 501.2,60.2 501.3,61.2 501.3,60.6 501.4,65.2 501.5,65.5 501.5,66.3 501.6,65.1 501.6,63.0 501.7,66.0 501.8,69.0 501.8,62.5 501.9,61.3 501.9,65.8 502.0,70.8 502.1,63.7 502.1,62.9 502.2,60.6 502.2,61.6 502.3,60.9 502.4,60.9 502.4,67.7 502.5,68.5 502.5,64.6 502.6,64.7 502.7,67.1 502.7,64.5 502.8,64.8 502.8,66.5 502.9,64.4 503.0,68.9 503.0,72.7 503.1,64.6 503.1,65.6 503.2,61.9 503.3,63.2 503.3,65.0 503.4,66.1 503.4,64.1 503.5,60.7 503.6,66.1 503.6,63.0 503.7,66.1 503.7,64.0 503.8,64.3 503.9,64.5 503.9,57.6 504.0,68.9 504.0,61.6 504.1,65.9 504.2,66.5 504.2,62.8 504.3,60.1 504.3,66.6 504.4,61.4 504.5,64.3 504.5,66.1 504.6,62.9 504.6,58.7 504.7,62.2 504.8,66.2 504.8,61.7 504.9,67.4 504.9,59.3 505.0,61.2 505.1,58.5 505.1,61.2 505.2,69.5 505.2,66.3 505.3,63.5 505.4,62.3 505.4,68.3 505.5,64.0 505.5,61.1 505.6,69.7 505.7,60.0 505.7,65.1 505.8,66.7 505.8,67.8 505.9,71.2 506.0,67.4 506.0,62.3 506.1,68.6 506.1,65.7 506.2,60.6 506.3,61.1 506.3,62.0 506.4,57.5 506.4,66.3 506.5,66.8 506.6,66.5 506.6,62.1 506.7,64.8 506.7,69.0 506.8,66.3 506.9,64.5 506.9,62.6 507.0,65.0 507.0,69.5 507.1,65.3 507.2,73.0 507.2,73.4 507.3,67.7 507.3,59.8 507.4,64.5 507.5,69.7 507.5,63.5 507.6,63.1 507.6,65.6 507.7,73.9 507.8,63.9 507.8,59.0 507.9,66.6 507.9,67.0 508.0,68.2 508.1,65.9 508.1,66.9 508.2,64.1 508.2,69.0 508.3,65.7 508.4,67.5 508.4,63.3 508.5,70.5 508.5,66.7 508.6,64.4 508.7,66.0 508.7,62.1 508.8,63.8 508.8,68.6 508.9,67.9 509.0,68.7 509.0,68.2 509.1,64.9 509.1,66.1 509.2,72.2 509.3,65.4 509.3,60.5 509.4,65.7 509.4,64.3 509.5,65.3 509.6,65.7 509.6,62.1 509.7,67.0 509.7,65.0 509.8,67.5 509.9,63.1 509.9,62.1 510.0,64.0 510.0,71.0 510.1,59.2 510.2,69.0 510.2,65.1 510.3,69.2 510.3,63.9 510.4,66.5 510.5,66.4 510.5,72.4 510.6,64.8 510.6,66.0 510.7,62.6 510.8,66.2 510.8,62.6 510.9,64.8 510.9,66.4 511.0,67.0 511.1,62.1 511.1,62.1 511.2,69.1 511.2,63.4 511.3,65.8 511.4,64.3 511.4,59.9 511.5,64.9 511.5,64.9 511.6,71.3 511.7,58.9 511.7,63.6 511.8,67.5 511.8,63.6 511.9,58.2 512.0,67.6 512.0,66.1 512.1,62.7 512.1,62.2 512.2,63.3 512.3,66.3 512.3,65.1 512.4,63.5 512.4,66.9 512.5,69.4 512.6,63.8 512.6,71.2 512.7,66.0 512.7,68.0 512.8,67.4 512.9,67.7 512.9,66.9 513.0,58.5 513.0,62.9 513.1,69.1 513.2,62.7 513.2,66.6 513.3,61.0 513.3,64.2 513.4,71.5 513.5,67.2 513.5,63.5 513.6,64.3 513.6,60.7 513.7,68.0 513.8,65.7 513.8,69.0 513.9,69.2 513.9,65.5 514.0,63.3 514.1,62.5 514.1,65.2 514.2,66.6 514.2,79.0 514.3,63.3 514.4,68.0 514.4,62.9 514.5,64.5 514.5,69.0 514.6,68.1 514.7,64.5 514.7,64.1 514.8,69.9 514.8,65.6 514.9,65.1 515.0,62.5 515.0,74.5 515.1,72.2 515.1,67.7 515.2,73.4 515.3,67.5 515.3,64.7 515.4,67.6 515.4,70.6 515.5,62.0 515.6,69.9 515.6,69.7 515.7,70.7 515.7,67.3 515.8,69.4 515.9,59.8 515.9,65.4 516.0,69.1 516.0,67.4 516.1,66.5 516.2,61.3 516.2,65.0 516.3,59.7 516.3,64.7 516.4,66.7 516.5,63.8 516.5,67.2 516.6,65.5 516.6,68.5 516.7,64.3 516.8,60.1 516.8,61.3 516.9,63.0 516.9,65.5 517.0,65.9 517.1,63.0 517.1,65.9 517.2,63.3 517.2,67.8 517.3,61.1 517.4,69.5 517.4,66.6 517.5,64.3 517.5,62.0 517.6,67.5 517.7,63.7 517.7,67.9 517.8,71.9 517.8,66.3 517.9,66.6 518.0,67.6 518.0,64.0 518.1,72.4 518.1,65.2 518.2,68.3 518.3,67.1 518.3,64.0 518.4,70.7 518.4,67.3 518.5,63.9 518.6,63.9 518.6,59.6 518.7,62.5 518.7,69.0 518.8,69.0 518.9,63.0 518.9,68.3 519.0,69.5 519.0,68.8 519.1,70.4 519.2,59.7 519.2,66.8 519.3,62.9 519.3,68.4 519.4,63.6 519.5,66.4 519.5,68.9 519.6,60.6 519.6,63.7 519.7,63.5 519.8,65.7 519.8,60.4 519.9,68.3 519.9,72.1 520.0,64.6 520.1,67.2 520.1,56.5 520.2,61.2 520.2,67.5 520.3,66.2 520.4,67.4 520.4,69.6 520.5,65.3 520.5,64.1 520.6,63.3 520.7,65.2 520.7,57.7 520.8,69.8 520.8,57.4 520.9,59.3 521.0,64.9 521.0,67.8 521.1,66.5 521.1,69.7 521.2,63.1 521.3,62.4 521.3,66.5 521.4,60.8 521.4,65.4 521.5,66.4 521.6,65.7 521.6,57.9 521.7,64.0 521.7,57.9 521.8,67.8 521.9,63.5 521.9,68.4 522.0,69.6 522.0,60.6 522.1,68.4 522.2,66.7 522.2,70.5 522.3,61.3 522.3,61.3 522.4,63.1 522.5,59.6 522.5,66.4 522.6,63.6 522.6,66.8 522.7,67.4 522.8,69.2 522.8,61.9 522.9,69.0 522.9,69.1 523.0,63.3 523.1,64.6 523.1,61.9 523.2,71.0 523.2,71.5 523.3,64.1 523.4,66.7 523.4,68.4 523.5,69.5 523.5,66.9 523.6,72.7 523.7,64.0 523.7,70.1 523.8,67.5 523.8,68.2 523.9,64.7 524.0,61.3 524.0,65.4 524.1,68.7 524.1,64.3 524.2,61.3 524.3,66.4 524.3,66.9 524.4,63.5 524.4,66.5 524.5,68.2 524.6,67.5 524.6,69.8 524.7,70.7 524.7,66.5 524.8,63.8 524.9,60.6 524.9,69.8 525.0,67.6 525.0,69.7 525.1,63.5 525.2,66.6 525.2,63.4 525.3,63.1 525.3,61.1 525.4,65.2 525.5,67.6 525.5,68.5 525.6,66.7 525.6,64.9 525.7,72.6 525.8,70.9 525.8,69.1 525.9,66.1 525.9,69.9 526.0,63.0 526.1,61.2 526.1,67.6 526.2,66.0 526.2,69.0 526.3,62.7 526.4,66.3 526.4,61.8 526.5,64.1 526.5,66.8 526.6,65.0 526.7,62.0 526.7,60.2 526.8,63.8 526.8,61.9 526.9,60.2 527.0,65.3 527.0,61.9 527.1,69.3 527.1,72.0 527.2,68.7 527.3,73.5 527.3,60.7 527.4,59.0 527.4,64.3 527.5,58.8 527.6,65.3 527.6,67.8 527.7,67.4 527.7,68.1 527.8,64.0 527.9,64.5 527.9,65.5 528.0,64.5 528.0,67.8 528.1,63.3 528.2,64.5 528.2,62.2 528.3,67.8 528.3,65.0 528.4,65.0 528.5,62.8 528.5,58.4 528.6,62.8 528.6,57.0 528.7,64.1 528.8,60.0 528.8,68.5 528.9,61.9 528.9,63.8 529.0,62.3 529.1,60.1 529.1,58.6 529.2,55.4 529.2,61.5 529.3,56.8 529.4,67.4 529.4,59.1 529.5,61.4 529.5,63.3 529.6,62.8 529.7,67.2 529.7,63.0 529.8,61.5 529.8,62.7 529.9,68.3 530.0,65.7 530.0,56.4 530.1,62.4 530.1,60.0 530.2,63.1 530.3,65.2 530.3,63.1 530.4,65.2 530.4,68.8 530.5,57.3 530.6,63.1 530.6,63.4 530.7,64.8 530.7,63.7 530.8,66.5 530.9,63.4 530.9,65.0 531.0,58.3 531.0,64.3 531.1,59.6 531.2,65.7 531.2,69.8 531.3,63.7 531.3,65.4 531.4,66.5 531.5,68.8 531.5,66.8 531.6,68.4 531.6,62.5 531.7,64.1 531.8,59.5 531.8,72.0 531.9,60.6 531.9,76.9 532.0,65.2 532.1,65.1 532.1,60.8 532.2,64.7 532.2,65.2 532.3,66.3 532.4,63.8 532.4,65.8 532.5,61.8 532.5,69.1 532.6,62.9 532.7,73.5 532.7,64.0 532.8,62.9 532.8,65.8 532.9,64.7 533.0,68.9 533.0,69.3 533.1,63.1 533.1,63.0 533.2,62.7 533.3,66.8 533.3,68.6 533.4,67.5 533.4,64.8 533.5,65.4 533.6,67.5 533.6,69.4 533.7,65.1 533.7,69.2 533.8,64.0 533.9,65.8 533.9,69.0 534.0,62.2 534.0,59.3 534.1,61.3 534.2,64.6 534.2,61.5 534.3,64.6 534.3,69.6 534.4,63.7 534.5,69.4 534.5,67.8 534.6,61.3 534.6,68.1 534.7,67.7 534.8,68.1 534.8,65.5 534.9,65.7 534.9,62.9 535.0,61.8 535.1,64.6 535.1,67.1 535.2,62.7 535.2,70.2 535.3,63.3 535.4,65.9 535.4,60.2 535.5,70.0 535.5,67.3 535.6,69.2 535.7,60.8 535.7,69.8 535.8,66.5 535.8,62.9 535.9,63.6 536.0,59.9 536.0,52.0 536.1,68.1 536.1,62.2 536.2,66.4 536.3,61.0 536.3,56.2 536.4,64.5 536.4,70.1 536.5,69.2 536.6,62.9 536.6,69.4 536.7,68.7 536.7,66.4 536.8,64.0 536.9,68.5 536.9,64.8 537.0,63.8 537.0,68.7 537.1,62.8 537.2,67.4 537.2,70.2 537.3,62.8 537.3,65.7 537.4,66.9 537.5,59.1 537.5,63.4 537.6,63.2 537.6,63.2 537.7,62.1 537.8,69.4 537.8,61.9 537.9,64.6 537.9,67.0 538.0,70.3 538.1,59.5 538.1,60.5 538.2,61.4 538.2,63.9 538.3,68.1 538.4,64.5 538.4,65.5 538.5,55.4 538.5,63.9 538.6,65.6 538.7,71.7 538.7,67.7 538.8,63.0 538.8,62.9 538.9,68.9 539.0,61.3 539.0,62.2 539.1,67.9 539.1,69.7 539.2,70.9 539.3,61.9 539.3,67.0 539.4,56.7 539.4,62.4 539.5,73.7 539.6,70.6 539.6,67.8 539.7,62.2 539.7,61.1 539.8,69.1 539.9,64.8 539.9,62.6 540.0,67.8 540.0,67.7 540.1,62.9 540.2,63.8 540.2,72.8 540.3,61.9 540.3,68.6 540.4,62.7 540.5,62.1 540.5,61.5 540.6,64.5 540.6,64.8 540.7,67.4 540.8,62.3 540.8,66.1 540.9,62.8 540.9,62.2 541.0,66.7 541.1,66.1 541.1,59.3 541.2,65.0 541.2,58.2 541.3,60.7 541.4,69.8 541.4,68.7 541.5,63.6 541.5,66.3 541.6,68.5 541.7,70.0 541.7,54.0 541.8,61.6 541.8,64.0 541.9,64.5 542.0,55.9 542.0,61.6 542.1,65.6 542.1,63.5 542.2,75.4 542.3,60.3 542.3,62.4 542.4,64.3 542.4,63.4 542.5,68.4 542.6,67.3 542.6,60.3 542.7,67.9 542.7,64.9 542.8,67.4 542.9,62.6 542.9,68.0 543.0,62.6 543.0,68.5 543.1,65.0 543.2,64.3 543.2,60.7 543.3,59.7 543.3,68.2 543.4,61.5 543.5,61.3 543.5,66.7 543.6,65.4 543.6,67.3 543.7,60.9 543.8,58.1 543.8,62.3 543.9,68.7 543.9,65.2 544.0,66.8 544.1,67.0 544.1,65.8 544.2,65.8 544.2,64.5 544.3,65.9 544.4,66.2 544.4,62.8 544.5,67.0 544.5,64.9 544.6,64.6 544.7,64.3 544.7,67.8 544.8,64.3 544.8,68.8 544.9,61.3 545.0,66.6 545.0,59.4 545.1,64.7 545.1,62.8 545.2,62.9 545.3,60.9 545.3,64.3 545.4,66.2 545.4,58.1 545.5,63.8 545.6,64.9 545.6,66.3 545.7,65.4 545.7,60.5 545.8,67.5 545.9,61.2 545.9,65.7 546.0,64.7 546.0,62.1 546.1,60.9 546.2,63.2 546.2,68.8 546.3,66.1 546.3,61.9 546.4,66.3 546.5,69.5 546.5,71.1 546.6,58.0 546.6,66.3 546.7,66.6 546.8,61.0 546.8,57.4 546.9,68.0 546.9,62.1 547.0,58.2 547.1,60.1 547.1,66.1 547.2,71.1 547.2,66.8 547.3,60.7 547.4,67.9 547.4,57.3 547.5,67.0 547.5,66.8 547.6,69.8 547.7,67.0 547.7,67.6 547.8,64.2 547.8,62.7 547.9,64.0 548.0,70.5 548.0,62.1 548.1,63.9 548.1,62.5 548.2,66.5 548.3,65.9 548.3,71.2 548.4,71.8 548.4,68.3 548.5,67.6 548.6,64.2 548.6,59.7 548.7,65.3 548.7,65.0 548.8,61.1 548.9,65.7 548.9,68.4 549.0,62.1 549.0,68.2 549.1,66.6 549.2,63.4 549.2,65.7 549.3,67.9 549.3,64.8 549.4,65.2 549.5,70.0 549.5,67.4 549.6,67.3 549.6,63.8 549.7,67.9 549.8,70.7 549.8,53.1 549.9,59.9 549.9,62.8 550.0,65.1 550.1,62.1 550.1,59.8 550.2,71.2 550.2,64.1 550.3,62.7 550.4,56.9 550.4,68.6 550.5,60.2 550.5,70.0 550.6,67.4 550.7,66.2 550.7,64.7 550.8,68.7 550.8,63.5 550.9,66.7 551.0,63.7 551.0,64.3 551.1,70.8 551.1,69.2 551.2,62.2 551.3,62.4 551.3,65.5 551.4,64.9 551.4,67.1 551.5,64.1 551.6,61.8 551.6,68.2 551.7,64.6 551.7,67.7 551.8,62.3 551.9,70.5 551.9,66.3 552.0,66.3 552.0,66.7 552.1,60.0 552.2,67.8 552.2,63.6 552.3,61.6 552.3,66.8 552.4,71.4 552.5,63.1 552.5,70.8 552.6,57.9 552.6,66.6 552.7,63.5 552.8,66.5 552.8,73.0 552.9,68.0 552.9,60.6 553.0,70.8 553.1,62.2 553.1,63.9 553.2,62.8 553.2,66.4 553.3,65.6 553.4,71.6 553.4,67.2 553.5,68.5 553.5,65.6 553.6,70.1 553.7,62.6 553.7,61.3 553.8,69.4 553.8,69.0 553.9,66.6 554.0,74.2 554.0,63.4 554.1,71.4 554.1,71.8 554.2,62.3 554.3,68.5 554.3,69.4 554.4,66.2 554.4,66.3 554.5,66.5 554.6,63.8 554.6,62.0 554.7,69.5 554.7,67.6 554.8,66.9 554.9,68.6 554.9,64.0 555.0,64.5 555.0,69.5 555.1,66.7 555.2,68.4 555.2,70.4 555.3,72.7 555.3,63.5 555.4,64.6 555.5,61.6 555.5,64.1 555.6,68.2 555.6,64.5 555.7,73.8 555.8,64.8 555.8,60.1 555.9,63.1 555.9,73.2 556.0,62.9 556.1,65.7 556.1,63.1 556.2,62.0 556.2,69.7 556.3,61.6 556.4,59.4 556.4,63.0 556.5,63.2 556.5,66.9 556.6,65.7 556.7,69.5 556.7,64.5 556.8,66.7 556.8,66.8 556.9,68.6 557.0,60.8 557.0,63.8 557.1,56.3 557.1,62.1 557.2,60.6 557.3,61.8 557.3,70.1 557.4,68.3 557.4,59.5 557.5,70.9 557.6,69.1 557.6,65.3 557.7,64.3 557.7,64.2 557.8,64.5 557.9,66.9 557.9,63.7 558.0,68.1 558.0,63.6 558.1,62.4 558.2,64.3 558.2,65.9 558.3,66.3 558.3,64.8 558.4,59.7 558.5,60.3 558.5,59.1 558.6,64.1 558.6,67.4 558.7,65.2 558.8,65.0 558.8,63.6 558.9,64.2 558.9,63.1 559.0,69.1 559.1,61.3 559.1,62.6 559.2,67.3 559.2,64.5 559.3,68.1 559.4,64.3 559.4,67.4 559.5,66.8 559.5,61.7 559.6,68.1 559.7,70.5 559.7,64.0 559.8,65.9 559.8,68.6 559.9,71.7 560.0,67.8 560.0,74.5 560.1,65.3 560.1,73.3 560.2,64.2 560.3,66.7 560.3,63.7 560.4,70.3 560.4,69.1 560.5,61.0 560.6,58.4 560.6,74.3 560.7,66.0 560.7,61.3 560.8,63.9 560.9,65.4 560.9,72.3 561.0,68.4 561.0,67.0 561.1,63.6 561.2,69.1 561.2,60.8 561.3,70.5 561.3,70.0 561.4,65.0 561.5,61.4 561.5,64.3 561.6,66.0 561.6,73.2 561.7,72.0 561.8,64.0 561.8,63.5 561.9,61.4 561.9,67.2 562.0,64.0 562.1,68.2 562.1,66.0 562.2,63.8 562.2,62.2 562.3,60.1 562.4,67.5 562.4,60.9 562.5,67.8 562.5,59.7 562.6,56.8 562.7,65.3 562.7,63.2 562.8,68.3 562.8,65.2 562.9,64.9 563.0,68.1 563.0,62.9 563.1,67.3 563.1,73.4 563.2,65.8 563.3,61.9 563.3,64.9 563.4,62.3 563.4,63.9 563.5,70.7 563.6,61.6 563.6,60.8 563.7,66.7 563.7,63.6 563.8,64.4 563.9,62.8 563.9,65.8 564.0,69.9 564.0,67.1 564.1,63.5 564.2,63.7 564.2,61.8 564.3,61.8 564.3,68.0 564.4,66.6 564.5,66.3 564.5,66.4 564.6,62.6 564.6,64.6 564.7,66.4 564.8,70.1 564.8,65.5 564.9,64.9 564.9,61.9 565.0,53.1 565.1,63.7 565.1,65.4 565.2,65.9 565.2,61.9 565.3,65.5 565.4,68.3 565.4,61.5 565.5,62.8 565.5,61.8 565.6,64.9 565.7,71.6 565.7,65.7 565.8,68.8 565.8,65.5 565.9,63.2 566.0,64.8 566.0,65.5 566.1,64.1 566.1,64.6 566.2,65.2 566.3,62.8 566.3,70.2 566.4,66.6 566.4,64.7 566.5,63.3 566.6,66.5 566.6,62.7 566.7,61.2 566.7,64.2 566.8,69.8 566.9,65.0 566.9,66.3 567.0,62.6 567.0,67.6 567.1,64.1 567.2,64.1 567.2,63.5 567.3,65.8 567.3,62.7 567.4,65.0 567.5,65.8 567.5,63.3 567.6,60.0 567.6,68.2 567.7,62.6 567.8,60.2 567.8,66.9 567.9,66.8 567.9,70.8 568.0,71.4 568.1,59.7 568.1,65.3 568.2,68.2 568.2,62.8 568.3,71.2 568.4,68.5 568.4,65.2 568.5,65.7 568.5,68.6 568.6,74.6 568.7,74.0 568.7,62.7 568.8,69.6 568.8,62.6 568.9,67.2 569.0,64.3 569.0,66.7 569.1,66.2 569.1,68.9 569.2,65.1 569.3,70.0 569.3,67.3 569.4,64.6 569.4,72.6 569.5,68.8 569.6,67.0 569.6,68.0 569.7,70.0 569.7,67.2 569.8,65.7 569.9,67.2 569.9,65.9 570.0,65.9 570.0,73.2 570.1,70.4 570.2,72.2 570.2,66.1 570.3,61.9 570.3,66.5 570.4,69.6 570.5,66.2 570.5,68.5 570.6,64.7 570.6,69.6 570.7,66.5 570.8,68.0 570.8,70.2 570.9,65.5 570.9,64.4 571.0,65.2 571.1,69.9 571.1,66.9 571.2,71.6 571.2,69.8 571.3,71.7 571.4,68.6 571.4,72.0 571.5,70.4 571.5,61.5 571.6,72.7 571.7,70.8 571.7,66.5 571.8,63.8 571.8,61.6 571.9,68.3 572.0,64.9 572.0,63.8 572.1,64.3 572.1,62.1 572.2,70.7 572.3,64.6 572.3,67.4 572.4,67.9 572.4,68.6 572.5,66.7 572.6,70.0 572.6,65.1 572.7,74.3 572.7,61.7 572.8,69.3 572.9,74.3 572.9,63.6 573.0,71.6 573.0,73.7 573.1,65.2 573.2,71.9 573.2,64.8 573.3,67.7 573.3,65.9 573.4,63.4 573.5,63.0 573.5,64.8 573.6,61.6 573.6,67.3 573.7,67.2 573.8,70.5 573.8,68.2 573.9,66.3 573.9,65.8 574.0,75.3 574.1,61.7 574.1,62.5 574.2,74.7 574.2,70.8 574.3,67.8 574.4,69.1 574.4,70.7 574.5,62.4 574.5,66.3 574.6,69.9 574.7,69.7 574.7,71.3 574.8,68.4 574.8,66.4 574.9,65.6 575.0,69.8 575.0,67.7 575.1,69.4 575.1,72.5 575.2,71.9 575.3,63.5 575.3,71.7 575.4,64.5 575.4,62.2 575.5,74.9 575.6,68.7 575.6,65.7 575.7,66.3 575.7,70.8 575.8,74.5 575.9,72.1 575.9,66.9 576.0,63.7 576.0,67.2 576.1,71.0 576.2,69.2 576.2,63.0 576.3,67.8 576.3,69.5 576.4,64.2 576.5,70.3 576.5,72.2 576.6,70.3 576.6,64.2 576.7,66.1 576.8,66.8 576.8,65.8 576.9,69.9 576.9,67.2 577.0,66.9 577.1,67.9 577.1,65.3 577.2,62.2 577.2,67.1 577.3,65.5 577.4,68.9 577.4,67.4 577.5,65.7 577.5,70.2 577.6,66.5 577.7,62.2 577.7,71.8 577.8,70.5 577.8,66.5 577.9,61.3 578.0,63.2 578.0,69.9 578.1,66.4 578.1,65.5 578.2,68.3 578.3,64.8 578.3,65.1 578.4,70.9 578.4,68.7 578.5,54.6 578.6,69.0 578.6,70.6 578.7,69.9 578.7,64.5 578.8,66.6 578.9,72.8 578.9,67.9 579.0,73.2 579.0,66.4 579.1,62.8 579.2,67.8 579.2,65.8 579.3,65.2 579.3,65.0 579.4,60.7 579.5,69.4 579.5,67.0 579.6,64.4 579.6,62.1 579.7,69.7 579.8,67.6 579.8,69.8 579.9,68.7 579.9,70.0 580.0,67.3 580.1,62.5 580.1,67.9 580.2,70.4 580.2,62.6 580.3,65.8 580.4,72.1 580.4,63.0 580.5,71.7 580.5,63.9 580.6,61.5 580.7,65.2 580.7,64.8 580.8,70.0 580.8,59.6 580.9,63.4 581.0,63.4 581.0,62.8 581.1,66.7 581.1,64.4 581.2,66.1 581.3,65.2 581.3,69.7 581.4,63.7 581.4,66.0 581.5,68.7 581.6,67.5 581.6,65.8 581.7,68.5 581.7,67.1 581.8,67.1 581.9,65.8 581.9,68.9 582.0,69.2 582.0,63.5 582.1,67.4 582.2,66.9 582.2,67.8 582.3,62.9 582.3,61.2 582.4,64.6 582.5,69.0 582.5,61.6 582.6,60.3 582.6,59.6 582.7,60.5 582.8,59.0 582.8,58.1 582.9,56.1 582.9,57.1 583.0,59.3 583.1,58.6 583.1,57.7 583.2,57.9 583.2,56.6 583.3,59.9 583.4,58.8 583.4,60.8 583.5,62.3 583.5,63.8 583.6,62.4 583.7,67.2 583.7,64.0 583.8,70.8 583.8,57.9 583.9,59.3 584.0,61.2 584.0,65.8 584.1,65.1 584.1,63.0 584.2,56.8 584.3,66.5 584.3,60.2 584.4,71.0 584.4,66.6 584.5,63.6 584.6,65.4 584.6,72.1 584.7,65.2 584.7,62.4 584.8,57.5 584.9,66.0 584.9,63.9 585.0,70.8 585.0,67.3 585.1,70.7 585.2,65.3 585.2,63.8 585.3,70.3 585.3,66.4 585.4,64.4 585.5,66.7 585.5,70.7 585.6,64.8 585.6,74.2 585.7,69.0 585.8,62.9 585.8,63.3 585.9,67.1 585.9,57.4 586.0,66.0 586.1,66.9 586.1,68.4 586.2,66.6 586.2,65.6 586.3,60.7 586.4,73.6 586.4,68.2 586.5,69.8 586.5,68.5 586.6,72.6 586.7,68.1 586.7,72.6 586.8,66.1 586.8,67.3 586.9,70.2 587.0,70.5 587.0,72.8 587.1,66.4 587.1,70.3 587.2,66.7 587.3,63.5 587.3,72.4 587.4,68.6 587.4,65.3 587.5,66.3 587.6,71.1 587.6,69.2 587.7,68.9 587.7,71.8 587.8,69.3 587.9,62.8 587.9,72.7 588.0,67.8 588.0,68.3 588.1,60.8 588.2,60.5 588.2,70.1 588.3,68.2 588.3,70.0 588.4,71.1 588.5,73.5 588.5,75.2 588.6,74.8 588.6,66.6 588.7,67.4 588.8,70.9 588.8,75.8 588.9,74.7 588.9,68.6 589.0,66.1 589.1,71.7 589.1,70.0 589.2,73.2 589.2,73.7 589.3,72.0 589.4,67.4 589.4,66.2 589.5,69.7 589.5,72.6 589.6,70.6 589.7,73.5 589.7,69.3 589.8,74.9 589.8,72.1 589.9,69.6 590.0,68.0 590.0,70.2 590.1,71.1 590.1,76.7 590.2,71.0 590.3,73.2 590.3,62.8 590.4,74.3 590.4,70.3 590.5,58.4 590.6,61.8 590.6,67.2 590.7,76.6 590.7,73.5 590.8,73.3 590.9,68.4 590.9,72.6 591.0,72.5 591.0,71.4 591.1,66.5 591.2,67.7 591.2,68.8 591.3,79.6 591.3,62.3 591.4,76.2 591.5,75.2 591.5,70.7 591.6,73.0 591.6,71.2 591.7,71.9 591.8,54.9 591.8,62.1 591.9,79.5 591.9,76.5 592.0,64.2 592.1,74.1 592.1,68.1 592.2,71.5 592.2,65.7 592.3,65.5 592.4,77.1 592.4,67.9 592.5,69.4 592.5,72.5 592.6,75.6 592.7,67.9 592.7,72.3 592.8,72.9 592.8,67.5 592.9,67.6 593.0,72.3 593.0,69.4 593.1,76.2 593.1,62.8 593.2,72.0 593.3,69.4 593.3,64.5 593.4,69.6 593.4,64.4 593.5,68.7 593.6,74.4 593.6,67.2 593.7,72.5 593.7,71.3 593.8,68.1 593.9,69.0 593.9,71.0 594.0,71.4 594.0,68.1 594.1,69.5 594.2,73.3 594.2,66.2 594.3,65.5 594.3,71.5 594.4,72.1 594.5,61.0 594.5,70.7 594.6,56.2 594.6,73.7 594.7,68.9 594.8,71.9 594.8,63.8 594.9,73.0 594.9,71.7 595.0,74.0 595.1,69.9 595.1,73.2 595.2,68.8 595.2,75.0 595.3,72.5 595.4,63.4 595.4,63.9 595.5,72.8 595.5,74.7 595.6,75.9 595.7,68.6 595.7,71.6 595.8,69.4 595.8,68.0 595.9,69.7 596.0,75.8 596.0,68.9 596.1,78.0 596.1,65.4 596.2,69.4 596.3,72.9 596.3,72.8 596.4,71.3 596.4,63.9 596.5,69.6 596.6,76.6 596.6,73.5 596.7,72.9 596.7,72.5 596.8,70.4 596.9,70.6 596.9,68.4 597.0,76.5 597.0,72.7 597.1,72.5 597.2,71.6 597.2,69.9 597.3,65.0 597.3,70.9 597.4,68.2 597.5,68.8 597.5,71.9 597.6,76.6 597.6,66.9 597.7,71.3 597.8,78.0 597.8,66.2 597.9,73.6 597.9,69.6 598.0,74.6 598.1,78.1 598.1,71.2 598.2,75.7 598.2,72.9 598.3,79.7 598.4,60.9 598.4,67.9 598.5,71.3 598.5,72.2 598.6,78.8 598.7,76.6 598.7,70.2 598.8,65.7 598.8,76.7 598.9,73.0 599.0,70.7 599.0,75.5 599.1,79.4 599.1,73.3 599.2,77.9 599.3,64.2 599.3,75.5 599.4,81.8 599.4,77.0 599.5,69.3 599.6,67.0 599.6,73.4 599.7,68.2 599.7,69.6 599.8,64.3 599.9,67.5 599.9,74.1 600.0,68.4 600.0,68.0 600.1,65.8 600.2,70.8 600.2,72.9 600.3,71.8 600.3,60.4 600.4,71.2 600.5,67.1 600.5,70.7 600.6,66.4 600.6,75.9 600.7,79.2 600.8,74.9 600.8,78.4 600.9,71.9 600.9,69.7 601.0,62.1 601.1,68.1 601.1,68.9 601.2,77.5 601.2,66.7 601.3,71.1 601.4,73.5 601.4,71.0 601.5,70.7 601.5,75.3 601.6,67.0 601.7,70.9 601.7,71.7 601.8,77.6 601.8,76.7 601.9,73.2 602.0,74.5 602.0,61.8 602.1,72.1 602.1,68.5 602.2,64.2 602.3,73.6 602.3,69.0 602.4,67.8 602.4,63.3 602.5,71.4 602.6,76.0 602.6,71.4 602.7,73.8 602.7,74.9 602.8,70.6 602.9,69.0 602.9,68.0 603.0,69.3 603.0,68.2 603.1,70.8 603.2,68.4 603.2,75.2 603.3,66.7 603.3,77.4 603.4,68.5 603.5,68.5 603.5,73.3 603.6,67.3 603.6,62.3 603.7,74.0 603.8,76.6 603.8,62.1 603.9,72.6 603.9,68.0 604.0,69.4 604.1,77.1 604.1,64.5 604.2,68.1 604.2,75.8 604.3,71.4 604.4,72.3 604.4,67.5 604.5,66.9 604.5,67.0 604.6,71.3 604.7,68.5 604.7,72.2 604.8,81.2 604.8,62.7 604.9,71.4 605.0,69.9 605.0,65.7 605.1,71.1 605.1,66.4 605.2,64.5 605.3,70.3 605.3,77.1 605.4,69.4 605.4,72.1 605.5,67.5 605.6,67.1 605.6,64.0 605.7,70.3 605.7,72.4 605.8,62.9 605.9,62.1 605.9,72.5 606.0,67.4 606.0,63.5 606.1,73.1 606.2,69.3 606.2,68.5 606.3,70.2 606.3,67.5 606.4,81.5 606.5,61.1 606.5,68.2 606.6,72.9 606.6,72.1 606.7,65.3 606.8,69.1 606.8,70.1 606.9,84.7 606.9,77.6 607.0,77.8 607.1,71.6 607.1,76.7 607.2,73.4 607.2,70.0 607.3,69.7 607.4,74.1 607.4,72.5 607.5,68.8 607.5,67.1 607.6,67.1 607.7,77.3 607.7,70.2 607.8,71.8 607.8,77.6 607.9,78.0 608.0,75.1 608.0,73.3 608.1,69.4 608.1,71.6 608.2,72.5 608.3,74.4 608.3,68.8 608.4,74.9 608.4,75.9 608.5,73.0 608.6,65.5 608.6,63.5 608.7,74.4 608.7,64.0 608.8,72.3 608.9,82.2 608.9,70.9 609.0,65.6 609.0,75.2 609.1,69.5 609.2,71.1 609.2,64.1 609.3,68.7 609.3,77.3 609.4,70.3 609.5,68.4 609.5,71.3 609.6,72.3 609.6,75.6 609.7,74.4 609.8,75.6 609.8,66.0 609.9,70.0 609.9,63.2 610.0,78.0 610.1,68.9 610.1,69.9 610.2,79.3 610.2,75.3 610.3,70.2 610.4,70.4 610.4,69.7 610.5,75.2 610.5,82.4 610.6,65.6 610.7,77.8 610.7,76.9 610.8,69.6 610.8,55.5 610.9,72.8 611.0,68.6 611.0,69.0 611.1,77.9 611.1,73.7 611.2,70.1 611.3,68.0 611.3,71.4 611.4,72.1 611.4,75.5 611.5,78.7 611.6,72.2 611.6,68.3 611.7,73.8 611.7,72.9 611.8,69.9 611.9,75.5 611.9,72.0 612.0,74.0 612.0,72.6 612.1,74.6 612.2,75.3 612.2,68.6 612.3,76.8 612.3,73.0 612.4,65.8 612.5,71.7 612.5,78.5 612.6,79.4 612.6,70.6 612.7,74.6 612.8,68.0 612.8,75.5 612.9,64.0 612.9,66.3 613.0,75.5 613.1,75.9 613.1,71.0 613.2,76.0 613.2,80.6 613.3,73.3 613.4,76.5 613.4,70.5 613.5,68.4 613.5,81.7 613.6,74.7 613.7,71.4 613.7,66.6 613.8,76.7 613.8,77.9 613.9,80.1 614.0,73.2 614.0,78.1 614.1,74.3 614.1,70.2 614.2,73.9 614.3,71.6 614.3,70.2 614.4,71.3 614.4,77.8 614.5,74.3 614.6,70.8 614.6,73.4 614.7,73.4 614.7,73.5 614.8,74.8 614.9,70.8 614.9,80.1 615.0,69.1 615.0,71.4 615.1,68.0 615.2,72.2 615.2,71.6 615.3,74.8 615.3,67.5 615.4,74.8 615.5,66.6 615.5,79.2 615.6,71.4 615.6,79.0 615.7,80.4 615.8,68.8 615.8,82.5 615.9,73.9 615.9,64.0 616.0,74.6 616.1,74.5 616.1,81.1 616.2,65.2 616.2,62.4 616.3,72.9 616.4,71.1 616.4,69.0 616.5,73.1 616.5,80.9 616.6,72.9 616.7,77.1 616.7,69.9 616.8,67.2 616.8,70.9 616.9,81.0 617.0,78.8 617.0,76.4 617.1,71.4 617.1,74.4 617.2,75.5 617.3,66.1 617.3,71.5 617.4,81.2 617.4,66.7 617.5,73.7 617.6,70.5 617.6,71.1 617.7,76.8 617.7,69.0 617.8,75.9 617.9,72.3 617.9,77.3 618.0,68.7 618.0,77.6 618.1,72.3 618.2,70.0 618.2,69.1 618.3,63.4 618.3,76.5 618.4,68.8 618.5,77.5 618.5,82.5 618.6,65.0 618.6,73.4 618.7,69.0 618.8,72.6 618.8,74.1 618.9,66.6 618.9,76.7 619.0,71.4 619.1,79.5 619.1,72.4 619.2,73.2 619.2,72.5 619.3,83.3 619.4,70.3 619.4,62.0 619.5,76.8 619.5,73.0 619.6,76.5 619.7,78.0 619.7,79.5 619.8,74.0 619.8,75.0 619.9,77.9 620.0,79.2 620.0,67.0 620.1,81.6 620.1,68.3 620.2,74.2 620.3,78.4 620.3,71.1 620.4,71.1 620.4,80.1 620.5,80.0 620.6,67.2 620.6,73.3 620.7,75.3 620.7,80.0 620.8,75.5 620.9,77.8 620.9,75.7 621.0,77.2 621.0,84.5 621.1,76.7 621.2,76.0 621.2,67.2 621.3,69.2 621.3,67.7 621.4,73.6 621.5,72.4 621.5,70.5 621.6,76.8 621.6,67.0 621.7,74.7 621.8,73.1 621.8,70.2 621.9,69.9 621.9,71.7 622.0,77.4 622.1,78.0 622.1,67.3 622.2,74.3 622.2,71.0 622.3,78.3 622.4,79.5 622.4,78.0 622.5,76.6 622.5,77.2 622.6,66.5 622.7,76.3 622.7,75.7 622.8,73.6 622.8,71.2 622.9,69.1 623.0,70.8 623.0,71.8 623.1,63.6 623.1,74.0 623.2,75.4 623.3,81.6 623.3,81.7 623.4,76.8 623.4,75.0 623.5,74.8 623.6,78.6 623.6,79.3 623.7,67.9 623.7,78.2 623.8,72.7 623.9,74.7 623.9,73.2 624.0,76.4 624.0,70.3 624.1,75.0 624.2,68.2 624.2,79.2 624.3,78.5 624.3,73.1 624.4,74.3 624.5,72.1 624.5,77.9 624.6,77.2 624.6,72.9 624.7,74.0 624.8,75.9 624.8,71.5 624.9,76.1 624.9,77.1 625.0,85.5 625.1,76.4 625.1,71.9 625.2,80.3 625.2,76.3 625.3,73.0 625.4,78.5 625.4,72.4 625.5,81.1 625.5,78.2 625.6,73.4 625.7,74.7 625.7,83.9 625.8,73.6 625.8,73.1 625.9,77.9 626.0,75.7 626.0,74.1 626.1,77.8 626.1,66.2 626.2,75.3 626.3,81.1 626.3,80.8 626.4,71.6 626.4,75.0 626.5,78.5 626.6,73.8 626.6,77.3 626.7,77.1 626.7,67.3 626.8,78.3 626.9,75.2 626.9,74.4 627.0,73.7 627.0,65.5 627.1,74.5 627.2,79.2 627.2,80.7 627.3,75.6 627.3,74.1 627.4,73.1 627.5,80.4 627.5,83.9 627.6,74.9 627.6,63.5 627.7,75.7 627.8,81.3 627.8,68.6 627.9,70.9 627.9,67.6 628.0,75.2 628.1,84.4 628.1,78.7 628.2,67.0 628.2,68.2 628.3,76.3 628.4,72.6 628.4,66.3 628.5,75.2 628.5,69.9 628.6,75.6 628.7,76.1 628.7,74.9 628.8,68.9 628.8,69.8 628.9,72.6 629.0,70.7 629.0,77.9 629.1,78.4 629.1,74.1 629.2,77.2 629.3,79.9 629.3,69.1 629.4,71.5 629.4,81.6 629.5,72.4 629.6,70.8 629.6,73.4 629.7,75.2 629.7,66.6 629.8,73.2 629.9,77.3 629.9,71.2 630.0,70.8 630.0,77.1 630.1,69.3 630.2,67.3 630.2,71.9 630.3,75.7 630.3,71.2 630.4,61.6 630.5,69.1 630.5,74.0 630.6,79.7 630.6,71.8 630.7,83.1 630.8,67.6 630.8,69.6 630.9,72.3 630.9,75.3 631.0,70.5 631.1,74.6 631.1,70.4 631.2,73.7 631.2,74.0 631.3,72.2 631.4,72.3 631.4,70.3 631.5,68.3 631.5,82.2 631.6,67.3 631.7,77.3 631.7,75.8 631.8,71.3 631.8,70.9 631.9,67.8 632.0,71.9 632.0,66.0 632.1,70.9 632.1,79.7 632.2,76.1 632.3,64.8 632.3,71.5 632.4,69.1 632.4,64.8 632.5,75.7 632.6,62.8 632.6,72.8 632.7,78.9 632.7,77.7 632.8,65.3 632.9,69.7 632.9,70.0 633.0,70.5 633.0,74.9 633.1,73.7 633.2,78.8 633.2,68.3 633.3,72.9 633.3,76.6 633.4,73.4 633.5,63.2 633.5,71.9 633.6,72.3 633.6,71.7 633.7,67.4 633.8,74.8 633.8,71.9 633.9,68.1 633.9,73.9 634.0,71.3 634.1,69.5 634.1,68.9 634.2,67.2 634.2,72.1 634.3,69.5 634.4,76.6 634.4,71.6 634.5,75.3 634.5,68.6 634.6,70.0 634.7,72.3 634.7,75.4 634.8,76.2 634.8,72.8 634.9,73.3 635.0,74.8 635.0,75.7 635.1,76.9 635.1,65.1 635.2,76.3 635.3,72.2 635.3,73.0 635.4,69.3 635.4,76.0 635.5,78.0 635.6,77.9 635.6,70.1 635.7,66.0 635.7,78.5 635.8,71.0 635.9,65.3 635.9,77.0 636.0,63.5 636.0,77.2 636.1,70.6 636.2,81.0 636.2,73.1 636.3,70.2 636.3,73.3 636.4,69.2 636.5,70.3 636.5,74.7 636.6,73.0 636.6,67.6 636.7,71.1 636.8,80.8 636.8,67.1 636.9,75.4 636.9,88.5 637.0,69.5 637.1,76.3 637.1,73.2 637.2,68.8 637.2,76.5 637.3,76.0 637.4,72.8 637.4,69.7 637.5,77.3 637.5,75.6 637.6,71.8 637.7,69.1 637.7,71.7 637.8,70.9 637.8,70.5 637.9,78.5 638.0,72.5 638.0,79.3 638.1,78.2 638.1,77.4 638.2,75.4 638.3,72.8 638.3,72.9 638.4,82.0 638.4,78.1 638.5,71.7 638.6,76.4 638.6,71.0 638.7,73.3 638.7,69.1 638.8,69.3 638.9,68.9 638.9,75.1 639.0,78.6 639.0,73.6 639.1,75.4 639.2,72.6 639.2,71.5 639.3,75.1 639.3,68.8 639.4,78.6 639.5,77.5 639.5,75.7 639.6,88.5 639.6,71.9 639.7,81.3 639.8,73.4 639.8,71.8 639.9,70.0 639.9,71.3 640.0,73.7 640.1,73.0 640.1,77.5 640.2,72.7 640.2,71.1 640.3,77.1 640.4,71.4 640.4,82.7 640.5,69.2 640.5,74.2 640.6,71.4 640.7,76.3 640.7,80.9 640.8,73.0 640.8,68.0 640.9,76.4 641.0,75.4 641.0,78.0 641.1,71.5 641.1,72.3 641.2,71.8 641.3,72.8 641.3,74.9 641.4,81.3 641.4,77.3 641.5,73.7 641.6,69.1 641.6,81.8 641.7,78.5 641.7,81.8 641.8,64.6 641.9,86.2 641.9,71.5 642.0,70.9 642.0,72.7 642.1,73.5 642.2,82.0 642.2,65.9 642.3,78.7 642.3,82.0 642.4,81.3 642.5,79.3 642.5,80.6 642.6,74.7 642.6,73.3 642.7,73.7 642.8,68.7 642.8,80.9 642.9,76.4 642.9,78.3 643.0,83.4 643.1,82.9 643.1,79.3 643.2,73.2 643.2,83.2 643.3,83.4 643.4,86.5 643.4,85.5 643.5,85.5 643.5,85.1 643.6,86.4 643.7,86.5 643.7,88.5 643.8,87.6 643.8,84.7 643.9,88.5 644.0,81.7" fill="none" stroke="#000" stroke-width="0.7" stroke-linejoin="bevel"/>
<polyline points="425.8,121.0 425.9,115.6 425.9,113.7 426.0,110.7 426.0,117.5 426.1,122.6 426.2,118.7 426.2,120.2 426.3,121.7 426.3,115.6 426.4,126.4 426.5,115.5 426.5,119.5 426.6,126.2 426.6,117.8 426.7,118.4 426.8,116.4 426.8,119.0 426.9,111.1 426.9,115.7 427.0,123.1 427.1,118.3 427.1,129.3 427.2,118.6 427.2,118.7 427.3,117.7 427.4,119.0 427.4,111.7 427.5,118.8 427.5,114.7 427.6,119.3 427.7,116.6 427.7,113.4 427.8,116.2 427.8,113.1 427.9,119.5 428.0,116.1 428.0,118.8 428.1,126.2 428.1,121.1 428.2,114.8 428.3,120.1 428.3,118.4 428.4,112.1 428.4,116.6 428.5,113.8 428.6,116.8 428.6,120.0 428.7,117.6 428.7,118.8 428.8,111.6 428.9,116.0 428.9,116.5 429.0,118.9 429.0,113.4 429.1,117.2 429.2,116.8 429.2,110.6 429.3,112.2 429.3,117.0 429.4,111.8 429.5,111.7 429.5,118.5 429.6,116.7 429.6,115.0 429.7,116.2 429.8,114.6 429.8,114.2 429.9,114.6 429.9,117.3 430.0,120.4 430.1,114.7 430.1,116.1 430.2,115.7 430.2,112.4 430.3,117.3 430.4,119.4 430.4,114.0 430.5,119.4 430.5,115.0 430.6,120.6 430.7,120.9 430.7,115.8 430.8,110.7 430.8,116.1 430.9,112.9 431.0,113.2 431.0,116.7 431.1,121.9 431.1,117.4 431.2,117.0 431.3,111.9 431.3,116.0 431.4,113.5 431.4,119.7 431.5,116.4 431.6,118.0 431.6,118.1 431.7,117.6 431.7,121.3 431.8,119.8 431.9,117.3 431.9,118.8 432.0,120.0 432.0,122.7 432.1,118.7 432.2,122.8 432.2,116.3 432.3,117.4 432.3,113.3 432.4,120.7 432.5,114.7 432.5,114.6 432.6,120.5 432.6,116.1 432.7,115.3 432.8,120.7 432.8,117.0 432.9,120.5 432.9,116.2 433.0,119.8 433.1,120.9 433.1,117.7 433.2,123.2 433.2,116.2 433.3,116.8 433.4,117.7 433.4,120.7 433.5,116.6 433.5,116.2 433.6,118.4 433.7,121.7 433.7,116.4 433.8,113.7 433.8,117.5 433.9,120.0 434.0,116.3 434.0,118.5 434.1,112.3 434.1,118.4 434.2,118.7 434.3,120.5 434.3,119.6 434.4,121.1 434.4,115.6 434.5,120.9 434.6,113.6 434.6,117.0 434.7,122.5 434.7,121.8 434.8,113.1 434.9,121.0 434.9,117.7 435.0,116.6 435.0,119.8 435.1,119.5 435.2,123.6 435.2,114.5 435.3,117.7 435.3,118.5 435.4,113.0 435.5,122.6 435.5,124.4 435.6,116.8 435.6,119.9 435.7,117.8 435.8,119.4 435.8,116.3 435.9,121.0 435.9,114.6 436.0,122.6 436.1,119.3 436.1,125.8 436.2,112.7 436.2,117.6 436.3,113.7 436.4,117.3 436.4,119.1 436.5,114.7 436.5,113.0 436.6,112.0 436.7,118.2 436.7,121.6 436.8,121.2 436.8,117.5 436.9,114.3 437.0,116.2 437.0,112.6 437.1,112.3 437.1,120.8 437.2,116.5 437.3,118.4 437.3,116.5 437.4,121.7 437.4,122.1 437.5,115.0 437.6,116.4 437.6,115.4 437.7,121.8 437.7,121.6 437.8,116.7 437.9,125.0 437.9,117.8 438.0,113.8 438.0,111.3 438.1,117.3 438.2,118.8 438.2,116.0 438.3,119.0 438.3,121.7 438.4,117.7 438.5,120.6 438.5,123.2 438.6,119.5 438.6,116.1 438.7,119.3 438.8,119.7 438.8,124.8 438.9,116.6 438.9,113.0 439.0,118.9 439.1,119.0 439.1,116.6 439.2,119.8 439.2,119.0 439.3,121.8 439.4,115.3 439.4,115.7 439.5,117.9 439.5,116.3 439.6,122.0 439.7,119.8 439.7,117.9 439.8,122.9 439.8,119.6 439.9,121.2 440.0,120.6 440.0,117.6 440.1,117.6 440.1,118.1 440.2,114.6 440.3,116.9 440.3,120.8 440.4,119.1 440.4,115.1 440.5,125.6 440.6,114.8 440.6,120.1 440.7,120.4 440.7,122.2 440.8,115.4 440.9,118.2 440.9,117.6 441.0,121.9 441.0,119.5 441.1,119.6 441.2,120.0 441.2,124.6 441.3,120.6 441.3,121.3 441.4,115.5 441.5,120.7 441.5,114.6 441.6,121.6 441.6,119.1 441.7,115.9 441.8,115.1 441.8,118.5 441.9,119.2 441.9,117.1 442.0,117.9 442.1,118.0 442.1,117.3 442.2,118.4 442.2,120.0 442.3,123.3 442.4,121.2 442.4,117.4 442.5,124.4 442.5,123.1 442.6,118.5 442.7,122.7 442.7,117.7 442.8,117.1 442.8,117.2 442.9,124.7 443.0,120.0 443.0,120.6 443.1,119.8 443.1,118.4 443.2,121.2 443.3,121.8 443.3,126.0 443.4,117.0 443.4,124.6 443.5,121.8 443.6,114.2 443.6,122.8 443.7,124.8 443.7,123.2 443.8,120.4 443.9,120.1 443.9,113.2 444.0,120.6 444.0,120.1 444.1,116.5 444.2,120.1 444.2,117.3 444.3,126.6 444.3,115.4 444.4,116.4 444.5,112.3 444.5,117.8 444.6,119.4 444.6,119.0 444.7,116.9 444.8,121.7 444.8,119.6 444.9,122.6 444.9,118.4 445.0,113.1 445.1,118.3 445.1,115.5 445.2,121.3 445.2,116.7 445.3,117.8 445.4,118.5 445.4,113.7 445.5,117.3 445.5,121.3 445.6,116.7 445.7,117.9 445.7,119.0 445.8,116.3 445.8,117.4 445.9,119.8 446.0,117.1 446.0,118.5 446.1,117.8 446.1,114.9 446.2,114.1 446.3,124.5 446.3,122.5 446.4,117.7 446.4,121.1 446.5,121.6 446.6,121.1 446.6,116.8 446.7,113.3 446.7,113.9 446.8,117.1 446.9,122.1 446.9,122.7 447.0,117.0 447.0,116.6 447.1,121.5 447.2,124.2 447.2,114.6 447.3,119.0 447.3,117.9 447.4,116.4 447.5,116.3 447.5,116.2 447.6,117.2 447.6,112.3 447.7,117.1 447.8,119.6 447.8,119.4 447.9,119.5 447.9,117.9 448.0,117.4 448.1,122.9 448.1,116.1 448.2,117.1 448.2,120.5 448.3,116.6 448.4,112.3 448.4,114.6 448.5,114.9 448.5,115.7 448.6,114.7 448.7,119.2 448.7,118.3 448.8,117.5 448.8,114.7 448.9,119.2 449.0,119.1 449.0,122.9 449.1,113.9 449.1,115.5 449.2,120.3 449.3,112.4 449.3,116.7 449.4,116.6 449.4,116.1 449.5,113.0 449.6,116.2 449.6,111.3 449.7,119.9 449.7,114.6 449.8,116.7 449.9,116.2 449.9,116.9 450.0,116.8 450.0,117.8 450.1,115.4 450.2,116.7 450.2,113.2 450.3,113.5 450.3,114.2 450.4,113.8 450.5,112.7 450.5,115.2 450.6,119.3 450.6,118.7 450.7,116.2 450.8,118.6 450.8,118.9 450.9,125.8 450.9,113.0 451.0,118.9 451.1,114.1 451.1,122.4 451.2,117.8 451.2,120.1 451.3,119.5 451.4,121.2 451.4,111.0 451.5,115.5 451.5,119.6 451.6,115.2 451.7,121.3 451.7,123.6 451.8,115.7 451.8,118.6 451.9,122.0 452.0,125.9 452.0,123.4 452.1,122.6 452.1,117.5 452.2,120.4 452.3,120.8 452.3,118.5 452.4,121.7 452.4,119.4 452.5,119.0 452.6,127.1 452.6,119.8 452.7,126.2 452.7,118.9 452.8,119.9 452.9,116.0 452.9,118.1 453.0,124.8 453.0,119.7 453.1,113.2 453.2,124.0 453.2,116.5 453.3,117.8 453.3,118.9 453.4,112.9 453.5,123.7 453.5,122.8 453.6,117.5 453.6,119.6 453.7,117.4 453.8,116.3 453.8,117.4 453.9,113.5 453.9,116.7 454.0,116.1 454.1,123.9 454.1,113.1 454.2,121.8 454.2,120.0 454.3,118.2 454.4,115.8 454.4,123.5 454.5,122.4 454.5,117.6 454.6,117.2 454.7,118.4 454.7,123.7 454.8,115.0 454.8,118.3 454.9,121.7 455.0,113.7 455.0,117.9 455.1,121.8 455.1,117.0 455.2,118.1 455.3,113.6 455.3,119.8 455.4,114.9 455.4,117.5 455.5,119.9 455.6,117.1 455.6,121.8 455.7,121.3 455.7,120.6 455.8,122.3 455.9,118.7 455.9,112.4 456.0,122.0 456.0,121.8 456.1,117.8 456.2,116.7 456.2,123.1 456.3,117.9 456.3,118.1 456.4,117.9 456.5,126.7 456.5,117.0 456.6,111.2 456.6,118.8 456.7,115.7 456.8,113.3 456.8,119.2 456.9,117.0 456.9,121.4 457.0,117.4 457.1,122.1 457.1,121.4 457.2,118.3 457.2,120.6 457.3,123.8 457.4,120.1 457.4,113.3 457.5,118.0 457.5,118.4 457.6,121.6 457.7,117.2 457.7,121.1 457.8,117.0 457.8,117.5 457.9,116.6 458.0,117.4 458.0,116.8 458.1,118.3 458.1,114.8 458.2,113.9 458.3,116.9 458.3,117.7 458.4,115.9 458.4,118.5 458.5,118.3 458.6,122.6 458.6,112.7 458.7,123.6 458.7,109.9 458.8,111.8 458.9,118.2 458.9,114.4 459.0,116.5 459.0,116.1 459.1,113.4 459.2,113.2 459.2,116.4 459.3,118.8 459.3,119.6 459.4,118.3 459.5,116.8 459.5,121.7 459.6,111.1 459.6,118.2 459.7,122.2 459.8,123.4 459.8,122.2 459.9,122.7 459.9,121.8 460.0,119.1 460.1,111.6 460.1,117.2 460.2,118.0 460.2,124.0 460.3,117.7 460.4,118.0 460.4,121.3 460.5,116.3 460.5,119.5 460.6,121.3 460.7,118.6 460.7,119.5 460.8,114.2 460.8,115.9 460.9,119.2 461.0,123.7 461.0,118.3 461.1,117.3 461.1,117.8 461.2,122.5 461.3,115.9 461.3,121.1 461.4,119.5 461.4,120.9 461.5,118.4 461.6,121.1 461.6,125.2 461.7,120.0 461.7,119.4 461.8,113.6 461.9,122.6 461.9,119.1 462.0,122.4 462.0,121.5 462.1,118.7 462.2,119.1 462.2,116.9 462.3,127.5 462.3,124.2 462.4,123.9 462.5,125.0 462.5,125.6 462.6,123.9 462.6,124.5 462.7,129.1 462.8,115.7 462.8,121.8 462.9,119.2 462.9,121.3 463.0,113.5 463.1,117.6 463.1,123.6 463.2,117.0 463.2,122.8 463.3,118.3 463.4,120.4 463.4,116.1 463.5,118.9 463.5,132.4 463.6,122.6 463.7,115.3 463.7,121.8 463.8,119.0 463.8,120.2 463.9,125.3 464.0,119.9 464.0,118.6 464.1,120.7 464.1,122.8 464.2,118.8 464.3,125.9 464.3,121.0 464.4,119.3 464.4,118.3 464.5,119.8 464.6,122.0 464.6,123.5 464.7,120.3 464.7,118.1 464.8,119.7 464.9,113.0 464.9,123.1 465.0,122.1 465.0,118.7 465.1,121.5 465.2,116.0 465.2,124.8 465.3,118.6 465.3,117.5 465.4,125.6 465.5,115.9 465.5,120.2 465.6,116.2 465.6,117.0 465.7,117.8 465.8,116.7 465.8,123.1 465.9,121.9 465.9,116.5 466.0,125.3 466.1,118.0 466.1,117.5 466.2,119.3 466.2,114.7 466.3,122.2 466.4,115.0 466.4,113.9 466.5,121.2 466.5,114.9 466.6,117.0 466.7,113.9 466.7,116.3 466.8,118.0 466.8,110.1 466.9,117.5 467.0,115.1 467.0,122.2 467.1,124.2 467.1,119.4 467.2,119.7 467.3,121.2 467.3,121.2 467.4,113.3 467.4,113.6 467.5,116.3 467.6,113.4 467.6,127.7 467.7,118.1 467.7,115.2 467.8,119.2 467.9,122.3 467.9,117.9 468.0,119.1 468.0,117.6 468.1,117.4 468.2,116.0 468.2,114.1 468.3,119.4 468.3,121.0 468.4,117.4 468.5,117.8 468.5,113.1 468.6,116.7 468.6,118.4 468.7,117.1 468.8,117.5 468.8,114.2 468.9,113.3 468.9,116.5 469.0,122.0 469.1,116.1 469.1,112.5 469.2,126.1 469.2,116.6 469.3,121.1 469.4,120.7 469.4,114.8 469.5,114.1 469.5,116.5 469.6,117.3 469.7,114.2 469.7,120.4 469.8,116.0 469.8,118.2 469.9,116.8 470.0,119.0 470.0,117.1 470.1,118.2 470.1,121.3 470.2,118.2 470.3,122.0 470.3,113.4 470.4,116.8 470.4,114.1 470.5,112.8 470.6,117.1 470.6,123.2 470.7,118.0 470.7,120.3 470.8,111.1 470.9,117.8 470.9,113.4 471.0,117.7 471.0,120.2 471.1,115.3 471.2,120.2 471.2,114.3 471.3,117.0 471.3,114.6 471.4,116.8 471.5,116.0 471.5,109.6 471.6,115.3 471.6,114.8 471.7,121.7 471.8,108.7 471.8,116.6 471.9,118.9 471.9,122.3 472.0,120.4 472.1,116.2 472.1,120.9 472.2,115.9 472.2,115.7 472.3,115.3 472.4,115.2 472.4,121.2 472.5,111.2 472.5,111.6 472.6,119.5 472.7,118.0 472.7,119.2 472.8,115.8 472.8,118.7 472.9,115.9 473.0,115.1 473.0,115.3 473.1,117.2 473.1,117.0 473.2,115.6 473.3,121.9 473.3,118.4 473.4,115.9 473.4,112.9 473.5,116.9 473.6,112.0 473.6,114.4 473.7,113.6 473.7,114.5 473.8,117.9 473.9,110.0 473.9,121.9 474.0,118.7 474.0,115.9 474.1,115.4 474.2,119.6 474.2,116.9 474.3,122.8 474.3,116.8 474.4,114.3 474.5,112.7 474.5,116.9 474.6,120.4 474.6,113.3 474.7,121.1 474.8,119.7 474.8,116.0 474.9,121.0 474.9,111.3 475.0,109.8 475.1,117.6 475.1,117.9 475.2,117.7 475.2,116.3 475.3,111.7 475.4,118.0 475.4,115.0 475.5,118.8 475.5,116.6 475.6,112.1 475.7,117.7 475.7,118.2 475.8,118.1 475.8,113.2 475.9,112.1 476.0,117.8 476.0,115.1 476.1,114.8 476.1,118.3 476.2,118.4 476.3,116.6 476.3,114.3 476.4,119.7 476.4,111.6 476.5,114.8 476.6,115.8 476.6,110.4 476.7,112.4 476.7,117.5 476.8,114.4 476.9,111.3 476.9,120.0 477.0,115.3 477.0,115.0 477.1,120.5 477.2,110.0 477.2,113.0 477.3,111.8 477.3,119.0 477.4,112.2 477.5,122.3 477.5,108.5 477.6,109.3 477.6,107.0 477.7,106.2 477.8,106.6 477.8,105.6 477.9,104.0 477.9,102.7 478.0,101.9 478.1,106.4 478.1,104.4 478.2,104.9 478.2,107.3 478.3,105.4 478.4,105.6 478.4,108.4 478.5,108.8 478.5,119.0 478.6,119.9 478.7,118.7 478.7,113.9 478.8,116.8 478.8,114.9 478.9,119.1 479.0,118.7 479.0,116.5 479.1,114.4 479.1,121.3 479.2,116.3 479.3,118.3 479.3,117.5 479.4,118.2 479.4,119.4 479.5,114.5 479.6,114.1 479.6,117.5 479.7,107.3 479.7,115.2 479.8,113.9 479.9,117.7 479.9,116.5 480.0,114.7 480.0,111.6 480.1,114.7 480.2,114.3 480.2,115.5 480.3,115.9 480.3,113.0 480.4,116.9 480.5,113.5 480.5,116.5 480.6,116.1 480.6,119.2 480.7,115.1 480.8,120.3 480.8,114.0 480.9,112.4 480.9,117.2 481.0,111.2 481.1,116.4 481.1,116.4 481.2,115.8 481.2,116.5 481.3,115.9 481.4,119.3 481.4,114.9 481.5,109.0 481.5,114.1 481.6,118.0 481.7,118.5 481.7,117.6 481.8,115.5 481.8,112.5 481.9,120.5 482.0,113.6 482.0,112.0 482.1,107.8 482.1,121.7 482.2,115.6 482.3,109.7 482.3,118.4 482.4,117.8 482.4,110.4 482.5,118.3 482.6,115.9 482.6,118.0 482.7,120.2 482.7,114.6 482.8,122.9 482.9,115.6 482.9,114.1 483.0,119.8 483.0,113.9 483.1,115.0 483.2,118.7 483.2,113.3 483.3,111.8 483.3,117.0 483.4,116.1 483.5,114.3 483.5,119.1 483.6,112.3 483.6,118.5 483.7,112.7 483.8,117.7 483.8,112.3 483.9,118.3 483.9,116.0 484.0,114.9 484.1,116.5 484.1,115.9 484.2,119.0 484.2,114.3 484.3,117.8 484.4,115.5 484.4,114.6 484.5,115.0 484.5,113.1 484.6,117.7 484.7,117.0 484.7,117.9 484.8,111.8 484.8,115.5 484.9,121.8 485.0,120.9 485.0,116.8 485.1,117.3 485.1,117.9 485.2,120.8 485.3,122.1 485.3,118.5 485.4,118.4 485.4,117.6 485.5,118.8 485.6,123.4 485.6,115.7 485.7,119.9 485.7,114.2 485.8,114.4 485.9,112.5 485.9,115.9 486.0,122.5 486.0,122.9 486.1,120.3 486.2,117.6 486.2,121.1 486.3,114.3 486.3,113.1 486.4,114.8 486.5,116.9 486.5,111.7 486.6,114.9 486.6,122.8 486.7,116.8 486.8,116.1 486.8,115.3 486.9,119.6 486.9,119.4 487.0,117.6 487.1,116.7 487.1,110.5 487.2,112.6 487.2,115.9 487.3,115.4 487.4,116.2 487.4,115.8 487.5,122.9 487.5,120.9 487.6,113.9 487.7,119.7 487.7,118.6 487.8,117.3 487.8,116.7 487.9,118.7 488.0,123.5 488.0,115.9 488.1,117.2 488.1,117.4 488.2,112.5 488.3,117.9 488.3,115.3 488.4,118.8 488.4,119.3 488.5,123.8 488.6,117.5 488.6,117.3 488.7,120.6 488.7,124.6 488.8,118.9 488.9,120.0 488.9,120.3 489.0,120.1 489.0,116.9 489.1,116.1 489.2,116.4 489.2,117.4 489.3,119.5 489.3,115.9 489.4,116.2 489.5,118.6 489.5,118.2 489.6,118.9 489.6,114.6 489.7,124.5 489.8,117.9 489.8,117.8 489.9,115.9 489.9,119.9 490.0,121.7 490.1,118.4 490.1,118.1 490.2,117.6 490.2,125.4 490.3,120.2 490.4,117.0 490.4,118.8 490.5,121.6 490.5,118.8 490.6,119.3 490.7,118.9 490.7,117.7 490.8,120.1 490.8,123.4 490.9,119.8 491.0,117.4 491.0,115.7 491.1,118.1 491.1,116.6 491.2,115.6 491.3,120.3 491.3,119.2 491.4,121.7 491.4,119.8 491.5,117.1 491.6,121.2 491.6,119.5 491.7,122.6 491.7,115.2 491.8,117.2 491.9,118.5 491.9,123.1 492.0,119.8 492.0,114.8 492.1,115.5 492.2,120.0 492.2,113.5 492.3,116.2 492.3,117.9 492.4,117.2 492.5,119.2 492.5,120.8 492.6,119.1 492.6,114.3 492.7,122.3 492.8,121.5 492.8,115.7 492.9,117.2 492.9,114.1 493.0,122.6 493.1,116.8 493.1,119.5 493.2,119.7 493.2,122.1 493.3,118.5 493.4,117.1 493.4,120.0 493.5,121.1 493.5,116.5 493.6,117.8 493.7,113.3 493.7,122.3 493.8,115.9 493.8,120.9 493.9,120.5 494.0,120.2 494.0,120.7 494.1,115.3 494.1,118.3 494.2,115.5 494.3,117.2 494.3,115.3 494.4,124.8 494.4,118.2 494.5,120.6 494.6,115.4 494.6,123.0 494.7,117.2 494.7,116.9 494.8,116.6 494.9,112.7 494.9,111.3 495.0,118.2 495.0,114.3 495.1,116.9 495.2,123.8 495.2,116.8 495.3,124.0 495.3,118.8 495.4,114.5 495.5,119.8 495.5,121.5 495.6,120.6 495.6,116.1 495.7,115.0 495.8,121.1 495.8,124.3 495.9,124.0 495.9,117.6 496.0,118.0 496.1,119.7 496.1,122.3 496.2,120.4 496.2,120.4 496.3,119.2 496.4,111.1 496.4,115.4 496.5,119.7 496.5,114.4 496.6,125.6 496.7,116.8 496.7,121.4 496.8,122.2 496.8,122.8 496.9,115.6 497.0,118.6 497.0,123.8 497.1,119.3 497.1,121.5 497.2,111.3 497.3,120.1 497.3,119.2 497.4,118.3 497.4,113.1 497.5,116.2 497.6,117.6 497.6,117.2 497.7,114.9 497.7,121.7 497.8,121.3 497.9,117.2 497.9,122.8 498.0,114.6 498.0,119.2 498.1,123.4 498.2,120.1 498.2,117.8 498.3,119.9 498.3,118.0 498.4,116.7 498.5,116.1 498.5,118.6 498.6,118.2 498.6,119.7 498.7,116.2 498.8,119.7 498.8,121.9 498.9,117.1 498.9,124.1 499.0,116.9 499.1,117.0 499.1,117.5 499.2,115.6 499.2,114.7 499.3,116.0 499.4,118.9 499.4,117.3 499.5,124.5 499.5,119.4 499.6,118.8 499.7,118.4 499.7,121.7 499.8,120.7 499.8,121.5 499.9,123.1 500.0,125.4 500.0,117.9 500.1,123.0 500.1,121.0 500.2,121.7 500.3,119.2 500.3,122.9 500.4,122.9 500.4,122.2 500.5,118.7 500.6,123.2 500.6,118.1 500.7,131.6 500.7,123.5 500.8,120.6 500.9,116.0 500.9,118.7 501.0,120.9 501.0,123.8 501.1,120.0 501.2,110.1 501.2,117.4 501.3,116.4 501.3,120.1 501.4,118.0 501.5,122.3 501.5,118.1 501.6,123.6 501.6,119.6 501.7,120.3 501.8,119.8 501.8,119.7 501.9,125.1 501.9,117.9 502.0,118.5 502.1,119.4 502.1,122.1 502.2,117.1 502.2,124.6 502.3,117.2 502.4,118.5 502.4,120.5 502.5,120.7 502.5,117.4 502.6,123.0 502.7,125.9 502.7,120.3 502.8,122.7 502.8,122.7 502.9,128.3 503.0,121.1 503.0,121.9 503.1,119.7 503.1,121.6 503.2,119.7 503.3,119.5 503.3,119.8 503.4,123.3 503.4,119.5 503.5,123.0 503.6,119.9 503.6,123.9 503.7,116.5 503.7,116.7 503.8,121.9 503.9,124.6 503.9,118.5 504.0,113.4 504.0,123.1 504.1,121.1 504.2,117.2 504.2,123.7 504.3,123.5 504.3,117.3 504.4,117.9 504.5,121.1 504.5,121.0 504.6,123.0 504.6,120.3 504.7,124.7 504.8,117.4 504.8,115.7 504.9,116.5 504.9,115.9 505.0,117.8 505.1,115.6 505.1,120.6 505.2,121.7 505.2,123.1 505.3,116.5 505.4,114.1 505.4,116.8 505.5,118.1 505.5,116.5 505.6,119.5 505.7,119.6 505.7,119.1 505.8,115.4 505.8,120.7 505.9,115.6 506.0,110.8 506.0,117.7 506.1,121.9 506.1,118.2 506.2,113.4 506.3,117.3 506.3,122.0 506.4,119.0 506.4,118.3 506.5,115.0 506.6,118.6 506.6,116.9 506.7,123.6 506.7,120.1 506.8,121.8 506.9,114.5 506.9,119.5 507.0,122.1 507.0,125.0 507.1,123.9 507.2,117.5 507.2,128.9 507.3,119.6 507.3,119.3 507.4,119.4 507.5,117.0 507.5,119.4 507.6,118.4 507.6,119.1 507.7,118.4 507.8,119.7 507.8,122.7 507.9,118.5 507.9,117.0 508.0,122.4 508.1,120.6 508.1,122.8 508.2,117.9 508.2,120.4 508.3,118.2 508.4,116.7 508.4,119.3 508.5,120.4 508.5,121.8 508.6,117.2 508.7,123.2 508.7,124.2 508.8,122.0 508.8,119.7 508.9,118.5 509.0,124.1 509.0,118.7 509.1,125.2 509.1,115.7 509.2,115.4 509.3,122.7 509.3,117.6 509.4,124.5 509.4,120.2 509.5,120.0 509.6,122.6 509.6,125.0 509.7,124.3 509.7,121.2 509.8,120.7 509.9,124.2 509.9,119.4 510.0,118.9 510.0,119.0 510.1,130.4 510.2,126.3 510.2,123.3 510.3,120.7 510.3,123.3 510.4,116.7 510.5,120.8 510.5,124.3 510.6,122.0 510.6,117.8 510.7,121.0 510.8,120.5 510.8,125.2 510.9,123.5 510.9,121.3 511.0,110.0 511.1,119.2 511.1,124.2 511.2,122.0 511.2,120.2 511.3,118.8 511.4,121.9 511.4,124.8 511.5,115.1 511.5,120.3 511.6,122.7 511.7,117.4 511.7,117.5 511.8,124.0 511.8,118.9 511.9,118.4 512.0,120.8 512.0,120.4 512.1,121.2 512.1,121.2 512.2,123.8 512.3,120.6 512.3,122.2 512.4,117.0 512.4,120.1 512.5,117.7 512.6,123.8 512.6,120.3 512.7,123.0 512.7,118.7 512.8,116.6 512.9,121.7 512.9,118.9 513.0,114.9 513.0,118.5 513.1,117.0 513.2,123.7 513.2,119.2 513.3,121.6 513.3,121.1 513.4,123.2 513.5,121.0 513.5,121.2 513.6,120.9 513.6,115.5 513.7,119.6 513.8,115.8 513.8,115.9 513.9,119.6 513.9,114.0 514.0,118.6 514.1,122.2 514.1,118.9 514.2,121.3 514.2,115.7 514.3,118.8 514.4,111.2 514.4,115.3 514.5,116.5 514.5,123.9 514.6,124.6 514.7,112.5 514.7,117.1 514.8,116.0 514.8,123.1 514.9,120.8 515.0,117.0 515.0,120.5 515.1,121.6 515.1,115.8 515.2,120.8 515.3,119.4 515.3,119.9 515.4,112.3 515.4,117.2 515.5,110.0 515.6,118.1 515.6,114.6 515.7,121.1 515.7,121.3 515.8,111.5 515.9,121.4 515.9,115.2 516.0,119.5 516.0,116.9 516.1,115.3 516.2,115.5 516.2,114.7 516.3,120.5 516.3,116.3 516.4,112.8 516.5,117.9 516.5,114.3 516.6,117.4 516.6,113.3 516.7,116.8 516.8,112.8 516.8,113.2 516.9,116.6 516.9,118.3 517.0,116.2 517.1,115.4 517.1,123.8 517.2,115.3 517.2,107.8 517.3,117.6 517.4,114.0 517.4,111.2 517.5,119.1 517.5,118.5 517.6,114.8 517.7,114.5 517.7,116.0 517.8,119.3 517.8,113.3 517.9,120.5 518.0,117.1 518.0,117.7 518.1,121.4 518.1,115.8 518.2,105.5 518.3,116.9 518.3,108.8 518.4,116.3 518.4,117.0 518.5,116.4 518.6,120.7 518.6,115.4 518.7,118.5 518.7,118.1 518.8,118.4 518.9,111.7 518.9,115.6 519.0,115.6 519.0,122.1 519.1,116.0 519.2,119.1 519.2,117.9 519.3,112.8 519.3,113.6 519.4,117.9 519.5,119.4 519.5,122.1 519.6,116.3 519.6,113.1 519.7,116.9 519.8,112.8 519.8,121.3 519.9,116.0 519.9,116.8 520.0,122.8 520.1,118.3 520.1,112.9 520.2,118.3 520.2,114.8 520.3,112.9 520.4,114.1 520.4,112.3 520.5,118.3 520.5,113.9 520.6,115.3 520.7,119.8 520.7,115.9 520.8,115.0 520.8,116.9 520.9,106.6 521.0,116.6 521.0,115.8 521.1,119.1 521.1,115.3 521.2,113.7 521.3,115.2 521.3,109.7 521.4,116.0 521.4,119.0 521.5,122.6 521.6,117.7 521.6,120.6 521.7,110.9 521.7,121.0 521.8,118.3 521.9,120.8 521.9,115.6 522.0,118.6 522.0,117.9 522.1,116.2 522.2,117.3 522.2,122.4 522.3,113.2 522.3,117.0 522.4,119.7 522.5,122.8 522.5,115.2 522.6,114.6 522.6,112.6 522.7,120.0 522.8,118.7 522.8,119.3 522.9,119.3 522.9,114.2 523.0,123.3 523.1,123.0 523.1,116.1 523.2,118.1 523.2,117.4 523.3,118.1 523.4,126.4 523.4,123.8 523.5,117.6 523.5,127.3 523.6,122.5 523.7,121.7 523.7,118.7 523.8,118.9 523.8,120.8 523.9,129.5 524.0,118.0 524.0,119.1 524.1,124.1 524.1,121.8 524.2,118.8 524.3,129.4 524.3,120.4 524.4,119.2 524.4,120.4 524.5,122.8 524.6,123.1 524.6,124.0 524.7,121.8 524.7,119.5 524.8,125.2 524.9,120.2 524.9,118.9 525.0,122.9 525.0,124.3 525.1,119.1 525.2,119.0 525.2,120.0 525.3,118.1 525.3,119.3 525.4,122.8 525.5,122.5 525.5,112.8 525.6,125.1 525.6,124.7 525.7,117.0 525.8,124.9 525.8,116.3 525.9,125.0 525.9,118.8 526.0,122.0 526.1,121.2 526.1,122.4 526.2,116.4 526.2,125.3 526.3,122.8 526.4,121.0 526.4,124.4 526.5,120.3 526.5,126.9 526.6,124.8 526.7,126.8 526.7,118.1 526.8,121.1 526.8,114.6 526.9,121.0 527.0,117.8 527.0,117.6 527.1,122.9 527.1,119.7 527.2,123.4 527.3,116.4 527.3,117.3 527.4,120.6 527.4,112.5 527.5,116.0 527.6,119.2 527.6,113.1 527.7,120.4 527.7,115.7 527.8,121.3 527.9,116.6 527.9,123.4 528.0,113.2 528.0,122.4 528.1,113.8 528.2,122.9 528.2,118.3 528.3,112.4 528.3,120.3 528.4,116.6 528.5,117.8 528.5,118.2 528.6,120.9 528.6,117.0 528.7,120.1 528.8,115.0 528.8,116.5 528.9,119.8 528.9,122.2 529.0,118.3 529.1,117.5 529.1,119.7 529.2,120.1 529.2,115.4 529.3,126.5 529.4,117.0 529.4,114.3 529.5,118.3 529.5,119.7 529.6,118.2 529.7,116.4 529.7,118.2 529.8,120.1 529.8,116.4 529.9,115.7 530.0,118.9 530.0,118.9 530.1,114.9 530.1,126.1 530.2,121.7 530.3,123.9 530.3,122.1 530.4,114.1 530.4,125.3 530.5,113.6 530.6,115.8 530.6,119.8 530.7,116.9 530.7,121.2 530.8,121.9 530.9,118.8 530.9,124.6 531.0,114.3 531.0,120.9 531.1,121.7 531.2,125.5 531.2,122.2 531.3,114.3 531.3,121.4 531.4,118.4 531.5,120.1 531.5,121.2 531.6,123.5 531.6,118.3 531.7,121.3 531.8,123.1 531.8,122.5 531.9,122.6 531.9,115.0 532.0,121.2 532.1,123.3 532.1,118.5 532.2,121.2 532.2,118.7 532.3,122.0 532.4,120.8 532.4,117.1 532.5,121.5 532.5,121.3 532.6,115.6 532.7,119.0 532.7,118.7 532.8,115.7 532.8,123.0 532.9,117.4 533.0,119.9 533.0,112.9 533.1,119.0 533.1,115.3 533.2,120.6 533.3,118.5 533.3,122.4 533.4,124.7 533.4,113.8 533.5,119.7 533.6,118.9 533.6,117.6 533.7,116.8 533.7,119.1 533.8,121.3 533.9,121.6 533.9,123.0 534.0,119.6 534.0,123.0 534.1,122.0 534.2,123.3 534.2,123.2 534.3,122.1 534.3,123.1 534.4,118.1 534.5,113.9 534.5,116.4 534.6,121.9 534.6,120.5 534.7,118.9 534.8,124.8 534.8,123.0 534.9,125.9 534.9,117.3 535.0,119.3 535.1,122.2 535.1,123.8 535.2,125.5 535.2,122.1 535.3,125.8 535.4,125.0 535.4,121.6 535.5,125.6 535.5,122.5 535.6,122.7 535.7,117.8 535.7,118.6 535.8,118.9 535.8,122.1 535.9,117.5 536.0,115.4 536.0,120.6 536.1,129.0 536.1,121.4 536.2,117.9 536.3,119.9 536.3,122.8 536.4,124.5 536.4,122.4 536.5,126.8 536.6,123.8 536.6,118.0 536.7,124.8 536.7,119.2 536.8,124.8 536.9,121.6 536.9,114.4 537.0,114.6 537.0,120.1 537.1,121.1 537.2,124.1 537.2,122.3 537.3,125.1 537.3,122.6 537.4,120.3 537.5,116.6 537.5,124.3 537.6,123.0 537.6,122.7 537.7,116.8 537.8,122.6 537.8,113.0 537.9,120.6 537.9,118.7 538.0,118.5 538.1,110.4 538.1,124.6 538.2,114.5 538.2,115.3 538.3,116.4 538.4,115.7 538.4,111.5 538.5,119.7 538.5,116.7 538.6,118.0 538.7,112.3 538.7,118.4 538.8,117.4 538.8,121.9 538.9,115.1 539.0,110.8 539.0,117.5 539.1,118.5 539.1,121.0 539.2,119.8 539.3,114.6 539.3,117.7 539.4,113.9 539.4,119.3 539.5,125.6 539.6,114.1 539.6,112.9 539.7,113.0 539.7,116.5 539.8,118.9 539.9,116.6 539.9,111.4 540.0,118.1 540.0,119.4 540.1,121.9 540.2,119.0 540.2,112.1 540.3,120.3 540.3,116.1 540.4,112.6 540.5,116.9 540.5,117.6 540.6,118.1 540.6,114.4 540.7,115.5 540.8,117.1 540.8,118.1 540.9,118.4 540.9,112.7 541.0,120.2 541.1,112.3 541.1,117.8 541.2,116.6 541.2,109.3 541.3,113.8 541.4,116.0 541.4,117.2 541.5,115.5 541.5,117.5 541.6,115.7 541.7,114.9 541.7,118.6 541.8,124.4 541.8,114.3 541.9,114.6 542.0,117.1 542.0,112.9 542.1,124.9 542.1,115.1 542.2,121.1 542.3,111.5 542.3,115.3 542.4,111.8 542.4,116.1 542.5,112.4 542.6,110.5 542.6,111.6 542.7,112.2 542.7,114.7 542.8,111.2 542.9,116.4 542.9,113.5 543.0,113.5 543.0,113.1 543.1,114.4 543.2,119.9 543.2,111.5 543.3,114.5 543.3,115.2 543.4,116.1 543.5,113.0 543.5,107.5 543.6,117.2 543.6,117.3 543.7,118.3 543.8,117.3 543.8,112.2 543.9,120.1 543.9,115.0 544.0,117.5 544.1,122.9 544.1,120.4 544.2,114.0 544.2,117.2 544.3,121.6 544.4,120.1 544.4,116.9 544.5,113.0 544.5,114.5 544.6,116.4 544.7,118.2 544.7,121.7 544.8,121.4 544.8,112.2 544.9,116.3 545.0,115.0 545.0,115.7 545.1,119.7 545.1,117.7 545.2,114.4 545.3,122.9 545.3,115.7 545.4,114.5 545.4,116.4 545.5,123.9 545.6,120.5 545.6,115.9 545.7,119.0 545.7,115.0 545.8,121.0 545.9,119.2 545.9,110.5 546.0,118.5 546.0,121.7 546.1,113.3 546.2,118.0 546.2,116.4 546.3,119.4 546.3,113.2 546.4,120.8 546.5,117.0 546.5,122.5 546.6,120.6 546.6,117.0 546.7,114.4 546.8,116.1 546.8,122.6 546.9,121.5 546.9,119.5 547.0,119.9 547.1,118.2 547.1,116.6 547.2,117.8 547.2,117.6 547.3,116.4 547.4,119.7 547.4,125.8 547.5,113.1 547.5,121.1 547.6,119.5 547.7,115.7 547.7,120.7 547.8,126.9 547.8,115.3 547.9,130.6 548.0,116.1 548.0,123.7 548.1,122.0 548.1,120.8 548.2,119.8 548.3,123.5 548.3,124.0 548.4,117.6 548.4,115.9 548.5,120.4 548.6,123.9 548.6,120.7 548.7,126.7 548.7,121.5 548.8,120.2 548.9,122.9 548.9,117.6 549.0,119.0 549.0,120.7 549.1,120.1 549.2,127.6 549.2,132.1 549.3,123.4 549.3,121.4 549.4,126.2 549.5,126.8 549.5,122.0 549.6,118.6 549.6,124.4 549.7,122.5 549.8,121.8 549.8,123.3 549.9,126.6 549.9,122.8 550.0,123.2 550.1,121.9 550.1,121.2 550.2,120.4 550.2,125.8 550.3,123.9 550.4,122.3 550.4,122.7 550.5,124.9 550.5,125.7 550.6,123.9 550.7,124.2 550.7,125.2 550.8,121.1 550.8,118.7 550.9,130.1 551.0,125.4 551.0,128.0 551.1,120.2 551.1,123.9 551.2,127.9 551.3,128.5 551.3,124.6 551.4,126.8 551.4,124.0 551.5,120.1 551.6,119.4 551.6,118.3 551.7,121.0 551.7,126.5 551.8,121.9 551.9,129.1 551.9,126.5 552.0,125.6 552.0,119.9 552.1,122.4 552.2,125.4 552.2,120.2 552.3,125.7 552.3,126.5 552.4,124.6 552.5,118.3 552.5,123.8 552.6,118.9 552.6,127.6 552.7,120.9 552.8,121.0 552.8,123.0 552.9,121.0 552.9,125.6 553.0,123.8 553.1,128.8 553.1,118.0 553.2,122.9 553.2,123.9 553.3,122.3 553.4,118.8 553.4,118.9 553.5,124.1 553.5,120.5 553.6,116.9 553.7,118.7 553.7,123.5 553.8,124.5 553.8,122.6 553.9,125.0 554.0,123.2 554.0,123.8 554.1,118.9 554.1,120.6 554.2,125.6 554.3,123.9 554.3,125.0 554.4,126.4 554.4,115.3 554.5,125.2 554.6,125.5 554.6,123.6 554.7,124.1 554.7,119.4 554.8,125.1 554.9,124.8 554.9,123.9 555.0,125.7 555.0,128.0 555.1,123.9 555.2,121.9 555.2,123.5 555.3,127.5 555.3,125.8 555.4,123.0 555.5,123.1 555.5,124.3 555.6,119.4 555.6,120.2 555.7,124.5 555.8,124.2 555.8,121.5 555.9,122.5 555.9,121.9 556.0,127.0 556.1,122.0 556.1,123.2 556.2,121.9 556.2,119.1 556.3,115.6 556.4,120.4 556.4,130.9 556.5,120.8 556.5,133.3 556.6,123.3 556.7,127.4 556.7,120.8 556.8,118.4 556.8,115.9 556.9,127.3 557.0,125.3 557.0,115.6 557.1,123.8 557.1,120.5 557.2,123.0 557.3,120.9 557.3,124.1 557.4,128.6 557.4,124.2 557.5,124.6 557.6,124.4 557.6,122.7 557.7,122.5 557.7,126.5 557.8,128.3 557.9,125.7 557.9,123.6 558.0,125.7 558.0,126.3 558.1,124.0 558.2,121.0 558.2,125.8 558.3,119.3 558.3,125.2 558.4,120.5 558.5,120.2 558.5,122.7 558.6,120.5 558.6,123.1 558.7,124.0 558.8,122.4 558.8,124.2 558.9,127.0 558.9,123.2 559.0,122.1 559.1,124.3 559.1,124.3 559.2,118.6 559.2,122.6 559.3,119.7 559.4,127.4 559.4,119.8 559.5,121.3 559.5,123.4 559.6,115.7 559.7,117.1 559.7,121.2 559.8,122.2 559.8,118.5 559.9,123.0 560.0,124.5 560.0,124.6 560.1,127.9 560.1,125.2 560.2,122.4 560.3,127.4 560.3,126.8 560.4,122.4 560.4,121.1 560.5,125.1 560.6,125.1 560.6,128.4 560.7,124.6 560.7,127.2 560.8,127.8 560.9,125.0 560.9,126.5 561.0,119.7 561.0,121.1 561.1,124.1 561.2,123.0 561.2,123.5 561.3,124.5 561.3,119.8 561.4,127.7 561.5,125.2 561.5,126.2 561.6,117.7 561.6,120.3 561.7,118.1 561.8,119.9 561.8,123.7 561.9,124.1 561.9,126.3 562.0,120.6 562.1,125.8 562.1,120.2 562.2,124.5 562.2,125.9 562.3,119.2 562.4,121.3 562.4,124.1 562.5,124.3 562.5,118.5 562.6,117.1 562.7,118.0 562.7,123.6 562.8,124.0 562.8,122.6 562.9,124.2 563.0,124.1 563.0,122.5 563.1,125.9 563.1,115.3 563.2,117.0 563.3,117.6 563.3,122.2 563.4,114.7 563.4,126.9 563.5,126.2 563.6,126.3 563.6,115.5 563.7,123.0 563.7,121.6 563.8,125.7 563.9,120.7 563.9,122.0 564.0,116.8 564.0,124.4 564.1,126.6 564.2,121.8 564.2,114.5 564.3,119.4 564.3,117.6 564.4,122.7 564.5,120.7 564.5,123.8 564.6,123.4 564.6,123.1 564.7,125.5 564.8,118.4 564.8,125.7 564.9,120.8 564.9,119.0 565.0,125.0 565.1,123.9 565.1,125.6 565.2,126.3 565.2,121.2 565.3,125.0 565.4,118.1 565.4,122.5 565.5,121.1 565.5,119.1 565.6,116.9 565.7,123.2 565.7,116.3 565.8,120.0 565.8,127.1 565.9,127.0 566.0,123.4 566.0,120.6 566.1,127.0 566.1,121.2 566.2,122.4 566.3,123.8 566.3,118.1 566.4,116.1 566.4,115.1 566.5,116.6 566.6,117.4 566.6,119.9 566.7,123.6 566.7,120.2 566.8,118.8 566.9,123.3 566.9,117.9 567.0,125.0 567.0,122.7 567.1,125.9 567.2,122.9 567.2,122.1 567.3,123.3 567.3,123.2 567.4,123.8 567.5,122.6 567.5,124.7 567.6,119.3 567.6,125.9 567.7,120.3 567.8,128.7 567.8,119.3 567.9,121.9 567.9,129.0 568.0,125.5 568.1,119.3 568.1,125.5 568.2,122.0 568.2,118.8 568.3,127.4 568.4,123.0 568.4,129.2 568.5,121.9 568.5,123.0 568.6,126.2 568.7,120.3 568.7,122.5 568.8,116.2 568.8,125.6 568.9,127.1 569.0,126.1 569.0,122.9 569.1,118.7 569.1,127.5 569.2,120.5 569.3,122.1 569.3,127.7 569.4,124.7 569.4,124.9 569.5,129.7 569.6,121.6 569.6,125.5 569.7,118.6 569.7,121.5 569.8,121.6 569.9,122.4 569.9,122.2 570.0,116.4 570.0,118.9 570.1,123.7 570.2,117.2 570.2,125.0 570.3,125.9 570.3,116.3 570.4,116.6 570.5,127.1 570.5,124.2 570.6,118.7 570.6,118.9 570.7,119.4 570.8,121.6 570.8,116.4 570.9,125.0 570.9,117.6 571.0,118.2 571.1,120.9 571.1,123.1 571.2,120.1 571.2,120.8 571.3,125.1 571.4,120.1 571.4,119.6 571.5,123.0 571.5,121.8 571.6,119.6 571.7,117.9 571.7,121.6 571.8,121.4 571.8,122.0 571.9,117.6 572.0,114.4 572.0,115.3 572.1,126.7 572.1,117.6 572.2,116.9 572.3,117.5 572.3,114.4 572.4,115.6 572.4,121.1 572.5,122.0 572.6,115.6 572.6,118.1 572.7,117.7 572.7,119.6 572.8,117.4 572.9,117.4 572.9,116.8 573.0,116.6 573.0,114.9 573.1,119.3 573.2,120.5 573.2,113.5 573.3,120.4 573.3,115.7 573.4,120.9 573.5,119.7 573.5,110.4 573.6,112.6 573.6,118.6 573.7,119.6 573.8,118.8 573.8,115.8 573.9,119.5 573.9,111.0 574.0,121.5 574.1,119.8 574.1,117.0 574.2,121.1 574.2,114.4 574.3,120.2 574.4,120.7 574.4,118.3 574.5,120.7 574.5,117.6 574.6,124.9 574.7,111.7 574.7,118.7 574.8,120.6 574.8,122.2 574.9,124.7 575.0,119.3 575.0,117.3 575.1,120.0 575.1,118.1 575.2,120.0 575.3,117.9 575.3,114.1 575.4,123.7 575.4,116.3 575.5,122.1 575.6,122.9 575.6,119.0 575.7,123.7 575.7,116.0 575.8,117.6 575.9,120.3 575.9,123.2 576.0,117.4 576.0,116.7 576.1,121.3 576.2,122.1 576.2,116.1 576.3,123.1 576.3,125.5 576.4,122.2 576.5,122.9 576.5,124.3 576.6,117.3 576.6,121.6 576.7,117.5 576.8,120.4 576.8,119.8 576.9,118.3 576.9,129.2 577.0,115.9 577.1,113.5 577.1,115.7 577.2,116.5 577.2,122.1 577.3,120.5 577.4,120.1 577.4,115.6 577.5,115.8 577.5,117.6 577.6,121.4 577.7,113.2 577.7,115.1 577.8,119.4 577.8,117.3 577.9,121.4 578.0,119.6 578.0,115.9 578.1,116.2 578.1,116.1 578.2,117.0 578.3,121.3 578.3,117.2 578.4,116.8 578.4,121.6 578.5,129.2 578.6,124.0 578.6,120.0 578.7,116.7 578.7,121.6 578.8,107.9 578.9,120.1 578.9,120.0 579.0,123.5 579.0,123.4 579.1,119.3 579.2,120.1 579.2,116.7 579.3,116.9 579.3,120.0 579.4,120.2 579.5,115.9 579.5,120.5 579.6,118.1 579.6,122.6 579.7,115.9 579.8,122.5 579.8,119.8 579.9,117.0 579.9,120.2 580.0,118.6 580.1,115.7 580.1,115.6 580.2,123.3 580.2,120.0 580.3,123.2 580.4,125.7 580.4,119.8 580.5,119.6 580.5,115.9 580.6,121.8 580.7,117.9 580.7,116.7 580.8,120.8 580.8,124.0 580.9,122.2 581.0,116.1 581.0,128.3 581.1,125.3 581.1,122.9 581.2,125.6 581.3,120.8 581.3,123.3 581.4,124.8 581.4,122.0 581.5,126.3 581.6,120.0 581.6,122.8 581.7,122.4 581.7,117.8 581.8,118.6 581.9,117.7 581.9,126.4 582.0,122.4 582.0,117.2 582.1,133.6 582.2,118.3 582.2,126.0 582.3,117.0 582.3,125.8 582.4,119.8 582.5,122.8 582.5,119.3 582.6,114.6 582.6,124.7 582.7,123.4 582.8,111.7 582.8,123.0 582.9,125.0 582.9,117.8 583.0,119.3 583.1,122.4 583.1,117.7 583.2,118.9 583.2,117.2 583.3,123.9 583.4,118.1 583.4,123.8 583.5,122.6 583.5,122.1 583.6,119.6 583.7,123.1 583.7,116.1 583.8,123.3 583.8,115.4 583.9,123.2 584.0,120.5 584.0,119.7 584.1,122.5 584.1,121.6 584.2,119.8 584.3,120.7 584.3,113.9 584.4,122.4 584.4,117.8 584.5,122.4 584.6,119.5 584.6,122.9 584.7,117.4 584.7,117.2 584.8,120.9 584.9,118.9 584.9,116.6 585.0,129.1 585.0,115.8 585.1,116.4 585.2,119.4 585.2,118.4 585.3,118.4 585.3,119.3 585.4,115.3 585.5,119.1 585.5,118.3 585.6,118.5 585.6,117.4 585.7,112.5 585.8,121.4 585.8,112.3 585.9,116.5 585.9,118.7 586.0,123.5 586.1,113.9 586.1,119.1 586.2,118.5 586.2,119.2 586.3,115.4 586.4,120.9 586.4,116.2 586.5,116.9 586.5,117.7 586.6,120.1 586.7,116.3 586.7,119.1 586.8,118.9 586.8,118.2 586.9,115.0 587.0,119.7 587.0,121.1 587.1,120.5 587.1,123.8 587.2,120.2 587.3,124.1 587.3,121.9 587.4,122.0 587.4,125.5 587.5,121.7 587.6,119.6 587.6,124.9 587.7,123.6 587.7,119.2 587.8,120.0 587.9,124.0 587.9,125.5 588.0,135.5 588.0,125.6 588.1,121.7 588.2,127.1 588.2,116.2 588.3,125.8 588.3,125.8 588.4,124.1 588.5,119.5 588.5,123.1 588.6,118.9 588.6,126.6 588.7,117.6 588.8,123.7 588.8,120.5 588.9,116.4 588.9,123.3 589.0,129.1 589.1,127.3 589.1,121.1 589.2,123.3 589.2,124.3 589.3,127.4 589.4,123.2 589.4,128.1 589.5,122.6 589.5,124.1 589.6,123.0 589.7,122.5 589.7,123.6 589.8,122.5 589.8,130.0 589.9,116.9 590.0,128.8 590.0,126.2 590.1,124.2 590.1,127.3 590.2,127.3 590.3,120.6 590.3,118.5 590.4,130.9 590.4,126.3 590.5,124.9 590.6,131.0 590.6,122.5 590.7,121.4 590.7,127.0 590.8,124.1 590.9,122.7 590.9,121.0 591.0,124.0 591.0,119.5 591.1,128.0 591.2,119.4 591.2,120.9 591.3,122.1 591.3,119.0 591.4,129.2 591.5,120.7 591.5,125.9 591.6,119.3 591.6,131.1 591.7,125.2 591.8,126.6 591.8,123.1 591.9,125.3 591.9,120.4 592.0,122.6 592.1,125.0 592.1,118.5 592.2,120.8 592.2,128.1 592.3,126.5 592.4,123.3 592.4,126.7 592.5,123.8 592.5,128.1 592.6,121.6 592.7,118.4 592.7,121.3 592.8,129.3 592.8,118.5 592.9,122.4 593.0,123.7 593.0,119.7 593.1,124.4 593.1,121.4 593.2,124.9 593.3,122.1 593.3,126.6 593.4,121.0 593.4,116.2 593.5,130.9 593.6,128.5 593.6,122.9 593.7,123.1 593.7,120.7 593.8,130.1 593.9,120.0 593.9,126.8 594.0,125.9 594.0,121.3 594.1,129.4 594.2,119.4 594.2,125.8 594.3,123.5 594.3,125.0 594.4,117.1 594.5,122.8 594.5,125.9 594.6,118.7 594.6,124.9 594.7,127.6 594.8,127.0 594.8,119.2 594.9,127.5 594.9,119.4 595.0,126.1 595.1,116.5 595.1,121.0 595.2,117.2 595.2,129.2 595.3,125.7 595.4,118.2 595.4,118.9 595.5,125.5 595.5,123.9 595.6,121.4 595.7,122.6 595.7,123.7 595.8,120.9 595.8,115.8 595.9,117.3 596.0,114.4 596.0,114.7 596.1,109.9 596.1,113.4 596.2,112.7 596.3,111.2 596.3,109.8 596.4,109.4 596.4,111.3 596.5,110.8 596.6,111.4 596.6,115.6 596.7,115.7 596.7,116.7 596.8,123.9 596.9,119.9 596.9,124.1 597.0,115.6 597.0,124.9 597.1,119.5 597.2,122.7 597.2,129.3 597.3,123.8 597.3,125.4 597.4,118.0 597.5,119.0 597.5,116.8 597.6,125.8 597.6,118.7 597.7,123.3 597.8,128.2 597.8,118.0 597.9,121.9 597.9,116.5 598.0,123.9 598.1,121.4 598.1,125.4 598.2,123.4 598.2,126.1 598.3,116.3 598.4,117.9 598.4,125.0 598.5,123.5 598.5,121.1 598.6,119.2 598.7,120.2 598.7,118.1 598.8,123.6 598.8,118.5 598.9,122.0 599.0,116.9 599.0,127.1 599.1,122.7 599.1,121.0 599.2,120.1 599.3,117.0 599.3,123.6 599.4,125.2 599.4,128.3 599.5,122.3 599.6,117.8 599.6,119.4 599.7,123.5 599.7,119.7 599.8,116.8 599.9,127.7 599.9,120.2 600.0,121.2 600.0,130.2 600.1,118.9 600.2,124.8 600.2,125.8 600.3,122.8 600.3,121.2 600.4,121.0 600.5,123.1 600.5,119.5 600.6,127.0 600.6,129.0 600.7,113.8 600.8,124.9 600.8,122.0 600.9,122.6 600.9,133.7 601.0,121.6 601.1,123.1 601.1,118.5 601.2,125.0 601.2,125.6 601.3,123.8 601.4,126.2 601.4,119.6 601.5,124.7 601.5,126.1 601.6,119.5 601.7,122.3 601.7,120.0 601.8,119.5 601.8,128.3 601.9,121.7 602.0,119.3 602.0,108.2 602.1,122.4 602.1,130.4 602.2,126.2 602.3,119.9 602.3,122.8 602.4,122.3 602.4,120.4 602.5,121.3 602.6,120.9 602.6,123.4 602.7,126.1 602.7,118.0 602.8,119.5 602.9,120.3 602.9,124.9 603.0,118.2 603.0,119.0 603.1,124.5 603.2,118.3 603.2,115.1 603.3,125.4 603.3,120.3 603.4,124.1 603.5,119.2 603.5,116.6 603.6,116.4 603.6,130.3 603.7,130.1 603.8,127.9 603.8,129.5 603.9,121.5 603.9,123.5 604.0,114.7 604.1,121.8 604.1,125.3 604.2,122.1 604.2,131.2 604.3,119.1 604.4,123.6 604.4,120.1 604.5,121.1 604.5,119.9 604.6,122.3 604.7,116.0 604.7,125.4 604.8,121.6 604.8,119.0 604.9,117.0 605.0,122.7 605.0,120.4 605.1,121.9 605.1,120.0 605.2,125.9 605.3,126.7 605.3,119.3 605.4,128.0 605.4,124.3 605.5,122.1 605.6,124.6 605.6,119.9 605.7,123.6 605.7,121.5 605.8,125.9 605.9,119.9 605.9,122.0 606.0,124.0 606.0,124.6 606.1,116.0 606.2,127.8 606.2,114.8 606.3,111.9 606.3,112.7 606.4,112.4 606.5,110.5 606.5,110.5 606.6,109.0 606.6,111.8 606.7,111.0 606.8,111.0 606.8,112.0 606.9,110.6 606.9,114.0 607.0,118.6 607.1,125.4 607.1,124.9 607.2,128.6 607.2,121.6 607.3,120.9 607.4,119.1 607.4,116.2 607.5,120.0 607.5,115.7 607.6,119.8 607.7,125.7 607.7,124.5 607.8,126.5 607.8,115.2 607.9,123.9 608.0,121.6 608.0,121.4 608.1,123.9 608.1,121.2 608.2,120.9 608.3,117.1 608.3,127.2 608.4,118.9 608.4,123.2 608.5,117.6 608.6,117.0 608.6,121.8 608.7,118.9 608.7,123.3 608.8,120.2 608.9,122.1 608.9,124.0 609.0,115.1 609.0,122.0 609.1,111.5 609.2,117.0 609.2,117.2 609.3,114.7 609.3,119.3 609.4,117.5 609.5,115.2 609.5,125.2 609.6,117.8 609.6,113.2 609.7,110.6 609.8,112.3 609.8,108.5 609.9,109.6 609.9,110.3 610.0,111.2 610.1,111.8 610.1,108.7 610.2,110.2 610.2,110.4 610.3,112.5 610.4,113.7 610.4,122.0 610.5,122.8 610.5,116.8 610.6,112.8 610.7,113.3 610.7,117.7 610.8,114.9 610.8,117.3 610.9,121.4 611.0,121.2 611.0,118.0 611.1,113.4 611.1,121.3 611.2,120.4 611.3,115.3 611.3,119.8 611.4,121.9 611.4,126.0 611.5,120.1 611.6,122.4 611.6,118.6 611.7,121.5 611.7,120.3 611.8,123.2 611.9,115.5 611.9,120.3 612.0,112.3 612.0,115.6 612.1,117.2 612.2,116.7 612.2,119.9 612.3,121.6 612.3,124.1 612.4,121.6 612.5,121.7 612.5,121.8 612.6,124.9 612.6,119.8 612.7,129.7 612.8,124.8 612.8,120.7 612.9,113.4 612.9,119.8 613.0,120.1 613.1,122.3 613.1,122.3 613.2,128.0 613.2,117.0 613.3,120.9 613.4,123.3 613.4,125.0 613.5,116.5 613.5,126.3 613.6,115.4 613.7,113.5 613.7,111.9 613.8,109.9 613.8,112.4 613.9,112.1 614.0,108.5 614.0,110.3 614.1,109.5 614.1,111.0 614.2,112.9 614.3,112.5 614.3,113.3 614.4,115.5 614.4,118.2 614.5,124.3 614.6,120.8 614.6,121.8 614.7,122.7 614.7,124.1 614.8,116.8 614.9,125.4 614.9,116.1 615.0,122.9 615.0,115.2 615.1,119.2 615.2,119.0 615.2,121.3 615.3,121.4 615.3,116.0 615.4,119.4 615.5,118.8 615.5,121.1 615.6,118.1 615.6,116.7 615.7,120.5 615.8,123.0 615.8,112.8 615.9,123.7 615.9,120.5 616.0,123.1 616.1,118.7 616.1,117.5 616.2,123.2 616.2,119.4 616.3,118.0 616.4,120.3 616.4,124.5 616.5,124.4 616.5,125.7 616.6,120.5 616.7,115.0 616.7,125.7 616.8,121.1 616.8,116.5 616.9,118.5 617.0,118.9 617.0,116.3 617.1,121.4 617.1,122.1 617.2,122.7 617.3,123.5 617.3,122.3 617.4,115.6 617.4,118.8 617.5,123.2 617.6,120.8 617.6,121.0 617.7,118.5 617.7,122.8 617.8,120.5 617.9,122.3 617.9,123.6 618.0,127.7 618.0,123.9 618.1,120.3 618.2,117.0 618.2,128.1 618.3,125.5 618.3,115.4 618.4,122.1 618.5,125.0 618.5,120.3 618.6,122.2 618.6,118.6 618.7,124.6 618.8,123.7 618.8,118.1 618.9,121.9 618.9,117.3 619.0,123.8 619.1,116.9 619.1,123.5 619.2,118.6 619.2,118.1 619.3,124.8 619.4,121.3 619.4,116.2 619.5,115.1 619.5,115.8 619.6,114.2 619.7,112.6 619.7,115.3 619.8,113.3 619.8,114.3 619.9,114.0 620.0,114.9 620.0,115.0 620.1,115.7 620.1,116.4 620.2,115.2 620.3,118.5 620.3,120.9 620.4,117.3 620.4,122.4 620.5,119.1 620.6,121.8 620.6,116.0 620.7,123.9 620.7,124.4 620.8,122.6 620.9,118.1 620.9,115.3 621.0,117.8 621.0,120.6 621.1,118.6 621.2,120.3 621.2,126.6 621.3,119.6 621.3,115.6 621.4,126.1 621.5,124.2 621.5,128.1 621.6,123.7 621.6,122.9 621.7,124.8 621.8,124.5 621.8,130.7 621.9,118.4 621.9,121.2 622.0,121.3 622.1,118.5 622.1,131.4 622.2,124.4 622.2,125.1 622.3,126.5 622.4,119.5 622.4,124.5 622.5,126.3 622.5,120.8 622.6,129.8 622.7,126.0 622.7,127.6 622.8,124.2 622.8,119.9 622.9,117.2 623.0,125.2 623.0,124.6 623.1,125.4 623.1,117.7 623.2,131.5 623.3,120.2 623.3,119.9 623.4,126.8 623.4,120.7 623.5,128.2 623.6,125.6 623.6,120.1 623.7,115.8 623.7,123.3 623.8,125.3 623.9,119.7 623.9,125.5 624.0,123.2 624.0,122.1 624.1,124.9 624.2,123.5 624.2,125.7 624.3,113.9 624.3,117.9 624.4,125.8 624.5,126.9 624.5,130.0 624.6,126.8 624.6,111.6 624.7,113.0 624.8,112.5 624.8,111.7 624.9,110.5 624.9,107.9 625.0,110.2 625.1,107.2 625.1,111.6 625.2,107.1 625.2,112.5 625.3,109.7 625.4,115.5 625.4,118.5 625.5,130.6 625.5,122.7 625.6,123.4 625.7,124.7 625.7,127.7 625.8,121.1 625.8,126.4 625.9,124.5 626.0,115.8 626.0,123.8 626.1,115.1 626.1,123.1 626.2,119.2 626.3,122.0 626.3,124.2 626.4,122.3 626.4,126.7 626.5,125.1 626.6,129.3 626.6,120.7 626.7,123.5 626.7,123.2 626.8,119.9 626.9,124.9 626.9,128.1 627.0,126.8 627.0,127.2 627.1,125.2 627.2,123.4 627.2,117.2 627.3,116.9 627.3,116.9 627.4,114.4 627.5,114.0 627.5,113.7 627.6,111.7 627.6,112.5 627.7,115.1 627.8,114.2 627.8,114.9 627.9,118.2 627.9,118.3 628.0,124.6 628.1,130.1 628.1,120.5 628.2,133.6 628.2,125.6 628.3,124.0 628.4,131.1 628.4,125.7 628.5,126.2 628.5,120.9 628.6,128.2 628.7,126.7 628.7,122.2 628.8,121.1 628.8,122.4 628.9,132.8 629.0,128.6 629.0,122.3 629.1,123.5 629.1,121.9 629.2,133.1 629.3,129.9 629.3,126.0 629.4,130.6 629.4,122.0 629.5,130.0 629.6,131.7 629.6,122.5 629.7,124.0 629.7,131.2 629.8,132.2 629.9,122.9 629.9,121.7 630.0,131.8 630.0,126.8 630.1,129.0 630.2,128.9 630.2,132.2 630.3,119.0 630.3,126.2 630.4,129.8 630.5,128.6 630.5,123.8 630.6,123.3 630.6,137.1 630.7,121.9 630.8,136.6 630.8,128.1 630.9,127.1 630.9,123.6 631.0,129.7 631.1,129.2 631.1,128.8 631.2,127.5 631.2,125.5 631.3,126.2 631.4,125.7 631.4,126.1 631.5,128.4 631.5,124.9 631.6,133.1 631.7,125.7 631.7,127.5 631.8,129.6 631.8,129.7 631.9,127.3 632.0,130.4 632.0,132.3 632.1,124.3 632.1,129.7 632.2,129.3 632.3,126.3 632.3,127.5 632.4,128.1 632.4,127.5 632.5,124.3 632.6,128.8 632.6,126.2 632.7,134.6 632.7,127.5 632.8,132.5 632.9,123.7 632.9,128.0 633.0,123.4 633.0,124.8 633.1,132.8 633.2,130.3 633.2,121.7 633.3,129.5 633.3,123.0 633.4,127.6 633.5,130.8 633.5,127.7 633.6,125.3 633.6,132.2 633.7,127.0 633.8,131.5 633.8,131.4 633.9,129.8 633.9,123.7 634.0,128.3 634.1,125.0 634.1,128.9 634.2,127.7 634.2,127.7 634.3,127.3 634.4,129.9 634.4,128.2 634.5,130.5 634.5,130.3 634.6,126.5 634.7,125.2 634.7,127.2 634.8,125.2 634.8,129.7 634.9,127.4 635.0,122.4 635.0,122.9 635.1,133.9 635.1,121.6 635.2,125.5 635.3,127.1 635.3,130.0 635.4,120.7 635.4,125.3 635.5,125.9 635.6,134.7 635.6,128.1 635.7,134.7 635.7,115.9 635.8,124.3 635.9,128.4 635.9,127.0 636.0,124.3 636.0,125.7 636.1,127.5 636.2,132.8 636.2,129.3 636.3,127.9 636.3,124.7 636.4,128.9 636.5,127.1 636.5,124.6 636.6,126.1 636.6,131.0 636.7,136.5 636.8,127.3 636.8,128.9 636.9,131.5 636.9,123.8 637.0,130.0 637.1,125.6 637.1,129.9 637.2,126.4 637.2,121.3 637.3,131.4 637.4,120.6 637.4,119.8 637.5,129.6 637.5,123.1 637.6,131.5 637.7,125.0 637.7,129.4 637.8,133.8 637.8,132.1 637.9,129.2 638.0,125.9 638.0,129.5 638.1,124.5 638.1,125.8 638.2,136.5 638.3,123.5 638.3,131.2 638.4,126.5 638.4,119.2 638.5,127.6 638.6,121.0 638.6,125.5 638.7,130.7 638.7,115.3 638.8,127.4 638.9,119.7 638.9,123.3 639.0,122.7 639.0,125.6 639.1,123.7 639.2,127.3 639.2,123.4 639.3,120.5 639.3,132.6 639.4,128.9 639.5,122.9 639.5,131.1 639.6,129.4 639.6,127.9 639.7,120.6 639.8,123.2 639.8,130.3 639.9,127.5 639.9,128.1 640.0,120.9 640.1,124.0 640.1,122.1 640.2,125.7 640.2,132.6 640.3,119.6 640.4,125.5 640.4,125.9 640.5,123.9 640.5,114.3 640.6,123.7 640.7,122.5 640.7,130.8 640.8,123.0 640.8,130.2 640.9,126.7 641.0,116.3 641.0,120.6 641.1,127.7 641.1,138.9 641.2,122.1 641.3,132.6 641.3,122.3 641.4,125.6 641.4,127.2 641.5,127.5 641.6,116.8 641.6,124.6 641.7,127.8 641.7,132.1 641.8,138.2 641.9,126.3 641.9,130.6 642.0,127.9 642.0,122.3 642.1,121.4 642.2,134.6 642.2,130.9 642.3,118.8 642.3,126.8 642.4,124.0 642.5,121.7 642.5,129.0 642.6,126.0 642.6,122.3 642.7,126.5 642.8,128.3 642.8,122.1 642.9,124.2 642.9,131.0 643.0,118.9 643.1,128.2 643.1,124.9 643.2,123.3 643.2,120.1 643.3,119.0 643.4,117.4 643.4,113.6 643.5,111.7 643.5,113.2 643.6,112.6 643.7,112.5 643.7,117.0 643.8,117.5 643.8,113.4 643.9,116.8 644.0,118.2" fill="none" stroke="#000" stroke-width="0.7" stroke-linejoin="bevel"/>
<text x="2.6" y="269.9" font-size="17.2" text-anchor="start" font-weight="bold" fill="#000" stroke="#000" stroke-width="0.5">C</text>
<path d="M34.8,298.1 V448.2 H158.9" stroke="#000" stroke-width="1.35" fill="none" />
<line x1="29.599999999999998" y1="298.7" x2="34.8" y2="298.7" stroke="#000" stroke-width="1.35"/>
<text x="27.6" y="302.9" font-size="10.4" text-anchor="end" font-weight="bold" fill="#000" >60</text>
<line x1="29.599999999999998" y1="348.5" x2="34.8" y2="348.5" stroke="#000" stroke-width="1.35"/>
<text x="27.6" y="352.7" font-size="10.4" text-anchor="end" font-weight="bold" fill="#000" >40</text>
<line x1="29.599999999999998" y1="398.4" x2="34.8" y2="398.4" stroke="#000" stroke-width="1.35"/>
<text x="27.6" y="402.59999999999997" font-size="10.4" text-anchor="end" font-weight="bold" fill="#000" >20</text>
<line x1="29.599999999999998" y1="448.2" x2="34.8" y2="448.2" stroke="#000" stroke-width="1.35"/>
<text x="27.6" y="452.4" font-size="10.4" text-anchor="end" font-weight="bold" fill="#000" >0</text>
<line x1="59.6" y1="448.2" x2="59.6" y2="453.8" stroke="#000" stroke-width="1.35"/>
<text x="59.6" y="464.6" font-size="10.1" text-anchor="middle" font-weight="bold" fill="#000" >Naive</text>
<line x1="96.4" y1="448.2" x2="96.4" y2="453.8" stroke="#000" stroke-width="1.35"/>
<text x="96.4" y="464.6" font-size="10.1" text-anchor="middle" font-weight="bold" fill="#000" >CFA</text>
<line x1="133.5" y1="448.2" x2="133.5" y2="453.8" stroke="#000" stroke-width="1.35"/>
<text x="133.5" y="464.6" font-size="10.1" text-anchor="middle" font-weight="bold" fill="#000" >pSNL</text>
<text x="0" y="0" font-size="11.3" text-anchor="middle" font-weight="bold" fill="#000" transform="translate(9.1,372.3) rotate(-90)">Percent active SGCs</text>
<circle cx="59.8" cy="323.2" r="2.75" fill="#000"/>
<circle cx="54.2" cy="403.2" r="2.75" fill="#000"/>
<circle cx="65.3" cy="405" r="2.75" fill="#000"/>
<circle cx="59.7" cy="415.4" r="2.75" fill="#000"/>
<circle cx="59.7" cy="440.3" r="2.75" fill="#000"/>
<circle cx="59.7" cy="448.3" r="2.75" fill="#000"/>
<line x1="47.6" y1="406" x2="72" y2="406" stroke="#000" stroke-width="1.35"/>
<rect x="88.25" y="352.65" width="5.3" height="5.3" fill="#000"/>
<rect x="99.35" y="348.75" width="5.3" height="5.3" fill="#000"/>
<rect x="99.35" y="357.65" width="5.3" height="5.3" fill="#000"/>
<rect x="93.75" y="364.15" width="5.3" height="5.3" fill="#000"/>
<rect x="93.75" y="376.95" width="5.3" height="5.3" fill="#000"/>
<rect x="93.75" y="385.85" width="5.3" height="5.3" fill="#000"/>
<line x1="84.4" y1="366.8" x2="108.7" y2="366.8" stroke="#000" stroke-width="1.35"/>
<path d="M130.70,311.66 L136.30,311.66 L133.50,306.34 Z" fill="#000"/>
<path d="M125.20,331.66 L130.80,331.66 L128.00,326.34 Z" fill="#000"/>
<path d="M136.20,330.26 L141.80,330.26 L139.00,324.94 Z" fill="#000"/>
<path d="M130.70,354.06 L136.30,354.06 L133.50,348.74 Z" fill="#000"/>
<path d="M130.70,366.46 L136.30,366.46 L133.50,361.14 Z" fill="#000"/>
<path d="M130.70,378.86 L136.30,378.86 L133.50,373.54 Z" fill="#000"/>
<path d="M130.70,386.16 L136.30,386.16 L133.50,380.84 Z" fill="#000"/>
<line x1="121.2" y1="348.3" x2="145.4" y2="348.3" stroke="#000" stroke-width="1.35"/>
<path d="M59.2,271 V263.6 H136.1 V284.5" stroke="#000" stroke-width="1.35" fill="none" />
<path d="M57.9,314.6 V292.4 H94.8 V342.5" stroke="#000" stroke-width="1.35" fill="none" />
<path d="M97.6,342.5 V292.4 H135.9 V298.8" stroke="#000" stroke-width="1.35" fill="none" />
<path d="M96.6,252.8 V259.8 M93.57,258.05 L99.63,254.55 M93.57,254.55 L99.63,258.05 " stroke="#000" stroke-width="1.5" fill="none" />
<text x="79.0" y="288.3" font-size="14.2" text-anchor="middle" font-weight="normal" fill="#1a1a1a" >ns</text>
<text x="117.3" y="289.2" font-size="14.2" text-anchor="middle" font-weight="normal" fill="#1a1a1a" >ns</text>
<text x="207.3" y="269.9" font-size="17.2" text-anchor="start" font-weight="bold" fill="#000" stroke="#000" stroke-width="0.5">D</text>
<path d="M256.7,290.0 V443.0 H379.6" stroke="#000" stroke-width="1.35" fill="none" />
<line x1="250.7" y1="290.6" x2="256.7" y2="290.6" stroke="#000" stroke-width="1.35"/>
<text x="249.0" y="294.8" font-size="10.4" text-anchor="end" font-weight="bold" fill="#000" >200</text>
<line x1="250.7" y1="328.7" x2="256.7" y2="328.7" stroke="#000" stroke-width="1.35"/>
<text x="249.0" y="332.9" font-size="10.4" text-anchor="end" font-weight="bold" fill="#000" >150</text>
<line x1="250.7" y1="366.9" x2="256.7" y2="366.9" stroke="#000" stroke-width="1.35"/>
<text x="249.0" y="371.09999999999997" font-size="10.4" text-anchor="end" font-weight="bold" fill="#000" >100</text>
<line x1="250.7" y1="405.0" x2="256.7" y2="405.0" stroke="#000" stroke-width="1.35"/>
<text x="249.0" y="409.2" font-size="10.4" text-anchor="end" font-weight="bold" fill="#000" >50</text>
<line x1="250.7" y1="443.0" x2="256.7" y2="443.0" stroke="#000" stroke-width="1.35"/>
<text x="249.0" y="447.2" font-size="10.4" text-anchor="end" font-weight="bold" fill="#000" >0</text>
<line x1="281.2" y1="443.0" x2="281.2" y2="447.8" stroke="#000" stroke-width="1.35"/>
<text x="281.2" y="460.2" font-size="10.1" text-anchor="middle" font-weight="bold" fill="#000" >Naive</text>
<line x1="317.6" y1="443.0" x2="317.6" y2="447.8" stroke="#000" stroke-width="1.35"/>
<text x="317.6" y="460.2" font-size="10.1" text-anchor="middle" font-weight="bold" fill="#000" >CFA</text>
<line x1="354.3" y1="443.0" x2="354.3" y2="447.8" stroke="#000" stroke-width="1.35"/>
<text x="354.3" y="460.2" font-size="10.1" text-anchor="middle" font-weight="bold" fill="#000" >pSNL</text>
<text x="0" y="0" font-size="11.3" text-anchor="middle" font-weight="bold" fill="#000" transform="translate(223.4,365.8) rotate(-90)">Number of cells</text>
<circle cx="280.3" cy="346.5" r="2.2" fill="#000"/>
<circle cx="276.5" cy="384.7" r="2.2" fill="#000"/>
<circle cx="284.8" cy="385" r="2.2" fill="#000"/>
<circle cx="281" cy="409.6" r="2.2" fill="#000"/>
<circle cx="281" cy="420" r="2.2" fill="#000"/>
<circle cx="281" cy="433.4" r="2.2" fill="#000"/>
<line x1="268.5" y1="396.2" x2="292.9" y2="396.2" stroke="#000" stroke-width="1.35"/>
<rect x="315.20" y="330.80" width="4.4" height="4.4" fill="#000"/>
<rect x="315.20" y="343.00" width="4.4" height="4.4" fill="#000"/>
<rect x="315.40" y="366.60" width="4.4" height="4.4" fill="#000"/>
<rect x="315.40" y="378.60" width="4.4" height="4.4" fill="#000"/>
<rect x="315.40" y="408.10" width="4.4" height="4.4" fill="#000"/>
<rect x="315.40" y="413.60" width="4.4" height="4.4" fill="#000"/>
<line x1="305.4" y1="375.7" x2="329.6" y2="375.7" stroke="#000" stroke-width="1.35"/>
<path d="M352.50,326.69 L357.10,326.69 L354.80,322.31 Z" fill="#000"/>
<path d="M352.20,381.08 L356.80,381.08 L354.50,376.71 Z" fill="#000"/>
<path d="M352.20,393.99 L356.80,393.99 L354.50,389.62 Z" fill="#000"/>
<path d="M352.20,404.88 L356.80,404.88 L354.50,400.51 Z" fill="#000"/>
<path d="M347.60,410.69 L352.20,410.69 L349.90,406.31 Z" fill="#000"/>
<path d="M356.20,410.69 L360.80,410.69 L358.50,406.31 Z" fill="#000"/>
<path d="M352.20,427.99 L356.80,427.99 L354.50,423.62 Z" fill="#000"/>
<line x1="341.9" y1="391.2" x2="366.5" y2="391.2" stroke="#000" stroke-width="1.35"/>
<path d="M280.3,293.5 V286.7 H354.8 V293.5" stroke="#000" stroke-width="1.35" fill="none" />
<path d="M279,338.4 V308 H315.6 V324.5" stroke="#000" stroke-width="1.35" fill="none" />
<path d="M319.1,324.5 V308 H356.1 V316" stroke="#000" stroke-width="1.35" fill="none" />
<text x="319.1" y="283.6" font-size="14.2" text-anchor="middle" font-weight="normal" fill="#1a1a1a" >ns</text>
<text x="297.4" y="305.0" font-size="14.2" text-anchor="middle" font-weight="normal" fill="#1a1a1a" >ns</text>
<text x="338.4" y="305.0" font-size="14.2" text-anchor="middle" font-weight="normal" fill="#1a1a1a" >ns</text>
<text x="414.1" y="269.9" font-size="17.2" text-anchor="start" font-weight="bold" fill="#000" stroke="#000" stroke-width="0.5">E</text>
<path d="M460.4,273.1 V442.3 H583.6" stroke="#000" stroke-width="1.35" fill="none" />
<line x1="455.0" y1="273.7" x2="460.4" y2="273.7" stroke="#000" stroke-width="1.35"/>
<text x="453.2" y="277.9" font-size="10.4" text-anchor="end" font-weight="bold" fill="#000" >1.5</text>
<line x1="455.0" y1="330.0" x2="460.4" y2="330.0" stroke="#000" stroke-width="1.35"/>
<text x="453.2" y="334.2" font-size="10.4" text-anchor="end" font-weight="bold" fill="#000" >1.0</text>
<line x1="455.0" y1="386.2" x2="460.4" y2="386.2" stroke="#000" stroke-width="1.35"/>
<text x="453.2" y="390.4" font-size="10.4" text-anchor="end" font-weight="bold" fill="#000" >0.5</text>
<line x1="455.0" y1="442.3" x2="460.4" y2="442.3" stroke="#000" stroke-width="1.35"/>
<text x="453.2" y="446.5" font-size="10.4" text-anchor="end" font-weight="bold" fill="#000" >0.0</text>
<line x1="484.8" y1="442.3" x2="484.8" y2="447.7" stroke="#000" stroke-width="1.35"/>
<text x="484.8" y="459.2" font-size="10.1" text-anchor="middle" font-weight="bold" fill="#000" >Naive</text>
<line x1="521.6" y1="442.3" x2="521.6" y2="447.7" stroke="#000" stroke-width="1.35"/>
<text x="521.6" y="459.2" font-size="10.1" text-anchor="middle" font-weight="bold" fill="#000" >CFA</text>
<line x1="558.6" y1="442.3" x2="558.6" y2="447.7" stroke="#000" stroke-width="1.35"/>
<text x="558.6" y="459.2" font-size="10.1" text-anchor="middle" font-weight="bold" fill="#000" >pSNL</text>
<text x="0" y="0" font-size="11.3" text-anchor="middle" font-weight="bold" fill="#000" transform="translate(430.8,355.2) rotate(-90)">Ca2+ signals per min</text>
<circle cx="485.4" cy="330.3" r="2.5" fill="#000"/>
<circle cx="475.2" cy="432.1" r="2.5" fill="#000"/>
<circle cx="484.8" cy="422.4" r="2.5" fill="#000"/>
<circle cx="484.8" cy="429.1" r="2.5" fill="#000"/>
<circle cx="494.1" cy="430.5" r="2.5" fill="#000"/>
<line x1="473" y1="428.9" x2="496.5" y2="428.9" stroke="#000" stroke-width="1.35"/>
<rect x="519.00" y="394.30" width="5.2" height="5.2" fill="#000"/>
<rect x="513.50" y="413.60" width="5.2" height="5.2" fill="#000"/>
<rect x="524.60" y="412.90" width="5.2" height="5.2" fill="#000"/>
<rect x="513.50" y="425.00" width="5.2" height="5.2" fill="#000"/>
<rect x="524.60" y="428.90" width="5.2" height="5.2" fill="#000"/>
<rect x="513.50" y="432.50" width="5.2" height="5.2" fill="#000"/>
<line x1="509.4" y1="421.9" x2="533.6" y2="421.9" stroke="#000" stroke-width="1.35"/>
<path d="M555.50,373.47 L560.70,373.47 L558.10,368.53 Z" fill="#000"/>
<path d="M555.50,402.27 L560.70,402.27 L558.10,397.33 Z" fill="#000"/>
<path d="M555.50,417.87 L560.70,417.87 L558.10,412.93 Z" fill="#000"/>
<path d="M546.20,429.77 L551.40,429.77 L548.80,424.83 Z" fill="#000"/>
<path d="M552.60,424.97 L557.80,424.97 L555.20,420.03 Z" fill="#000"/>
<path d="M559.30,424.97 L564.50,424.97 L561.90,420.03 Z" fill="#000"/>
<path d="M565.50,424.97 L570.70,424.97 L568.10,420.03 Z" fill="#000"/>
<line x1="546.2" y1="421.9" x2="570.6" y2="421.9" stroke="#000" stroke-width="1.35"/>
<path d="M484.6,302.3 V295.1 H558.5 V302.3" stroke="#000" stroke-width="1.35" fill="none" />
<path d="M482.8,321.5 V314.4 H519.8 V389.2" stroke="#000" stroke-width="1.35" fill="none" />
<path d="M523.3,389.2 V314.4 H559.4 V360.5" stroke="#000" stroke-width="1.35" fill="none" />
<text x="521.3" y="292.0" font-size="14.2" text-anchor="middle" font-weight="normal" fill="#1a1a1a" >ns</text>
<text x="501.5" y="310.7" font-size="14.2" text-anchor="middle" font-weight="normal" fill="#1a1a1a" >ns</text>
<text x="540.5" y="310.7" font-size="14.2" text-anchor="middle" font-weight="normal" fill="#1a1a1a" >ns</text>
</svg>
</body></html>
